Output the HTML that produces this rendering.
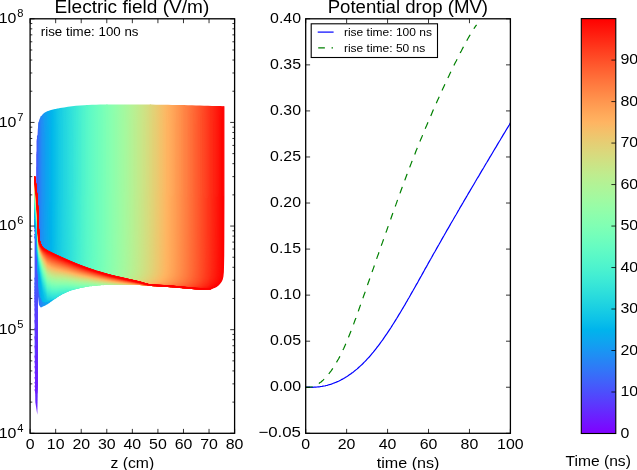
<!DOCTYPE html>
<html><head><meta charset="utf-8"><title>plot</title>
<style>html,body{margin:0;padding:0;background:#fff;}body{width:637px;height:470px;overflow:hidden;position:relative;font-family:"Liberation Sans",sans-serif;}</style>
</head><body>
<svg width="637" height="470" viewBox="0 0 637 470" style="position:absolute;left:0;top:0;will-change:transform;font-family:'Liberation Sans',sans-serif">
<rect x="0" y="0" width="637" height="470" fill="#fff"/>
<defs><linearGradient id="gm" gradientUnits="userSpaceOnUse" x1="37.3" y1="0" x2="223.8" y2="0">
<stop offset="0.0000" stop-color="#4c4ffc"/>
<stop offset="0.0080" stop-color="#3a69f9"/>
<stop offset="0.0161" stop-color="#2b7ff6"/>
<stop offset="0.0241" stop-color="#218cf4"/>
<stop offset="0.0322" stop-color="#1a95f3"/>
<stop offset="0.0402" stop-color="#149df1"/>
<stop offset="0.0483" stop-color="#0fa3f0"/>
<stop offset="0.0563" stop-color="#0ba8ef"/>
<stop offset="0.0643" stop-color="#07adee"/>
<stop offset="0.0724" stop-color="#03b1ec"/>
<stop offset="0.0804" stop-color="#02b6eb"/>
<stop offset="0.0885" stop-color="#06bbea"/>
<stop offset="0.0965" stop-color="#0bc0e8"/>
<stop offset="0.1046" stop-color="#0fc4e7"/>
<stop offset="0.1126" stop-color="#13c8e6"/>
<stop offset="0.1206" stop-color="#17cbe4"/>
<stop offset="0.1287" stop-color="#1acfe3"/>
<stop offset="0.1367" stop-color="#1ed2e2"/>
<stop offset="0.1448" stop-color="#21d5e0"/>
<stop offset="0.1528" stop-color="#24d8df"/>
<stop offset="0.1609" stop-color="#28dade"/>
<stop offset="0.1689" stop-color="#2bdddd"/>
<stop offset="0.1753" stop-color="#2ddfdc"/>
<stop offset="0.2021" stop-color="#39e7d7"/>
<stop offset="0.2290" stop-color="#46efd1"/>
<stop offset="0.2558" stop-color="#53f5cb"/>
<stop offset="0.2826" stop-color="#5efac6"/>
<stop offset="0.3094" stop-color="#68fcc1"/>
<stop offset="0.3362" stop-color="#72febc"/>
<stop offset="0.3630" stop-color="#7cffb6"/>
<stop offset="0.3898" stop-color="#86ffb1"/>
<stop offset="0.4166" stop-color="#90feab"/>
<stop offset="0.4434" stop-color="#9bfba5"/>
<stop offset="0.4702" stop-color="#a5f89e"/>
<stop offset="0.4971" stop-color="#b0f498"/>
<stop offset="0.5239" stop-color="#baef91"/>
<stop offset="0.5507" stop-color="#c5e88a"/>
<stop offset="0.5775" stop-color="#cfe183"/>
<stop offset="0.6043" stop-color="#dad87c"/>
<stop offset="0.6311" stop-color="#e5cf74"/>
<stop offset="0.6579" stop-color="#f0c46c"/>
<stop offset="0.6847" stop-color="#fbb965"/>
<stop offset="0.7115" stop-color="#ffad5d"/>
<stop offset="0.7383" stop-color="#ffa055"/>
<stop offset="0.7651" stop-color="#ff924c"/>
<stop offset="0.7920" stop-color="#ff8344"/>
<stop offset="0.8188" stop-color="#ff743c"/>
<stop offset="0.8456" stop-color="#ff6433"/>
<stop offset="0.8724" stop-color="#ff542a"/>
<stop offset="0.8992" stop-color="#ff4322"/>
<stop offset="0.9260" stop-color="#ff3119"/>
<stop offset="0.9528" stop-color="#ff2010"/>
<stop offset="0.9796" stop-color="#ff0e07"/>
<stop offset="1.0000" stop-color="#ff0000"/>
</linearGradient>
<linearGradient id="gw" gradientUnits="userSpaceOnUse" x1="0" y1="240" x2="0" y2="415">
<stop offset="0.000" stop-color="#425efa"/>
<stop offset="0.514" stop-color="#4c4ffc"/>
<stop offset="0.686" stop-color="#573ffd"/>
<stop offset="0.857" stop-color="#632cfe"/>
<stop offset="1.000" stop-color="#6e1cff"/>
</linearGradient>
<linearGradient id="gc" gradientUnits="userSpaceOnUse" x1="0" y1="433.5" x2="0" y2="18.6">
<stop offset="0.000" stop-color="#8000ff"/>
<stop offset="0.025" stop-color="#7314ff"/>
<stop offset="0.050" stop-color="#6628fe"/>
<stop offset="0.075" stop-color="#593cfd"/>
<stop offset="0.100" stop-color="#4c4ffc"/>
<stop offset="0.125" stop-color="#4062fa"/>
<stop offset="0.150" stop-color="#3374f8"/>
<stop offset="0.175" stop-color="#2685f5"/>
<stop offset="0.200" stop-color="#1996f3"/>
<stop offset="0.225" stop-color="#0da6ef"/>
<stop offset="0.250" stop-color="#00b4ec"/>
<stop offset="0.275" stop-color="#0dc2e8"/>
<stop offset="0.300" stop-color="#19cee3"/>
<stop offset="0.325" stop-color="#26d9de"/>
<stop offset="0.350" stop-color="#33e3d9"/>
<stop offset="0.375" stop-color="#40ecd4"/>
<stop offset="0.400" stop-color="#4df3ce"/>
<stop offset="0.425" stop-color="#59f8c8"/>
<stop offset="0.450" stop-color="#66fcc2"/>
<stop offset="0.475" stop-color="#73febb"/>
<stop offset="0.500" stop-color="#80ffb4"/>
<stop offset="0.525" stop-color="#8cfead"/>
<stop offset="0.550" stop-color="#99fca6"/>
<stop offset="0.575" stop-color="#a6f89e"/>
<stop offset="0.600" stop-color="#b2f396"/>
<stop offset="0.625" stop-color="#bfec8e"/>
<stop offset="0.650" stop-color="#cce385"/>
<stop offset="0.675" stop-color="#d9d97d"/>
<stop offset="0.700" stop-color="#e5ce74"/>
<stop offset="0.725" stop-color="#f2c26b"/>
<stop offset="0.750" stop-color="#ffb462"/>
<stop offset="0.775" stop-color="#ffa658"/>
<stop offset="0.800" stop-color="#ff964f"/>
<stop offset="0.825" stop-color="#ff8545"/>
<stop offset="0.850" stop-color="#ff743c"/>
<stop offset="0.875" stop-color="#ff6232"/>
<stop offset="0.900" stop-color="#ff4f28"/>
<stop offset="0.925" stop-color="#ff3c1e"/>
<stop offset="0.950" stop-color="#ff2814"/>
<stop offset="0.975" stop-color="#ff140a"/>
<stop offset="1.000" stop-color="#ff0000"/>
</linearGradient>
<clipPath id="cl"><rect x="30.1" y="18.8" width="204.5" height="414.5"/></clipPath>
<clipPath id="cm"><rect x="305.7" y="18.8" width="204.7" height="414.5"/></clipPath>
</defs>
<g clip-path="url(#cl)">
<polygon fill="url(#gw)" points="34.6,236 37.7,236 37.7,395 37.3,414.7 35.3,402 35.0,380 34.6,340"/>
<g fill="none" stroke-width="1.3" stroke-linejoin="round">
<polyline stroke="#6e1cff" points="35.0,389.3 35.8,392.0 36.4,393.4 36.8,392.9 37.0,390.4 37.1,385.5 37.2,375.1 37.3,352.8 37.4,291.0"/>
<polyline stroke="#6d1dff" points="35.0,385.5 35.8,388.4 36.4,389.9 36.8,389.4 37.0,387.0 37.1,382.2 37.2,372.0 37.3,349.9 37.4,288.5"/>
<polyline stroke="#6d1eff" points="35.0,381.9 35.8,384.9 36.4,386.5 36.8,386.1 37.0,383.8 37.1,379.1 37.2,369.0 37.3,347.1 37.4,286.1"/>
<polyline stroke="#6c1fff" points="35.0,377.2 35.8,380.3 36.4,382.1 36.8,381.8 37.0,379.6 37.1,375.0 37.2,365.1 37.3,343.5 37.4,282.8"/>
<polyline stroke="#6a21fe" points="35.0,371.6 35.8,374.9 36.4,376.8 36.8,376.7 37.0,374.6 37.1,370.2 37.2,360.5 37.3,339.1 37.4,278.7"/>
<polyline stroke="#6923fe" points="35.0,366.1 35.8,369.6 36.4,371.7 36.8,371.7 37.0,369.8 37.1,365.5 37.2,356.0 37.3,334.8 37.4,274.6"/>
<polyline stroke="#6825fe" points="35.0,360.8 35.8,364.5 36.4,366.8 36.8,367.0 37.0,365.2 37.1,361.1 37.2,351.7 37.3,330.7 37.4,270.5"/>
<polyline stroke="#6726fe" points="35.0,355.6 35.8,359.5 36.4,362.0 36.8,362.3 37.0,360.7 37.1,356.7 37.2,347.5 37.3,326.7 37.4,266.4"/>
<polyline stroke="#652afe" points="35.0,345.7 35.8,350.0 36.4,352.9 36.8,353.5 37.0,352.2 37.1,348.4 37.2,339.5 37.3,318.9 37.4,258.2"/>
<polyline stroke="#622dfe" points="35.0,336.4 35.8,341.1 36.4,344.3 36.8,345.2 37.0,344.2 37.1,340.6 37.2,332.0 37.3,311.5 37.4,250.1"/>
<polyline stroke="#6031fe" points="35.0,327.9 35.8,332.9 36.4,336.4 36.8,337.6 37.0,336.7 37.1,333.4 37.2,324.9 37.3,304.4 37.4,242.0"/>
<polyline stroke="#5e34fe" points="35.0,320.2 35.8,325.5 36.4,329.3 36.8,330.6 37.0,329.9 37.1,326.8 37.2,318.4 37.3,297.8 37.4,233.9"/>
<polyline stroke="#5c38fd" points="35.0,313.7 35.8,319.2 36.4,323.1 36.8,324.6 37.0,324.0 37.1,320.8 37.2,312.4 37.3,291.5 37.4,225.9"/>
<polyline stroke="#593cfd" points="35.0,308.4 35.8,313.9 36.4,317.9 36.8,319.5 37.0,318.9 37.1,315.8 37.2,307.2 37.3,285.7 37.4,218.0"/>
<polyline stroke="#573ffd" points="35.0,304.2 35.8,309.8 36.4,313.8 36.8,315.3 37.0,314.7 37.1,311.4 37.2,302.3 37.3,279.2"/>
<polyline stroke="#5543fd" points="34.9,300.6 35.7,306.2 36.3,310.2 36.7,311.7 37.0,311.0 37.1,307.7 37.2,299.1 37.3,278.6 37.3,219.1"/>
<polyline stroke="#5246fd" points="34.9,297.6 35.7,303.1 36.3,307.1 36.7,308.5 37.0,307.6 37.1,304.0 37.2,294.2 37.3,269.5"/>
<polyline stroke="#5049fc" points="34.9,294.8 35.7,300.3 36.3,304.2 36.7,305.5 37.0,304.6 37.1,300.8 37.2,291.0 37.3,267.2 37.3,196.2"/>
<polyline stroke="#4e4dfc" points="34.9,292.2 35.7,297.5 36.3,301.5 36.7,302.7 37.0,301.5 37.1,297.7 37.2,287.8 37.3,255.7"/>
<polyline stroke="#4b50fc" points="34.9,289.3 35.7,294.8 36.3,298.6 36.7,299.7 37.0,298.4 37.1,294.0 37.2,282.6 37.3,253.4"/>
<polyline stroke="#4954fb" points="34.9,286.1 35.7,291.6 36.3,295.4 36.7,296.6 37.0,295.2 37.1,290.8 37.2,279.4 37.3,251.5 37.3,166.7"/>
<polyline stroke="#4757fb" points="34.9,282.5 35.7,288.0 36.3,291.8 36.7,293.0 37.0,291.5 37.1,286.7 37.2,274.1 37.3,240.7"/>
<polyline stroke="#455bfb" points="34.9,277.7 35.7,283.4 36.3,287.4 36.7,288.6 37.0,287.3 37.1,282.8 37.2,271.1 37.3,242.1 37.3,153.9"/>
</g>
<polygon fill="url(#gm)" points="37.3,140.0 37.8,129.7 38.3,124.3 38.8,121.5 39.3,119.8 39.8,118.5 40.3,117.5 40.8,116.7 41.3,116.0 41.8,115.4 42.3,114.8 42.8,114.3 43.3,113.8 43.8,113.3 44.3,112.9 44.8,112.5 45.3,112.2 45.8,111.9 46.3,111.7 46.8,111.4 47.3,111.2 47.8,111.0 48.3,110.9 48.8,110.7 49.3,110.5 49.8,110.4 50.3,110.2 50.8,110.1 51.3,110.0 51.8,109.8 52.3,109.7 52.8,109.6 53.3,109.5 53.8,109.3 54.3,109.2 54.8,109.1 55.3,109.0 55.8,108.9 56.3,108.8 56.8,108.7 57.3,108.6 57.8,108.5 58.3,108.4 58.8,108.3 59.3,108.2 59.8,108.1 60.0,108.1 64.0,107.4 68.0,106.8 72.0,106.2 76.0,105.8 80.0,105.5 84.0,105.2 88.0,105.0 92.0,104.8 96.0,104.7 100.0,104.6 104.0,104.6 108.0,104.5 112.0,104.4 116.0,104.4 120.0,104.4 124.0,104.4 128.0,104.4 132.0,104.4 136.0,104.5 140.0,104.5 144.0,104.5 148.0,104.6 152.0,104.6 156.0,104.7 160.0,104.7 164.0,104.8 168.0,104.8 172.0,104.9 176.0,105.0 180.0,105.1 184.0,105.1 188.0,105.2 192.0,105.3 196.0,105.4 200.0,105.5 204.0,105.7 208.0,105.8 212.0,105.9 216.0,106.0 220.0,106.1 223.8,106.3 223.8,106.3 223.8,199.7 223.7,236.3 223.6,255.0 223.4,265.2 223.2,272.0 222.8,276.4 222.2,279.0 221.4,280.9 220.3,282.6 218.8,284.4 216.8,286.1 214.3,287.4 211.3,288.3 208.0,288.7 204.0,288.8 200.0,288.8 196.0,288.5 192.0,288.0 188.0,287.5 184.0,287.0 180.0,286.5 176.0,286.0 172.0,285.6 168.0,285.3 164.0,285.0 160.0,284.7 156.0,284.5 152.0,284.3 148.0,284.1 144.0,284.0 140.0,283.8 136.0,283.7 132.0,283.6 128.0,283.6 124.0,283.6 120.0,283.7 116.0,283.8 112.0,283.9 108.0,284.0 104.0,284.1 100.0,284.4 96.0,284.8 92.0,285.2 88.0,285.7 84.0,286.7 80.0,287.9 76.0,289.1 72.0,290.2 68.0,291.5 64.0,293.3 60.0,295.4 59.5,295.7 59.0,296.1 58.5,296.4 58.0,296.8 57.5,297.1 57.0,297.5 56.5,297.9 56.0,298.2 55.5,298.6 55.0,298.9 54.5,299.3 54.0,299.6 53.5,300.0 53.0,300.3 52.5,300.7 52.0,301.0 51.5,301.4 51.0,301.8 50.5,302.1 50.0,302.5 49.5,302.9 49.0,303.2 48.5,303.6 48.0,303.9 47.5,304.2 47.0,304.5 46.5,304.8 46.0,305.1 45.5,305.4 45.0,305.6 44.5,305.9 44.0,306.1 43.5,306.3 43.0,306.6 42.5,306.8 42.0,307.0 41.5,307.3 41.0,307.4 40.5,307.2 40.0,306.6 39.5,305.8 39.0,304.7 38.4,300.0 37.3,290.0"/>
<g fill="none" stroke-width="1.3" stroke-linejoin="round">
<polyline stroke="#4c4ffc" points="34.6,236.5 34.9,237.3 35.7,239.5 36.3,240.8 36.7,240.2 37.0,237.7 37.1,232.7 37.2,222.2 37.3,200.0 37.3,139.2"/>
<polyline stroke="#4a52fc" points="34.6,233.8 34.9,234.7 35.7,237.5 36.3,239.2 36.7,238.9 37.0,236.7 37.1,232.1 37.2,222.6 37.3,202.7 37.3,151.8"/>
<polyline stroke="#4855fb" points="34.6,229.9 35.0,231.2 35.8,234.6 36.4,236.7 36.8,236.8 37.0,234.9 37.2,230.4 37.3,220.2 37.3,197.1"/>
<polyline stroke="#4658fb" points="34.6,226.7 35.0,228.5 35.8,232.4 36.4,234.9 36.8,235.4 37.1,233.7 37.2,229.4 37.3,219.4 37.4,196.0"/>
<polyline stroke="#445bfb" points="34.6,223.7 35.0,225.6 35.1,226.2 35.9,230.6 36.5,233.4 36.9,234.2 37.2,233.0 37.3,229.1 37.4,219.9 37.5,199.0 37.5,140.7"/>
<polyline stroke="#425efa" points="34.6,222.0 35.0,224.0 35.2,225.4 36.0,230.1 36.6,233.1 37.0,234.2 37.3,233.2 37.4,229.5 37.5,220.1 37.6,198.1 37.6,135.5"/>
<polyline stroke="#4061fa" points="34.6,221.6 35.0,223.6 35.4,225.8 36.2,230.8 36.8,233.9 37.2,235.4 37.4,234.7 37.6,231.1 37.7,221.5 37.7,199.2 37.8,138.0"/>
<polyline stroke="#3e64fa" points="34.6,221.1 35.0,223.3 35.4,225.7 35.5,226.6 36.4,231.7 37.0,235.1 37.4,237.0 37.6,236.7 37.8,232.7 37.9,221.3 37.9,193.3"/>
<polyline stroke="#3c67fa" points="34.6,220.9 35.7,227.6 36.5,232.8 37.1,236.7 37.5,239.5 37.8,239.5 37.9,235.2 38.0,223.4 38.1,195.4"/>
<polyline stroke="#3a6af9" points="34.6,220.5 34.8,221.7 35.9,228.9 36.7,234.3 37.3,239.0 37.7,242.8 38.0,242.6 38.1,237.8 38.2,225.2 38.3,196.0"/>
<polyline stroke="#386df9" points="34.6,220.2 35.0,222.8 36.1,230.4 36.9,236.1 37.5,242.3 37.9,246.6 38.2,246.0 38.3,241.0 38.4,228.8 38.5,202.7 38.5,135.1"/>
<polyline stroke="#366ff9" points="34.6,220.1 35.0,222.4 35.3,224.2 36.4,232.2 37.2,238.6 37.8,246.6 38.2,250.6 38.4,249.4 38.6,243.6 38.7,229.1 38.7,195.9"/>
<polyline stroke="#3472f8" points="34.6,219.9 35.0,222.3 35.4,225.0 35.5,225.9 36.6,234.1 37.4,241.9 38.0,251.3 38.4,254.8 38.7,253.4 38.8,246.9 38.9,232.4 39.0,202.1 39.0,122.3"/>
<polyline stroke="#3275f8" points="34.6,219.8 35.0,222.3 35.4,225.0 35.8,227.9 36.9,236.5 37.7,246.8 38.3,256.0 38.7,259.3 38.9,256.4 39.1,248.9 39.2,233.4 39.2,200.5"/>
<polyline stroke="#3078f7" points="34.6,219.8 35.0,222.2 35.4,225.1 35.8,228.1 36.0,230.1 37.1,239.5 38.0,252.5 38.5,261.3 39.0,262.7 39.2,258.7 39.4,250.5 39.5,234.1 39.5,199.3"/>
<polyline stroke="#2e7bf7" points="34.6,219.7 34.8,221.1 36.3,232.5 37.4,243.5 38.2,257.9 38.8,265.9 39.2,265.3 39.5,260.8 39.6,252.8 39.7,237.5 39.8,207.5 39.8,133.8"/>
<polyline stroke="#2c7ef7" points="34.6,219.7 35.0,222.3 35.1,223.1 36.6,235.1 37.7,249.5 38.5,264.0 39.1,269.0 39.5,267.4 39.8,262.4 39.9,253.9 40.0,237.4 40.1,203.7"/>
<polyline stroke="#2a80f6" points="34.6,219.7 35.0,222.3 35.4,225.3 36.9,238.0 38.0,256.0 38.8,269.4 39.4,271.4 39.8,269.3 40.0,264.1 40.2,255.5 40.3,239.0 40.4,206.1 40.4,121.9"/>
<polyline stroke="#2883f6" points="34.6,219.8 35.0,222.4 35.4,225.4 35.7,227.9 37.2,241.7 38.3,262.4 39.1,272.8 39.7,273.6 40.1,271.0 40.4,265.5 40.5,256.4 40.6,239.0 40.7,203.1"/>
<polyline stroke="#2686f5" points="34.6,219.8 35.0,222.5 35.4,225.5 35.8,228.9 36.0,230.6 37.5,247.0 38.6,269.3 39.4,275.5 40.0,275.5 40.4,272.7 40.6,266.9 40.8,257.6 40.9,239.9 41.0,203.7"/>
<polyline stroke="#2489f5" points="34.6,219.8 35.0,222.5 35.4,225.6 35.8,229.0 36.2,232.6 36.3,233.5 37.8,253.9 38.9,274.4 39.7,277.7 40.3,277.3 40.7,274.2 41.0,268.3 41.1,258.9 41.2,241.4 41.3,206.4 41.3,115.9"/>
<polyline stroke="#228bf4" points="34.6,220.0 36.6,236.6 38.1,261.9 39.2,277.9 40.0,279.9 40.6,279.0 41.0,275.6 41.3,269.5 41.4,260.0 41.5,242.5 41.6,208.1 41.6,120.9"/>
<polyline stroke="#208ef4" points="34.6,219.8 35.0,222.8 37.0,240.9 38.5,271.2 39.6,280.9 40.4,281.9 41.0,280.5 41.4,276.8 41.7,270.3 41.8,260.5 41.9,241.8 42.0,203.3"/>
<polyline stroke="#1e91f3" points="34.6,219.8 35.0,222.6 35.5,226.3 37.5,247.8 39.0,278.9 40.0,283.6 40.9,283.8 41.5,281.9 41.9,278.0 42.1,271.6 42.2,261.9 42.4,244.2 42.4,209.7 42.5,123.8"/>
<polyline stroke="#1c93f3" points="34.6,219.7 35.0,222.6 35.4,225.9 35.8,229.5 35.9,230.7 37.9,259.6 39.4,283.3 40.5,285.9 41.3,285.3 41.9,283.1 42.3,279.1 42.6,272.6 42.7,262.9 42.8,245.1 42.9,211.1 42.9,127.6"/>
<polyline stroke="#1996f3" points="34.6,219.6 35.0,222.5 35.4,225.9 35.8,229.5 36.2,233.4 36.5,235.8 38.5,273.0 40.0,286.7 41.1,287.8 41.9,286.6 42.5,284.3 42.9,280.0 43.1,273.2 43.3,262.9 43.4,243.2 43.4,202.4"/>
<polyline stroke="#1798f2" points="34.6,219.5 35.0,222.5 35.4,225.8 35.8,229.5 36.2,233.4 36.6,237.3 37.0,241.8 39.0,283.5 40.5,289.5 41.6,289.4 42.4,287.9 43.0,285.5 43.4,281.2 43.7,274.5 43.8,264.6 43.9,246.8 44.0,213.2 44.0,132.8"/>
<polyline stroke="#159bf2" points="34.6,219.4 35.0,222.3 35.1,223.2 37.6,253.0 39.6,288.6 41.1,291.6 42.2,290.7 43.0,289.1 43.6,286.5 44.0,282.0 44.3,275.1 44.4,264.5 44.5,244.7 44.6,204.2"/>
<polyline stroke="#139ef1" points="34.6,219.2 35.0,222.2 35.4,225.7 35.7,228.8 38.2,269.7 40.2,292.2 41.7,293.3 42.8,292.0 43.6,290.2 44.2,287.5 44.6,283.0 44.9,275.9 45.0,265.3 45.1,245.3 45.2,204.6"/>
<polyline stroke="#11a0f0" points="34.6,219.1 35.0,222.1 35.4,225.6 35.8,229.4 36.2,233.4 36.4,235.2 38.9,285.7 40.9,295.0 42.4,294.7 43.5,293.2 44.3,291.3 44.9,288.5 45.3,283.9 45.5,276.9 45.7,266.4 45.8,247.2 45.8,209.7 45.9,114.4"/>
<polyline stroke="#0fa3f0" points="34.6,218.9 35.0,221.9 35.4,225.5 35.8,229.3 36.2,233.4 36.6,237.5 37.0,242.6 39.5,292.4 41.5,297.0 43.0,296.1 44.1,294.4 44.9,292.3 45.5,289.4 45.9,284.8 46.2,277.8 46.3,267.5 46.4,249.0 46.5,214.1 46.5,130.5"/>
<polyline stroke="#0da5ef" points="34.6,214.7 34.7,215.5 37.7,248.2 40.2,295.7 42.2,297.5 43.7,296.2 44.8,294.3 45.6,292.1 46.2,289.2 46.6,284.6 46.9,277.5 47.0,267.1 47.1,248.4 47.2,212.6 47.2,125.9"/>
<polyline stroke="#0ba7ef" points="34.6,213.7 35.0,216.5 35.4,219.7 38.4,261.8 40.9,297.7 42.9,297.9 44.4,296.3 45.5,294.2 46.3,291.9 46.9,289.0 47.3,284.3 47.5,277.2 47.7,266.8 47.8,248.0 47.9,212.2 47.9,125.2"/>
<polyline stroke="#09aaee" points="34.6,213.0 35.0,215.8 35.4,218.9 35.8,222.4 36.1,225.1 39.1,271.0 41.6,298.8 43.6,298.1 45.1,296.2 46.2,294.0 47.0,291.7 47.6,288.7 48.0,283.9 48.2,276.7 48.4,266.0 48.5,246.5 48.6,208.0"/>
<polyline stroke="#07acee" points="34.6,212.3 35.0,215.1 35.4,218.3 35.8,221.7 36.2,225.3 36.6,228.8 36.8,230.7 39.8,274.3 42.3,299.4 44.3,298.2 45.8,296.1 46.9,293.8 47.7,291.4 48.3,288.3 48.7,283.5 49.0,276.3 49.1,265.5 49.2,245.7 49.3,206.3"/>
<polyline stroke="#05afed" points="34.6,211.7 35.0,214.5 35.4,217.6 35.8,221.1 36.2,224.7 36.6,228.2 37.0,232.2 37.5,239.7 40.5,280.0 43.0,299.8 45.0,298.2 46.5,295.9 47.6,293.5 48.4,291.1 49.0,287.9 49.4,283.1 49.6,275.7 49.8,264.7 49.9,244.2 50.0,201.9"/>
<polyline stroke="#03b1ec" points="34.6,211.1 35.0,213.9 35.4,217.1 35.8,220.5 36.2,224.1 36.6,227.6 37.0,231.6 37.4,237.2 37.8,245.6 38.2,253.9 41.2,286.4 43.7,300.1 45.7,298.1 47.2,295.6 48.3,293.2 49.1,290.7 49.7,287.5 50.1,282.7 50.3,275.3 50.5,264.4 50.6,244.0 50.6,202.1"/>
<polyline stroke="#01b3ec" points="34.6,210.6 35.0,213.4 35.4,216.5 35.8,220.0 36.2,223.5 36.6,227.1 37.0,231.1 37.4,236.6 37.8,245.0 38.2,253.5 38.6,261.9 38.9,265.8 41.9,292.1 44.4,300.2 46.4,297.9 47.9,295.4 49.0,292.8 49.8,290.3 50.4,287.1 50.8,282.2 51.0,274.9 51.2,263.9 51.3,243.5 51.3,201.5"/>
<polyline stroke="#01b5eb" points="34.6,210.1 35.0,212.9 35.4,216.0 35.8,219.5 36.2,223.0 36.6,226.6 37.0,230.6 37.4,236.1 37.8,244.5 38.2,253.0 38.6,261.4 39.0,266.4 39.4,269.2 39.5,270.0 42.5,301.0 45.0,300.2 47.0,297.7 48.5,295.1 49.6,292.5 50.4,289.9 51.0,286.8 51.4,282.0 51.7,274.9 51.8,264.5 51.9,246.0 52.0,211.2 52.0,127.8"/>
<polyline stroke="#03b8eb" points="34.6,209.6 35.0,212.4 35.4,215.5 35.8,219.0 36.2,222.5 36.6,226.1 37.0,230.1 37.4,235.6 37.8,244.0 38.2,252.5 38.6,260.9 39.0,265.9 39.4,268.7 39.8,270.9 40.2,273.7 43.2,301.4 45.7,300.1 47.7,297.5 49.2,294.7 50.3,292.0 51.1,289.5 51.7,286.3 52.1,281.5 52.4,274.4 52.5,263.9 52.6,244.9 52.7,208.3 52.7,117.4"/>
<polyline stroke="#05baea" points="34.6,209.1 35.0,211.9 35.4,215.1 35.8,218.5 36.2,222.1 36.6,225.6 37.0,229.6 37.4,235.1 37.8,243.5 38.2,252.0 38.6,260.4 39.0,265.4 39.4,268.2 39.8,270.4 40.2,273.1 40.6,276.3 40.9,278.7 43.9,301.6 46.4,299.9 48.4,297.1 49.9,294.3 51.0,291.6 51.8,289.1 52.4,285.9 52.8,281.1 53.0,274.0 53.2,263.5 53.3,244.6 53.4,208.3 53.4,118.6"/>
<polyline stroke="#07bce9" points="34.6,208.7 35.0,211.5 35.4,214.6 35.8,218.0 36.2,221.6 36.6,225.1 37.0,229.1 37.4,234.7 37.8,243.1 38.2,251.6 38.6,259.9 39.0,265.0 39.4,267.8 39.8,270.0 40.2,272.6 40.6,275.7 41.0,278.8 41.4,281.6 41.6,282.9 44.6,301.7 47.1,299.7 49.1,296.8 50.6,293.8 51.7,291.2 52.5,288.6 53.1,285.5 53.5,280.7 53.8,273.7 53.9,263.4 54.0,245.2 54.1,211.1 54.1,130.9"/>
<polyline stroke="#09bee9" points="34.6,208.2 35.0,211.0 35.4,214.2 35.8,217.6 36.2,221.2 36.6,224.7 37.0,228.7 37.4,234.2 37.8,242.6 38.2,251.2 38.6,259.5 39.0,264.5 39.4,267.3 39.8,269.5 40.2,272.1 40.6,275.1 41.0,278.1 41.4,280.8 41.8,283.4 42.2,285.8 42.3,286.6 45.3,301.7 47.8,299.4 49.8,296.4 51.3,293.4 52.4,290.7 53.2,288.2 53.8,285.0 54.2,280.2 54.5,273.0 54.6,262.5 54.7,243.4 54.8,206.1 54.8,112.1"/>
<polyline stroke="#0bc0e8" points="34.6,207.8 35.0,210.6 35.4,213.7 35.8,217.2 36.2,220.7 36.6,224.3 37.0,228.3 37.4,233.8 37.8,242.2 38.2,250.8 38.6,259.1 39.0,264.1 39.4,266.9 39.8,269.1 40.2,271.7 40.6,274.6 41.0,277.5 41.4,280.1 41.8,282.6 42.2,285.0 42.6,287.4 43.0,290.0 46.0,301.6 48.5,299.1 50.5,295.9 52.0,292.9 53.1,290.3 54.0,287.7 54.5,284.5 55.0,279.7 55.2,272.5 55.4,261.9 55.5,242.4 55.5,203.8"/>
<polyline stroke="#0dc2e7" points="34.6,207.4 35.0,210.2 35.4,213.3 35.8,216.7 36.2,220.3 36.6,223.9 37.0,227.9 37.4,233.4 37.8,241.8 38.2,250.4 38.6,258.7 39.0,263.7 39.4,266.5 39.8,268.7 40.2,271.2 40.6,274.1 41.0,276.9 41.4,279.5 41.8,281.9 42.2,284.2 42.6,286.5 43.0,288.8 43.4,291.0 43.8,293.0 46.8,301.4 49.3,298.7 51.3,295.5 52.8,292.5 53.9,289.8 54.7,287.3 55.3,284.1 55.7,279.3 55.9,272.1 56.1,261.6 56.2,242.3 56.2,204.6"/>
<polyline stroke="#0fc4e7" points="34.6,207.0 35.0,209.7 35.4,212.9 35.8,216.3 36.2,219.9 36.6,223.5 37.0,227.5 37.4,233.0 37.8,241.4 38.2,250.0 38.6,258.3 39.0,263.3 39.4,266.1 39.8,268.3 40.2,270.8 40.6,273.6 41.0,276.4 41.4,278.9 41.8,281.2 42.2,283.5 42.6,285.7 43.0,288.0 43.4,290.1 43.8,292.1 44.5,295.3 47.5,301.2 50.0,298.3 52.0,295.0 53.5,292.0 54.6,289.4 55.4,286.8 56.0,283.6 56.4,278.9 56.7,271.8 56.8,261.5 56.9,243.1 57.0,208.2 57.0,124.0"/>
<polyline stroke="#11c7e6" points="34.6,206.5 35.0,209.3 35.4,212.5 35.8,215.9 36.2,219.5 36.6,223.1 37.0,227.1 37.4,232.6 37.8,241.0 38.2,249.6 38.6,258.0 39.0,263.0 39.4,265.7 39.8,267.9 40.2,270.4 40.6,273.2 41.0,275.8 41.4,278.3 41.8,280.6 42.2,282.8 42.6,285.0 43.0,287.2 43.4,289.3 43.8,291.2 44.0,292.2 45.3,297.0 48.3,300.8 50.8,297.8 52.8,294.5 54.3,291.5 55.4,288.9 56.2,286.3 56.8,283.1 57.2,278.3 57.5,271.2 57.6,260.6 57.7,241.4 57.8,203.6"/>
<polyline stroke="#13c9e5" points="34.6,206.2 35.0,208.9 35.4,212.1 35.8,215.5 36.2,219.1 36.6,222.7 37.0,226.7 37.4,232.2 37.8,240.7 38.2,249.2 38.6,257.6 39.0,262.6 39.4,265.4 39.8,267.5 40.2,270.0 40.6,272.7 41.0,275.3 41.4,277.8 41.8,280.1 42.2,282.2 42.6,284.4 43.0,286.5 43.4,288.6 43.8,290.5 44.0,291.4 46.1,298.3 49.1,300.4 51.6,297.3 53.6,294.0 55.1,291.0 56.2,288.4 57.0,285.8 57.6,282.6 58.0,277.8 58.2,270.6 58.4,260.0 58.5,240.5 58.5,201.8"/>
<polyline stroke="#15cae5" points="34.6,205.8 35.0,208.6 35.4,211.7 35.8,215.2 36.2,218.8 36.6,222.3 37.0,226.3 37.4,231.9 37.8,240.3 38.2,248.9 38.6,257.3 39.0,262.2 39.4,265.0 39.8,267.2 40.2,269.6 40.6,272.3 41.0,274.9 41.4,277.3 41.8,279.5 42.2,281.6 42.6,283.8 43.0,285.9 43.4,287.9 43.8,289.8 44.0,290.7 46.9,299.2 49.9,300.0 52.4,296.8 54.4,293.5 55.9,290.5 57.0,287.9 57.8,285.3 58.4,282.1 58.8,277.3 59.0,270.2 59.2,259.7 59.3,240.6 59.3,203.0"/>
<polyline stroke="#17cce4" points="34.6,205.4 35.0,208.2 35.4,211.4 35.8,214.8 36.2,218.4 36.6,221.9 37.0,226.0 37.4,231.5 37.8,239.9 38.2,248.5 38.6,256.9 39.0,261.9 39.4,264.7 39.8,266.8 40.2,269.2 40.6,271.9 41.0,274.4 41.4,276.8 41.8,279.0 42.2,281.1 42.6,283.2 43.0,285.3 43.4,287.3 43.8,289.1 44.0,290.0 47.7,299.7 50.7,299.5 53.2,296.3 55.2,293.0 56.7,290.0 57.8,287.3 58.6,284.8 59.2,281.6 59.6,276.9 59.8,269.9 60.0,259.7 60.1,241.4 60.1,206.9 60.2,123.9"/>
<polyline stroke="#1acee3" points="34.6,205.0 35.0,207.8 35.4,211.0 35.8,214.4 36.2,218.0 36.6,221.6 37.0,225.6 37.4,231.2 37.8,239.6 38.2,248.2 38.6,256.6 39.0,261.6 39.4,264.3 39.8,266.5 40.2,268.9 40.6,271.4 41.0,274.0 41.4,276.3 41.8,278.5 42.2,280.5 42.6,282.6 43.0,284.7 43.4,286.7 43.8,288.5 44.0,289.4 48.5,299.9 51.5,299.0 54.0,295.8 56.0,292.5 57.5,289.5 58.6,286.8 59.4,284.2 60.0,281.1 60.4,276.3 60.6,269.3 60.8,258.8 60.9,239.9 61.0,202.7 61.0,107.9"/>
<polyline stroke="#1cd0e2" points="34.6,204.6 35.0,207.4 35.4,210.6 35.8,214.1 36.2,217.7 36.6,221.2 37.0,225.2 37.4,230.8 37.8,239.3 38.2,247.9 38.6,256.3 39.0,261.2 39.4,264.0 39.8,266.2 40.2,268.5 40.6,271.1 41.0,273.5 41.4,275.8 41.8,278.0 42.2,280.0 42.6,282.1 43.0,284.1 43.4,286.1 43.8,287.9 44.0,288.8 48.0,299.0 49.3,299.7 52.3,298.5 54.8,295.3 56.8,292.0 58.3,288.9 59.4,286.2 60.2,283.7 60.8,280.6 61.2,275.9 61.5,268.9 61.6,258.7 61.7,240.1 61.8,204.5 61.8,116.4"/>
<polyline stroke="#1ed2e2" points="34.6,204.3 35.0,207.1 35.4,210.3 35.8,213.7 36.2,217.3 36.6,220.9 37.0,224.9 37.4,230.5 37.8,238.9 38.2,247.5 38.6,255.9 39.0,260.9 39.4,263.7 39.8,265.8 40.2,268.1 40.6,270.7 41.0,273.1 41.4,275.4 41.8,277.5 42.2,279.5 42.6,281.6 43.0,283.6 43.4,285.5 43.8,287.4 44.0,288.2 48.0,298.6 50.2,299.5 53.2,298.0 55.7,294.7 57.7,291.4 59.2,288.3 60.3,285.7 61.1,283.2 61.7,280.1 62.1,275.4 62.4,268.4 62.5,257.9 62.6,238.5 62.7,200.0"/>
<polyline stroke="#20d4e1" points="34.6,203.9 35.0,206.7 35.4,209.9 35.8,213.4 36.2,217.0 36.6,220.5 37.0,224.6 37.4,230.1 37.8,238.6 38.2,247.2 38.6,255.6 39.0,260.6 39.4,263.4 39.8,265.5 40.2,267.8 40.6,270.3 41.0,272.7 41.4,275.0 41.8,277.1 42.2,279.1 42.6,281.1 43.0,283.1 43.4,285.0 43.8,286.8 44.0,287.7 48.0,298.1 51.1,299.2 54.1,297.4 56.6,294.1 58.6,290.7 60.1,287.7 61.2,285.2 62.0,282.8 62.6,279.7 63.0,275.1 63.3,268.2 63.4,258.0 63.5,239.8 63.6,205.0 63.6,120.8"/>
<polyline stroke="#22d6e0" points="34.6,203.6 35.0,206.4 35.4,209.6 35.8,213.0 36.2,216.6 36.6,220.2 37.0,224.2 37.4,229.8 37.8,238.3 38.2,246.9 38.6,255.3 39.0,260.3 39.4,263.1 39.8,265.2 40.2,267.5 40.6,269.9 41.0,272.3 41.4,274.5 41.8,276.6 42.2,278.6 42.6,280.6 43.0,282.6 43.4,284.5 43.8,286.3 44.0,287.1 48.0,297.7 52.0,299.0 55.0,296.8 57.5,293.5 59.5,290.1 61.0,287.2 62.1,284.7 63.0,282.3 63.5,279.3 64.0,274.7 64.2,267.7 64.3,257.4 64.5,238.5 64.5,201.8 64.5,108.6"/>
<polyline stroke="#24d7df" points="34.6,203.2 35.0,206.1 35.4,209.2 35.8,212.7 36.2,216.3 36.6,219.9 37.0,223.9 37.4,229.5 37.8,238.0 38.2,246.6 38.6,255.0 39.0,260.0 39.4,262.8 39.8,264.9 40.2,267.2 40.6,269.6 41.0,271.9 41.4,274.1 41.8,276.2 42.2,278.1 42.6,280.1 43.0,282.1 43.4,284.0 43.8,285.8 44.0,286.6 48.0,297.3 53.0,298.7 56.0,296.2 58.5,292.9 60.5,289.5 62.0,286.7 63.1,284.3 63.9,281.9 64.5,278.9 64.9,274.4 65.1,267.5 65.3,257.4 65.4,239.4 65.5,205.7 65.5,125.1"/>
<polyline stroke="#26d9df" points="34.6,202.9 35.0,205.7 35.4,208.9 35.8,212.4 36.2,216.0 36.6,219.5 37.0,223.6 37.4,229.2 37.8,237.7 38.2,246.3 38.6,254.8 39.0,259.7 39.4,262.5 39.8,264.6 40.2,266.8 40.6,269.2 41.0,271.6 41.4,273.8 41.8,275.8 42.2,277.7 42.6,279.7 43.0,281.6 43.4,283.5 43.8,285.3 44.0,286.1 48.0,296.9 52.0,298.3 54.0,298.5 57.0,295.5 59.5,292.2 61.5,289.0 63.0,286.3 64.0,283.9 64.8,281.5 65.5,278.5 65.8,273.9 66.1,266.8 66.2,256.4 66.3,237.3 66.4,199.4"/>
<polyline stroke="#28dbde" points="34.6,202.6 35.0,205.4 35.4,208.6 35.8,212.1 36.2,215.7 36.6,219.2 37.0,223.3 37.4,228.9 37.8,237.4 38.2,246.0 38.6,254.5 39.0,259.4 39.4,262.2 39.8,264.3 40.2,266.5 40.6,268.9 41.0,271.2 41.4,273.4 41.8,275.4 42.2,277.3 42.6,279.2 43.0,281.2 43.4,283.0 43.8,284.8 44.0,285.6 48.0,296.4 52.0,297.9 54.9,298.1 57.9,294.9 60.4,291.6 62.4,288.5 63.9,285.8 65.0,283.4 65.8,281.1 66.4,278.1 66.8,273.5 67.1,266.4 67.2,256.0 67.3,236.7 67.4,198.0"/>
<polyline stroke="#2adcdd" points="34.6,202.3 35.0,205.1 35.4,208.3 35.8,211.7 36.2,215.4 36.6,218.9 37.0,223.0 37.4,228.6 37.8,237.1 38.2,245.8 38.6,254.2 39.0,259.2 39.4,261.9 39.8,264.0 40.2,266.2 40.6,268.6 41.0,270.9 41.4,273.0 41.8,275.0 42.2,276.9 42.6,278.8 43.0,280.7 43.4,282.6 43.8,284.3 44.0,285.2 48.0,296.0 52.0,297.6 55.9,297.5 58.9,294.2 61.4,291.1 63.4,288.1 64.9,285.4 66.0,283.0 66.8,280.7 67.4,277.7 67.8,273.1 68.0,266.0 68.2,255.4 68.3,235.6 68.3,195.1"/>
<polyline stroke="#2cdedc" points="34.6,201.9 35.0,204.8 35.4,208.0 35.8,211.4 36.2,215.1 36.6,218.6 37.0,222.7 37.4,228.3 37.8,236.8 38.2,245.5 38.6,253.9 39.0,258.9 39.4,261.6 39.8,263.7 40.2,265.9 40.6,268.2 41.0,270.5 41.4,272.6 41.8,274.6 42.2,276.5 42.6,278.4 43.0,280.3 43.4,282.1 43.8,283.9 44.0,284.7 48.0,295.6 52.0,297.3 56.8,296.9 59.8,293.6 62.3,290.6 64.3,287.7 65.8,285.0 66.9,282.6 67.7,280.3 68.3,277.3 68.7,272.7 69.0,265.7 69.1,255.2 69.2,235.5 69.3,195.6"/>
<polyline stroke="#2edfdb" points="34.6,201.6 35.0,204.5 35.4,207.7 35.8,211.1 36.2,214.7 36.6,218.3 37.0,222.4 37.4,228.0 37.8,236.5 38.2,245.2 38.6,253.7 39.0,258.6 39.4,261.3 39.8,263.4 40.2,265.6 40.6,267.9 41.0,270.2 41.4,272.3 41.8,274.2 42.2,276.1 42.6,278.0 43.0,279.8 43.4,281.7 43.8,283.4 44.0,284.3 48.0,295.2 52.0,296.9 56.0,296.9 57.8,296.2 60.8,293.0 63.2,290.2 65.2,287.3 66.8,284.7 67.8,282.3 68.7,280.0 69.2,277.1 69.7,272.5 69.9,265.7 70.0,255.7 70.2,237.7 70.2,203.7 70.2,121.7"/>
<polyline stroke="#30e1db" points="34.6,201.3 35.0,204.2 35.4,207.4 35.8,210.8 36.2,214.5 36.6,218.0 37.0,222.1 37.4,227.7 37.8,236.2 38.2,244.9 38.6,253.4 39.0,258.3 39.4,261.1 39.8,263.2 40.2,265.3 40.6,267.6 41.0,269.8 41.4,271.9 41.8,273.8 42.2,275.7 42.6,277.6 43.0,279.4 43.4,281.2 43.8,283.0 44.0,283.8 48.0,294.8 52.0,296.6 56.0,296.5 58.7,295.6 61.7,292.6 64.2,289.8 66.2,286.9 67.7,284.3 68.8,281.9 69.6,279.7 70.2,276.8 70.6,272.2 70.8,265.4 71.0,255.2 71.1,236.9 71.1,201.6 71.2,114.0"/>
<polyline stroke="#32e2da" points="34.6,201.0 35.0,203.9 35.4,207.1 35.8,210.5 36.2,214.2 36.6,217.7 37.0,221.8 37.4,227.4 37.8,236.0 38.2,244.7 38.6,253.1 39.0,258.1 39.4,260.8 39.8,262.9 40.2,265.0 40.6,267.3 41.0,269.5 41.4,271.6 41.8,273.5 42.2,275.3 42.6,277.2 43.0,279.0 43.4,280.8 43.8,282.5 44.0,283.4 48.0,294.4 52.0,296.2 56.0,296.2 59.6,295.0 62.6,292.1 65.1,289.4 67.1,286.5 68.6,283.9 69.7,281.6 70.5,279.4 71.1,276.5 71.5,272.1 71.7,265.3 71.9,255.4 72.0,237.7 72.0,204.6 72.1,126.3"/>
<polyline stroke="#34e4d9" points="34.6,200.7 35.0,203.6 35.4,206.8 35.8,210.2 36.2,213.9 36.6,217.4 37.0,221.5 37.4,227.1 37.8,235.7 38.2,244.4 38.6,252.9 39.0,257.8 39.4,260.5 39.8,262.6 40.2,264.8 40.6,267.0 41.0,269.2 41.4,271.2 41.8,273.1 42.2,274.9 42.6,276.8 43.0,278.6 43.4,280.4 43.8,282.1 44.0,282.9 48.0,294.0 52.0,295.8 56.0,295.9 60.4,294.5 63.4,291.7 65.9,289.0 67.9,286.2 69.4,283.6 70.5,281.4 71.3,279.1 71.9,276.3 72.3,271.7 72.6,264.8 72.7,254.5 72.8,235.4 72.9,197.4"/>
<polyline stroke="#36e5d8" points="34.6,200.4 35.0,203.3 35.4,206.5 35.8,210.0 36.2,213.6 36.6,217.2 37.0,221.2 37.4,226.9 37.8,235.4 38.2,244.1 38.6,252.6 39.0,257.6 39.4,260.3 39.8,262.4 40.2,264.5 40.6,266.7 41.0,268.9 41.4,270.9 41.8,272.8 42.2,274.6 42.6,276.4 43.0,278.2 43.4,280.0 43.8,281.7 44.0,282.5 48.0,293.6 52.0,295.5 56.0,295.5 60.0,294.9 61.3,294.0 64.3,291.3 66.8,288.6 68.8,285.8 70.3,283.4 71.4,281.1 72.2,278.9 72.8,276.1 73.2,271.5 73.4,264.6 73.6,254.3 73.7,235.4 73.7,197.9"/>
<polyline stroke="#38e7d7" points="34.6,200.2 35.0,203.0 35.4,206.2 35.8,209.7 36.2,213.3 36.6,216.9 37.0,221.0 37.4,226.6 37.8,235.2 38.2,243.9 38.6,252.4 39.0,257.3 39.4,260.0 39.8,262.1 40.2,264.2 40.6,266.4 41.0,268.6 41.4,270.6 41.8,272.4 42.2,274.2 42.6,276.0 43.0,277.8 43.4,279.6 43.8,281.3 44.0,282.1 48.0,293.2 52.0,295.1 56.0,295.2 60.0,294.4 62.1,293.6 65.1,291.0 67.6,288.3 69.6,285.6 71.1,283.1 72.2,280.9 73.0,278.7 73.6,275.9 74.0,271.4 74.2,264.5 74.4,254.3 74.5,235.8 74.5,199.6 74.6,108.1"/>
<polyline stroke="#3ae8d6" points="34.6,199.9 35.0,202.7 35.4,205.9 35.8,209.4 36.2,213.0 36.6,216.6 37.0,220.7 37.4,226.3 37.8,234.9 38.2,243.6 38.6,252.2 39.0,257.1 39.4,259.8 39.8,261.9 40.2,263.9 40.6,266.1 41.0,268.3 41.4,270.2 41.8,272.1 42.2,273.9 42.6,275.7 43.0,277.5 43.4,279.2 43.8,280.9 44.0,281.7 48.0,292.8 52.0,294.8 56.0,294.8 60.0,294.1 62.9,293.2 65.9,290.6 68.4,288.0 70.4,285.3 71.9,282.9 73.0,280.7 73.8,278.5 74.4,275.6 74.8,271.1 75.0,264.1 75.2,253.6 75.3,234.1 75.4,194.3"/>
<polyline stroke="#3ce9d6" points="34.6,199.6 35.0,202.4 35.4,205.6 35.8,209.1 36.2,212.8 36.6,216.4 37.0,220.4 37.4,226.1 37.8,234.6 38.2,243.4 38.6,251.9 39.0,256.9 39.4,259.5 39.8,261.6 40.2,263.7 40.6,265.9 41.0,268.0 41.4,269.9 41.8,271.8 42.2,273.5 42.6,275.3 43.0,277.1 43.4,278.8 43.8,280.5 44.0,281.3 48.0,292.4 52.0,294.4 56.0,294.5 60.0,293.8 63.7,292.8 66.7,290.3 69.2,287.7 71.2,285.1 72.7,282.7 73.8,280.5 74.6,278.3 75.2,275.4 75.6,270.9 75.8,264.0 76.0,253.7 76.1,234.7 76.2,197.0"/>
<polyline stroke="#3eebd5" points="34.6,199.3 35.0,202.2 35.4,205.4 35.8,208.9 36.2,212.5 36.6,216.1 37.0,220.2 37.4,225.8 37.8,234.4 38.2,243.2 38.6,251.7 39.0,256.6 39.4,259.3 39.8,261.4 40.2,263.4 40.6,265.6 41.0,267.7 41.4,269.6 41.8,271.4 42.2,273.2 42.6,275.0 43.0,276.7 43.4,278.5 43.8,280.1 44.0,280.9 48.0,292.0 52.0,294.1 56.0,294.2 60.0,293.5 64.5,292.5 67.5,290.0 70.0,287.4 72.0,284.9 73.5,282.5 74.6,280.3 75.4,278.1 76.0,275.2 76.4,270.7 76.6,263.9 76.8,253.7 76.9,235.2 76.9,199.2 77.0,108.3"/>
<polyline stroke="#40ecd4" points="34.6,199.1 35.0,201.9 35.4,205.1 35.8,208.6 36.2,212.3 36.6,215.8 37.0,219.9 37.4,225.6 37.8,234.2 38.2,242.9 38.6,251.5 39.0,256.4 39.4,259.1 39.8,261.1 40.2,263.2 40.6,265.3 41.0,267.4 41.4,269.3 41.8,271.1 42.2,272.9 42.6,274.6 43.0,276.4 43.4,278.1 43.8,279.8 44.0,280.5 48.0,291.6 52.0,293.7 56.0,293.9 60.0,293.1 64.0,292.6 65.2,292.1 68.2,289.7 70.8,287.2 72.8,284.7 74.2,282.3 75.3,280.1 76.2,277.9 76.8,275.0 77.2,270.4 77.4,263.4 77.5,252.9 77.7,233.3 77.7,192.8"/>
<polyline stroke="#42edd3" points="34.6,198.8 35.0,201.6 35.4,204.9 35.8,208.3 36.2,212.0 36.6,215.6 37.0,219.7 37.4,225.3 37.8,233.9 38.2,242.7 38.6,251.2 39.0,256.2 39.4,258.8 39.8,260.9 40.2,262.9 40.6,265.0 41.0,267.1 41.4,269.0 41.8,270.8 42.2,272.5 42.6,274.3 43.0,276.0 43.4,277.7 43.8,279.4 44.0,280.2 48.0,291.2 52.0,293.4 56.0,293.5 60.0,292.8 64.0,292.3 66.0,291.8 69.0,289.4 71.5,287.0 73.5,284.5 75.0,282.1 76.1,279.9 76.9,277.7 77.5,274.8 77.9,270.2 78.2,263.2 78.3,252.7 78.4,233.1 78.5,192.9"/>
<polyline stroke="#44eed2" points="34.6,198.5 35.0,201.4 35.4,204.6 35.8,208.1 36.2,211.8 36.6,215.3 37.0,219.4 37.4,225.1 37.8,233.7 38.2,242.5 38.6,251.0 39.0,255.9 39.4,258.6 39.8,260.7 40.2,262.7 40.6,264.8 41.0,266.8 41.4,268.7 41.8,270.5 42.2,272.2 42.6,273.9 43.0,275.7 43.4,277.4 43.8,279.0 44.0,279.8 48.0,290.9 52.0,293.0 56.0,293.2 60.0,292.5 64.0,292.0 66.8,291.5 69.8,289.1 72.3,286.8 74.3,284.3 75.8,281.9 76.9,279.7 77.7,277.5 78.3,274.6 78.7,270.1 78.9,263.4 79.1,253.5 79.2,235.7 79.2,202.3 79.3,122.2"/>
<polyline stroke="#46efd1" points="34.6,198.3 35.0,201.1 35.4,204.4 35.8,207.9 36.2,211.5 36.6,215.1 37.0,219.2 37.4,224.9 37.8,233.5 38.2,242.3 38.6,250.8 39.0,255.7 39.4,258.4 39.8,260.4 40.2,262.5 40.6,264.5 41.0,266.6 41.4,268.4 41.8,270.2 42.2,271.9 42.6,273.6 43.0,275.3 43.4,277.0 43.8,278.7 44.0,279.4 48.0,290.5 52.0,292.7 56.0,292.9 60.0,292.2 64.0,291.7 67.5,291.2 70.5,288.9 73.0,286.6 75.0,284.1 76.5,281.7 77.7,279.5 78.5,277.2 79.0,274.4 79.5,269.9 79.7,263.1 79.8,253.2 80.0,235.4 80.0,201.8 80.0,120.9"/>
<polyline stroke="#48f0d0" points="34.6,198.1 35.0,200.9 35.4,204.1 35.8,207.6 36.2,211.3 36.6,214.9 37.0,219.0 37.4,224.6 37.8,233.2 38.2,242.0 38.6,250.6 39.0,255.5 39.4,258.2 39.8,260.2 40.2,262.2 40.6,264.3 41.0,266.3 41.4,268.2 41.8,269.9 42.2,271.6 42.6,273.3 43.0,275.0 43.4,276.7 43.8,278.3 44.0,279.1 48.0,290.1 52.0,292.3 56.0,292.5 60.0,291.9 64.0,291.4 68.3,290.8 71.3,288.7 73.8,286.4 75.8,283.9 77.3,281.5 78.4,279.2 79.2,277.0 79.8,274.1 80.2,269.6 80.5,262.7 80.6,252.3 80.7,233.2 80.8,194.8"/>
<polyline stroke="#4af2cf" points="34.6,197.8 35.0,200.7 35.4,203.9 35.8,207.4 36.2,211.0 36.6,214.6 37.0,218.7 37.4,224.4 37.8,233.0 38.2,241.8 38.6,250.4 39.0,255.3 39.4,258.0 39.8,260.0 40.2,262.0 40.6,264.0 41.0,266.0 41.4,267.9 41.8,269.6 42.2,271.3 42.6,273.0 43.0,274.7 43.4,276.4 43.8,278.0 44.0,278.7 48.0,289.8 52.0,292.0 56.0,292.2 60.0,291.6 64.0,291.2 68.0,290.5 69.1,290.4 72.1,288.5 74.6,286.2 76.6,283.7 78.1,281.2 79.2,279.0 80.0,276.8 80.6,273.9 81.0,269.4 81.3,262.5 81.4,252.2 81.5,233.3 81.6,195.6"/>
<polyline stroke="#4df3ce" points="34.6,197.6 35.0,200.4 35.4,203.6 35.8,207.1 36.2,210.8 36.6,214.4 37.0,218.5 37.4,224.2 37.8,232.8 38.2,241.6 38.6,250.2 39.0,255.1 39.4,257.8 39.8,259.8 40.2,261.8 40.6,263.8 41.0,265.8 41.4,267.6 41.8,269.3 42.2,271.0 42.6,272.7 43.0,274.4 43.4,276.0 43.8,277.6 44.0,278.4 48.0,289.4 52.0,291.6 56.0,291.9 60.0,291.3 64.0,290.9 68.0,290.3 69.9,290.0 72.9,288.3 75.4,286.0 77.4,283.4 78.9,281.0 80.0,278.8 80.8,276.5 81.4,273.7 81.8,269.2 82.0,262.3 82.2,252.1 82.3,233.3 82.4,196.1"/>
<polyline stroke="#4ff3cd" points="34.6,197.3 35.0,200.2 35.4,203.4 35.8,206.9 36.2,210.6 36.6,214.2 37.0,218.3 37.4,224.0 37.8,232.6 38.2,241.4 38.6,250.0 39.0,254.9 39.4,257.5 39.8,259.6 40.2,261.5 40.6,263.6 41.0,265.5 41.4,267.4 41.8,269.1 42.2,270.7 42.6,272.4 43.0,274.1 43.4,275.7 43.8,277.3 44.0,278.1 48.0,289.0 52.0,291.3 56.0,291.6 60.0,291.0 64.0,290.6 68.0,290.1 70.7,289.7 73.7,288.1 76.2,285.8 78.2,283.2 79.7,280.8 80.8,278.5 81.6,276.3 82.2,273.5 82.6,269.0 82.8,262.2 83.0,252.2 83.1,234.2 83.2,199.6 83.2,114.2"/>
<polyline stroke="#51f4cc" points="34.6,197.1 35.0,200.0 35.4,203.2 35.8,206.7 36.2,210.4 36.6,214.0 37.0,218.1 37.4,223.7 37.8,232.4 38.2,241.2 38.6,249.8 39.0,254.7 39.4,257.3 39.8,259.4 40.2,261.3 40.6,263.3 41.0,265.3 41.4,267.1 41.8,268.8 42.2,270.4 42.6,272.1 43.0,273.8 43.4,275.4 43.8,277.0 44.0,277.7 48.0,288.7 52.0,291.0 56.0,291.3 60.0,290.7 64.0,290.4 68.0,289.8 71.5,289.4 74.5,287.9 77.0,285.5 79.0,282.9 80.5,280.5 81.6,278.3 82.4,276.1 83.0,273.2 83.4,268.8 83.7,262.0 83.8,251.9 83.9,233.7 84.0,198.3 84.0,109.4"/>
<polyline stroke="#53f5cb" points="34.6,196.9 35.0,199.7 35.4,203.0 35.8,206.5 36.2,210.1 36.6,213.7 37.0,217.8 37.4,223.5 37.8,232.2 38.2,241.0 38.6,249.6 39.0,254.5 39.4,257.1 39.8,259.2 40.2,261.1 40.6,263.1 41.0,265.0 41.4,266.8 41.8,268.5 42.2,270.1 42.6,271.8 43.0,273.4 43.4,275.1 43.8,276.6 44.0,277.4 48.0,288.3 52.0,290.6 56.0,291.0 60.0,290.4 64.0,290.1 68.0,289.6 72.4,289.2 75.4,287.6 77.9,285.3 79.9,282.7 81.4,280.3 82.5,278.0 83.3,275.8 83.9,273.0 84.3,268.5 84.5,261.6 84.7,251.4 84.8,232.7 84.8,195.2"/>
<polyline stroke="#55f6ca" points="34.6,196.7 35.0,199.5 35.4,202.7 35.8,206.2 36.2,209.9 36.6,213.5 37.0,217.6 37.4,223.3 37.8,232.0 38.2,240.8 38.6,249.4 39.0,254.3 39.4,256.9 39.8,259.0 40.2,260.9 40.6,262.9 41.0,264.8 41.4,266.6 41.8,268.3 42.2,269.9 42.6,271.5 43.0,273.1 43.4,274.8 43.8,276.3 44.0,277.1 48.0,288.0 52.0,290.3 56.0,290.6 60.0,290.1 64.0,289.8 68.0,289.4 72.0,289.0 73.2,289.0 76.2,287.4 78.7,285.0 80.7,282.4 82.2,280.0 83.3,277.8 84.1,275.6 84.7,272.7 85.1,268.3 85.4,261.4 85.5,251.1 85.6,232.1 85.7,193.6"/>
<polyline stroke="#57f7c9" points="34.6,196.4 35.0,199.3 35.4,202.5 35.8,206.0 36.2,209.7 36.6,213.3 37.0,217.4 37.4,223.1 37.8,231.8 38.2,240.6 38.6,249.2 39.0,254.1 39.4,256.8 39.8,258.8 40.2,260.7 40.6,262.6 41.0,264.5 41.4,266.3 41.8,268.0 42.2,269.6 42.6,271.2 43.0,272.9 43.4,274.5 43.8,276.0 44.0,276.8 48.0,287.6 52.0,290.0 56.0,290.3 60.0,289.9 64.0,289.6 68.0,289.2 72.0,288.9 74.1,288.8 77.1,287.1 79.6,284.7 81.6,282.2 83.1,279.8 84.2,277.6 85.0,275.4 85.6,272.6 86.0,268.1 86.2,261.3 86.4,251.3 86.5,232.9 86.6,196.9 86.6,105.0"/>
<polyline stroke="#59f8c9" points="34.6,196.2 35.0,199.1 35.4,202.3 35.8,205.8 36.2,209.5 36.6,213.1 37.0,217.2 37.4,222.9 37.8,231.6 38.2,240.4 38.6,249.0 39.0,253.9 39.4,256.6 39.8,258.6 40.2,260.5 40.6,262.4 41.0,264.3 41.4,266.1 41.8,267.7 42.2,269.3 42.6,270.9 43.0,272.6 43.4,274.2 43.8,275.7 44.0,276.4 48.0,287.3 52.0,289.7 56.0,290.0 60.0,289.6 64.0,289.3 68.0,289.0 72.0,288.7 75.0,288.6 78.0,286.8 80.5,284.5 82.5,281.9 84.0,279.5 85.1,277.3 85.9,275.2 86.5,272.3 86.9,267.9 87.2,261.1 87.3,250.9 87.4,232.3 87.5,195.2"/>
<polyline stroke="#5bf9c8" points="34.6,196.0 35.0,198.9 35.4,202.1 35.8,205.6 36.2,209.3 36.6,212.9 37.0,217.0 37.4,222.7 37.8,231.4 38.2,240.2 38.6,248.8 39.0,253.7 39.4,256.4 39.8,258.4 40.2,260.3 40.6,262.2 41.0,264.1 41.4,265.8 41.8,267.5 42.2,269.1 42.6,270.7 43.0,272.3 43.4,273.9 43.8,275.4 44.0,276.1 48.0,287.0 52.0,289.4 56.0,289.7 60.0,289.3 64.0,289.0 68.0,288.7 72.0,288.6 75.9,288.5 78.9,286.5 81.4,284.2 83.4,281.6 84.9,279.3 86.0,277.1 86.8,275.0 87.4,272.2 87.8,267.8 88.1,261.0 88.2,251.1 88.3,232.9 88.4,197.7 88.4,109.5"/>
<polyline stroke="#5df9c7" points="34.6,195.8 35.0,198.6 35.4,201.9 35.8,205.4 36.2,209.1 36.6,212.7 37.0,216.8 37.4,222.5 37.8,231.2 38.2,240.1 38.6,248.7 39.0,253.6 39.4,256.2 39.8,258.2 40.2,260.1 40.6,262.0 41.0,263.9 41.4,265.6 41.8,267.2 42.2,268.8 42.6,270.4 43.0,272.0 43.4,273.6 43.8,275.1 44.0,275.8 48.0,286.6 52.0,289.0 56.0,289.4 60.0,289.0 64.0,288.8 68.0,288.5 72.0,288.4 76.9,288.3 79.9,286.2 82.4,283.9 84.4,281.4 85.9,279.0 87.0,276.9 87.8,274.8 88.4,272.0 88.8,267.5 89.0,260.6 89.2,250.3 89.3,230.8 89.4,190.7"/>
<polyline stroke="#5ffac5" points="34.6,195.6 35.0,198.4 35.4,201.7 35.8,205.2 36.2,208.9 36.6,212.5 37.0,216.6 37.4,222.3 37.8,231.0 38.2,239.9 38.6,248.5 39.0,253.4 39.4,256.0 39.8,258.0 40.2,259.9 40.6,261.8 41.0,263.6 41.4,265.4 41.8,267.0 42.2,268.6 42.6,270.1 43.0,271.7 43.4,273.3 43.8,274.8 44.0,275.5 48.0,286.3 52.0,288.7 56.0,289.1 60.0,288.7 64.0,288.5 68.0,288.3 72.0,288.2 76.0,288.2 77.9,288.1 80.9,285.9 83.4,283.6 85.4,281.1 86.9,278.8 88.0,276.7 88.8,274.6 89.4,271.9 89.8,267.4 90.0,260.7 90.2,250.6 90.3,231.9 90.3,195.0"/>
<polyline stroke="#61fac4" points="34.6,195.4 35.0,198.2 35.4,201.5 35.8,205.0 36.2,208.7 36.6,212.3 37.0,216.4 37.4,222.1 37.8,230.8 38.2,239.7 38.6,248.3 39.0,253.2 39.4,255.8 39.8,257.8 40.2,259.7 40.6,261.6 41.0,263.4 41.4,265.1 41.8,266.8 42.2,268.3 42.6,269.9 43.0,271.4 43.4,273.0 43.8,274.5 44.0,275.2 48.0,286.0 52.0,288.4 56.0,288.8 60.0,288.4 64.0,288.2 68.0,288.0 72.0,288.0 76.0,288.0 78.9,287.8 81.9,285.6 84.4,283.3 86.4,280.9 87.9,278.6 89.0,276.6 89.8,274.5 90.4,271.7 90.8,267.4 91.0,260.6 91.2,250.6 91.3,232.2 91.3,196.1"/>
<polyline stroke="#63fbc3" points="34.6,195.2 35.0,198.0 35.4,201.3 35.8,204.8 36.2,208.5 36.6,212.1 37.0,216.2 37.4,221.9 37.8,230.6 38.2,239.5 38.6,248.1 39.0,253.0 39.4,255.6 39.8,257.6 40.2,259.5 40.6,261.4 41.0,263.2 41.4,264.9 41.8,266.5 42.2,268.0 42.6,269.6 43.0,271.2 43.4,272.7 43.8,274.2 44.0,274.9 48.0,285.6 52.0,288.1 56.0,288.5 60.0,288.2 64.0,288.0 68.0,287.8 72.0,287.8 76.0,287.9 79.9,287.5 82.9,285.3 85.4,283.1 87.4,280.7 88.9,278.4 90.0,276.4 90.8,274.4 91.4,271.6 91.8,267.2 92.0,260.4 92.2,250.1 92.3,231.0 92.3,192.0"/>
<polyline stroke="#65fcc2" points="34.6,195.0 35.0,197.8 35.4,201.1 35.8,204.6 36.2,208.3 36.6,211.9 37.0,216.0 37.4,221.7 37.8,230.4 38.2,239.3 38.6,248.0 39.0,252.9 39.4,255.5 39.8,257.4 40.2,259.3 40.6,261.2 41.0,263.0 41.4,264.7 41.8,266.3 42.2,267.8 42.6,269.3 43.0,270.9 43.4,272.4 43.8,273.9 44.0,274.6 48.0,285.3 52.0,287.8 56.0,288.2 60.0,287.9 64.0,287.7 68.0,287.6 72.0,287.6 76.0,287.7 80.9,287.2 83.9,285.1 86.4,282.8 88.4,280.5 89.9,278.3 91.0,276.3 91.8,274.2 92.4,271.5 92.8,267.1 93.0,260.3 93.2,250.0 93.3,230.8 93.3,191.7"/>
<polyline stroke="#67fcc1" points="34.6,194.8 35.0,197.6 35.4,200.9 35.8,204.4 36.2,208.1 36.6,211.7 37.0,215.8 37.4,221.5 37.8,230.2 38.2,239.2 38.6,247.8 39.0,252.7 39.4,255.3 39.8,257.3 40.2,259.1 40.6,261.0 41.0,262.8 41.4,264.5 41.8,266.0 42.2,267.6 42.6,269.1 43.0,270.6 43.4,272.2 43.8,273.6 44.0,274.4 48.0,285.0 52.0,287.5 56.0,287.9 60.0,287.6 64.0,287.5 68.0,287.3 72.0,287.4 76.0,287.6 80.0,287.4 81.9,286.8 84.9,284.8 87.4,282.6 89.4,280.3 90.9,278.2 92.0,276.2 92.8,274.1 93.4,271.4 93.8,267.0 94.1,260.2 94.2,250.0 94.3,231.1 94.4,192.8"/>
<polyline stroke="#69fdc0" points="34.6,194.6 35.0,197.4 35.4,200.7 35.8,204.2 36.2,207.9 36.6,211.5 37.0,215.6 37.4,221.3 37.8,230.1 38.2,239.0 38.6,247.6 39.0,252.5 39.4,255.1 39.8,257.1 40.2,258.9 40.6,260.8 41.0,262.6 41.4,264.2 41.8,265.8 42.2,267.3 42.6,268.8 43.0,270.4 43.4,271.9 43.8,273.4 44.0,274.1 48.0,284.7 52.0,287.2 56.0,287.6 60.0,287.3 64.0,287.2 68.0,287.1 72.0,287.2 76.0,287.4 80.0,287.3 83.0,286.5 86.0,284.5 88.5,282.4 90.5,280.2 92.0,278.1 93.1,276.1 93.9,274.0 94.5,271.3 94.9,266.9 95.1,260.1 95.3,249.9 95.4,231.0 95.4,192.8"/>
<polyline stroke="#6bfdbf" points="34.6,194.4 35.0,197.2 35.4,200.5 35.8,204.0 36.2,207.7 36.6,211.3 37.0,215.4 37.4,221.2 37.8,229.9 38.2,238.8 38.6,247.5 39.0,252.4 39.4,255.0 39.8,256.9 40.2,258.7 40.6,260.6 41.0,262.4 41.4,264.0 41.8,265.6 42.2,267.1 42.6,268.6 43.0,270.1 43.4,271.6 43.8,273.1 44.0,273.8 48.0,284.4 52.0,286.9 56.0,287.3 60.0,287.0 64.0,286.9 68.0,286.8 72.0,287.0 76.0,287.2 80.0,287.2 84.0,286.3 87.0,284.3 89.5,282.3 91.5,280.1 93.0,278.0 94.1,276.0 94.9,274.0 95.5,271.3 95.9,266.9 96.2,260.3 96.3,250.6 96.4,233.2 96.5,200.4 96.5,122.2"/>
<polyline stroke="#6dfdbe" points="34.6,194.2 35.0,197.0 35.4,200.3 35.8,203.8 36.2,207.5 36.6,211.1 37.0,215.3 37.4,221.0 37.8,229.7 38.2,238.6 38.6,247.3 39.0,252.2 39.4,254.8 39.8,256.7 40.2,258.6 40.6,260.4 41.0,262.2 41.4,263.8 41.8,265.4 42.2,266.8 42.6,268.3 43.0,269.9 43.4,271.4 43.8,272.8 44.0,273.5 48.0,284.0 52.0,286.5 56.0,287.1 60.0,286.8 64.0,286.7 68.0,286.6 72.0,286.7 76.0,287.0 80.0,287.0 84.0,286.6 85.1,286.0 88.1,284.1 90.6,282.2 92.6,280.0 94.1,277.9 95.2,275.9 96.0,273.8 96.6,271.1 97.0,266.7 97.2,259.9 97.4,249.7 97.5,230.5 97.5,191.6"/>
<polyline stroke="#6ffebd" points="34.6,194.0 35.0,196.8 35.4,200.1 35.8,203.6 36.2,207.3 36.6,210.9 37.0,215.1 37.4,220.8 37.8,229.5 38.2,238.5 38.6,247.1 39.0,252.0 39.4,254.6 39.8,256.6 40.2,258.4 40.6,260.2 41.0,262.0 41.4,263.6 41.8,265.1 42.2,266.6 42.6,268.1 43.0,269.6 43.4,271.1 43.8,272.5 44.0,273.2 48.0,283.7 52.0,286.2 56.0,286.8 60.0,286.5 64.0,286.4 68.0,286.4 72.0,286.5 76.0,286.8 80.0,286.9 84.0,286.8 86.1,285.7 89.1,283.9 91.6,282.0 93.6,279.9 95.1,277.8 96.2,275.8 97.0,273.8 97.6,271.1 98.0,266.7 98.3,260.0 98.4,250.1 98.5,232.1 98.6,197.0 98.6,109.2"/>
<polyline stroke="#71febc" points="34.6,193.8 35.0,196.7 35.4,199.9 35.8,203.4 36.2,207.1 36.6,210.8 37.0,214.9 37.4,220.6 37.8,229.4 38.2,238.3 38.6,247.0 39.0,251.9 39.4,254.5 39.8,256.4 40.2,258.2 40.6,260.0 41.0,261.8 41.4,263.4 41.8,264.9 42.2,266.4 42.6,267.9 43.0,269.4 43.4,270.8 43.8,272.3 44.0,273.0 48.0,283.4 52.0,285.9 56.0,286.5 60.0,286.2 64.0,286.2 68.0,286.1 72.0,286.3 76.0,286.6 80.0,286.7 84.0,286.6 87.2,285.5 90.2,283.8 92.7,281.9 94.7,279.8 96.2,277.7 97.3,275.7 98.1,273.7 98.7,271.0 99.1,266.6 99.3,259.8 99.5,249.6 99.6,230.5 99.6,192.0"/>
<polyline stroke="#73febb" points="34.6,193.6 35.0,196.5 35.4,199.7 35.8,203.2 36.2,206.9 36.6,210.6 37.0,214.7 37.4,220.4 37.8,229.2 38.2,238.1 38.6,246.8 39.0,251.7 39.4,254.3 39.8,256.2 40.2,258.0 40.6,259.8 41.0,261.6 41.4,263.2 41.8,264.7 42.2,266.2 42.6,267.6 43.0,269.1 43.4,270.6 43.8,272.0 44.0,272.7 48.0,283.1 52.0,285.6 56.0,286.2 60.0,286.0 64.0,285.9 68.0,285.9 72.0,286.1 76.0,286.4 80.0,286.5 84.0,286.4 88.2,285.3 91.2,283.7 93.7,281.8 95.7,279.7 97.2,277.6 98.3,275.6 99.1,273.6 99.7,270.9 100.1,266.6 100.4,259.9 100.5,249.9 100.6,231.8 100.7,196.7 100.7,108.1"/>
<polyline stroke="#75feba" points="34.6,193.4 35.0,196.3 35.4,199.5 35.8,203.1 36.2,206.8 36.6,210.4 37.0,214.5 37.4,220.3 37.8,229.0 38.2,238.0 38.6,246.7 39.0,251.5 39.4,254.1 39.8,256.1 40.2,257.9 40.6,259.6 41.0,261.4 41.4,263.0 41.8,264.5 42.2,265.9 42.6,267.4 43.0,268.9 43.4,270.3 43.8,271.7 44.0,272.4 48.0,282.8 52.0,285.3 56.0,285.9 60.0,285.7 64.0,285.7 68.0,285.6 72.0,285.9 76.0,286.2 80.0,286.3 84.0,286.3 88.0,285.7 89.3,285.1 92.3,283.6 94.8,281.7 96.8,279.6 98.3,277.5 99.4,275.5 100.2,273.5 100.8,270.8 101.2,266.5 101.4,259.8 101.6,250.0 101.7,232.0 101.7,197.4 101.8,111.3"/>
<polyline stroke="#77ffb9" points="34.6,193.2 35.0,196.1 35.4,199.4 35.8,202.9 36.2,206.6 36.6,210.2 37.0,214.4 37.4,220.1 37.8,228.9 38.2,237.8 38.6,246.5 39.0,251.4 39.4,254.0 39.8,255.9 40.2,257.7 40.6,259.5 41.0,261.2 41.4,262.8 41.8,264.3 42.2,265.7 42.6,267.2 43.0,268.6 43.4,270.1 43.8,271.5 44.0,272.2 48.0,282.5 52.0,285.0 56.0,285.6 60.0,285.4 64.0,285.4 68.0,285.4 72.0,285.6 76.0,286.0 80.0,286.1 84.0,286.1 88.0,286.0 90.3,285.0 93.3,283.4 95.8,281.6 97.8,279.5 99.3,277.4 100.4,275.5 101.2,273.4 101.8,270.7 102.2,266.4 102.5,259.6 102.6,249.4 102.7,230.4 102.8,191.9"/>
<polyline stroke="#79ffb8" points="34.6,193.0 35.0,195.9 35.4,199.2 35.8,202.7 36.2,206.4 36.6,210.0 37.0,214.2 37.4,219.9 37.8,228.7 38.2,237.7 38.6,246.4 39.0,251.2 39.4,253.8 39.8,255.7 40.2,257.5 40.6,259.3 41.0,261.0 41.4,262.6 41.8,264.1 42.2,265.5 42.6,266.9 43.0,268.4 43.4,269.8 43.8,271.2 44.0,271.9 48.0,282.2 52.0,284.7 56.0,285.3 60.0,285.1 64.0,285.2 68.0,285.2 72.0,285.4 76.0,285.8 80.0,286.0 84.0,286.0 88.0,286.0 91.3,284.9 94.3,283.3 96.8,281.5 98.8,279.4 100.3,277.3 101.5,275.4 102.2,273.4 102.8,270.7 103.2,266.4 103.5,259.8 103.7,250.1 103.8,232.7 103.8,200.1 103.8,122.2"/>
<polyline stroke="#7bffb7" points="34.6,192.9 35.0,195.7 35.4,199.0 35.8,202.5 36.2,206.2 36.6,209.9 37.0,214.0 37.4,219.8 37.8,228.5 38.2,237.5 38.6,246.2 39.0,251.1 39.4,253.7 39.8,255.6 40.2,257.4 40.6,259.1 41.0,260.8 41.4,262.4 41.8,263.9 42.2,265.3 42.6,266.7 43.0,268.1 43.4,269.6 43.8,271.0 44.0,271.6 48.0,281.9 52.0,284.5 56.0,285.0 60.0,284.9 64.0,284.9 68.0,284.9 72.0,285.2 76.0,285.6 80.0,285.8 84.0,285.8 88.0,285.8 92.4,284.8 95.4,283.2 97.9,281.4 99.9,279.3 101.4,277.3 102.5,275.3 103.3,273.3 103.9,270.6 104.3,266.3 104.5,259.7 104.7,249.8 104.8,232.0 104.8,197.8 104.9,113.4"/>
<polyline stroke="#7dffb5" points="34.6,192.7 35.0,195.6 35.4,198.8 35.8,202.4 36.2,206.1 36.6,209.7 37.0,213.8 37.4,219.6 37.8,228.4 38.2,237.4 38.6,246.1 39.0,250.9 39.4,253.5 39.8,255.4 40.2,257.2 40.6,258.9 41.0,260.6 41.4,262.2 41.8,263.6 42.2,265.1 42.6,266.5 43.0,267.9 43.4,269.3 43.8,270.7 44.0,271.4 48.0,281.6 52.0,284.2 56.0,284.8 60.0,284.6 64.0,284.7 68.0,284.7 72.0,285.0 76.0,285.4 80.0,285.6 84.0,285.6 88.0,285.6 92.0,285.2 93.4,284.7 96.4,283.2 98.9,281.4 100.9,279.2 102.4,277.2 103.5,275.3 104.3,273.3 104.9,270.6 105.3,266.2 105.5,259.5 105.7,249.4 105.8,230.7 105.9,193.4"/>
<polyline stroke="#80ffb4" points="34.6,192.5 35.0,195.4 35.4,198.6 35.8,202.2 36.2,205.9 36.6,209.5 37.0,213.7 37.4,219.4 37.8,228.2 38.2,237.2 38.6,245.9 39.0,250.8 39.4,253.4 39.8,255.3 40.2,257.0 40.6,258.8 41.0,260.4 41.4,262.0 41.8,263.4 42.2,264.8 42.6,266.3 43.0,267.7 43.4,269.1 43.8,270.5 44.0,271.1 48.0,281.3 52.0,283.9 56.0,284.5 60.0,284.3 64.0,284.4 68.0,284.5 72.0,284.7 76.0,285.2 80.0,285.4 84.0,285.5 88.0,285.5 92.0,285.5 94.4,284.6 97.4,283.1 99.9,281.3 101.9,279.2 103.4,277.1 104.5,275.2 105.3,273.2 105.9,270.5 106.3,266.2 106.5,259.5 106.7,249.6 106.8,231.3 106.9,195.6 106.9,104.5"/>
<polyline stroke="#82ffb3" points="34.6,192.3 35.0,195.2 35.4,198.5 35.8,202.0 36.2,205.7 36.6,209.4 37.0,213.5 37.4,219.3 37.8,228.1 38.2,237.1 38.6,245.8 39.0,250.6 39.4,253.2 39.8,255.1 40.2,256.9 40.6,258.6 41.0,260.2 41.4,261.8 41.8,263.2 42.2,264.6 42.6,266.0 43.0,267.5 43.4,268.8 43.8,270.2 44.0,270.9 48.0,281.0 52.0,283.6 56.0,284.2 60.0,284.1 64.0,284.2 68.0,284.2 72.0,284.5 76.0,284.9 80.0,285.2 84.0,285.3 88.0,285.3 92.0,285.5 95.4,284.5 98.4,283.0 100.9,281.2 102.9,279.1 104.4,277.1 105.5,275.2 106.3,273.2 106.9,270.5 107.3,266.2 107.5,259.6 107.7,249.9 107.8,232.5 107.8,199.5 107.9,120.5"/>
<polyline stroke="#84ffb2" points="34.6,192.2 35.0,195.0 35.4,198.3 35.8,201.8 36.2,205.6 36.6,209.2 37.0,213.3 37.4,219.1 37.8,227.9 38.2,236.9 38.6,245.6 39.0,250.5 39.4,253.1 39.8,255.0 40.2,256.7 40.6,258.4 41.0,260.1 41.4,261.6 41.8,263.0 42.2,264.4 42.6,265.8 43.0,267.2 43.4,268.6 43.8,270.0 44.0,270.6 48.0,280.7 52.0,283.3 56.0,283.9 60.0,283.8 64.0,283.9 68.0,284.0 72.0,284.3 76.0,284.7 80.0,285.0 84.0,285.1 88.0,285.2 92.0,285.3 96.4,284.4 99.4,282.9 101.9,281.1 103.9,279.1 105.4,277.0 106.5,275.1 107.3,273.1 107.9,270.4 108.3,266.1 108.5,259.3 108.7,249.1 108.8,230.1 108.8,191.4"/>
<polyline stroke="#86ffb1" points="34.6,192.0 35.0,194.9 35.4,198.1 35.8,201.7 36.2,205.4 36.6,209.0 37.0,213.2 37.4,219.0 37.8,227.7 38.2,236.8 38.6,245.5 39.0,250.3 39.4,252.9 39.8,254.8 40.2,256.5 40.6,258.2 41.0,259.9 41.4,261.4 41.8,262.8 42.2,264.2 42.6,265.6 43.0,267.0 43.4,268.4 43.8,269.7 44.0,270.4 48.0,280.4 52.0,283.0 56.0,283.6 60.0,283.6 64.0,283.7 68.0,283.8 72.0,284.1 76.0,284.5 80.0,284.8 84.0,284.9 88.0,285.0 92.0,285.2 96.0,284.8 97.4,284.3 100.4,282.8 102.9,281.1 104.9,279.0 106.4,277.0 107.5,275.1 108.3,273.1 108.9,270.4 109.3,266.1 109.5,259.3 109.7,249.2 109.8,230.5 109.8,193.1"/>
<polyline stroke="#88ffb0" points="34.6,191.8 35.0,194.7 35.4,198.0 35.8,201.5 36.2,205.2 36.6,208.9 37.0,213.0 37.4,218.8 37.8,227.6 38.2,236.6 38.6,245.3 39.0,250.2 39.4,252.8 39.8,254.7 40.2,256.4 40.6,258.1 41.0,259.7 41.4,261.2 41.8,262.6 42.2,264.0 42.6,265.4 43.0,266.8 43.4,268.1 43.8,269.5 44.0,270.1 48.0,280.1 52.0,282.7 56.0,283.4 60.0,283.3 64.0,283.4 68.0,283.5 72.0,283.9 76.0,284.3 80.0,284.6 84.0,284.7 88.0,284.8 92.0,285.1 96.0,285.1 98.4,284.2 101.4,282.8 103.9,281.0 105.9,279.0 107.4,277.0 108.5,275.0 109.3,273.1 109.9,270.4 110.3,266.0 110.5,259.3 110.7,249.2 110.8,230.6 110.8,193.4"/>
<polyline stroke="#8afeaf" points="34.6,191.7 35.0,194.5 35.4,197.8 35.8,201.4 36.2,205.1 36.6,208.7 37.0,212.9 37.4,218.6 37.8,227.4 38.2,236.5 38.6,245.2 39.0,250.1 39.4,252.6 39.8,254.5 40.2,256.2 40.6,257.9 41.0,259.5 41.4,261.0 41.8,262.5 42.2,263.8 42.6,265.2 43.0,266.6 43.4,267.9 43.8,269.2 44.0,269.9 48.0,279.8 52.0,282.4 56.0,283.1 60.0,283.0 64.0,283.2 68.0,283.3 72.0,283.6 76.0,284.1 80.0,284.4 84.0,284.6 88.0,284.7 92.0,284.9 96.0,285.1 99.4,284.1 102.4,282.7 104.9,281.0 106.9,278.9 108.4,276.9 109.5,275.0 110.3,273.0 110.9,270.4 111.3,266.0 111.5,259.3 111.7,249.1 111.8,230.3 111.8,192.4"/>
<polyline stroke="#8cfead" points="34.6,191.5 35.0,194.4 35.4,197.6 35.8,201.2 36.2,204.9 36.6,208.6 37.0,212.7 37.4,218.5 37.8,227.3 38.2,236.3 38.6,245.1 39.0,249.9 39.4,252.5 39.8,254.4 40.2,256.1 40.6,257.7 41.0,259.3 41.4,260.9 41.8,262.3 42.2,263.6 42.6,265.0 43.0,266.3 43.4,267.7 43.8,269.0 44.0,269.6 48.0,279.5 52.0,282.1 56.0,282.8 60.0,282.8 64.0,282.9 68.0,283.1 72.0,283.4 76.0,283.9 80.0,284.2 84.0,284.4 88.0,284.5 92.0,284.8 96.0,284.9 100.3,284.0 103.3,282.6 105.8,280.9 107.8,278.9 109.3,276.9 110.5,275.0 111.2,273.0 111.8,270.3 112.2,266.0 112.5,259.1 112.7,248.9 112.8,229.6 112.8,189.9"/>
<polyline stroke="#8efeac" points="34.6,191.3 35.0,194.2 35.4,197.5 35.8,201.0 36.2,204.7 36.6,208.4 37.0,212.6 37.4,218.3 37.8,227.1 38.2,236.2 38.6,244.9 39.0,249.8 39.4,252.3 39.8,254.2 40.2,255.9 40.6,257.6 41.0,259.2 41.4,260.7 41.8,262.1 42.2,263.4 42.6,264.8 43.0,266.1 43.4,267.5 43.8,268.8 44.0,269.4 48.0,279.2 52.0,281.8 56.0,282.6 60.0,282.5 64.0,282.7 68.0,282.9 72.0,283.2 76.0,283.7 80.0,284.0 84.0,284.2 88.0,284.4 92.0,284.6 96.0,284.8 100.0,284.5 101.3,284.0 104.3,282.6 106.8,280.9 108.8,278.9 110.3,276.9 111.4,275.0 112.2,273.0 112.8,270.4 113.2,266.0 113.5,259.4 113.6,249.6 113.7,231.8 113.8,197.6 113.8,113.4"/>
<polyline stroke="#90feab" points="34.6,191.2 35.0,194.0 35.4,197.3 35.8,200.9 36.2,204.6 36.6,208.2 37.0,212.4 37.4,218.2 37.8,227.0 38.2,236.0 38.6,244.8 39.0,249.6 39.4,252.2 39.8,254.1 40.2,255.8 40.6,257.4 41.0,259.0 41.4,260.5 41.8,261.9 42.2,263.2 42.6,264.6 43.0,265.9 43.4,267.2 43.8,268.5 44.0,269.2 48.0,278.9 52.0,281.6 56.0,282.3 60.0,282.3 64.0,282.5 68.0,282.6 72.0,283.0 76.0,283.5 80.0,283.8 84.0,284.0 88.0,284.2 92.0,284.5 96.0,284.7 100.0,284.7 102.3,283.9 105.3,282.5 107.8,280.8 109.8,278.8 111.3,276.8 112.4,274.9 113.2,273.0 113.8,270.3 114.2,266.0 114.5,259.2 114.6,249.1 114.7,230.4 114.8,192.9"/>
<polyline stroke="#92fdaa" points="34.6,191.0 35.0,193.9 35.4,197.2 35.8,200.7 36.2,204.4 36.6,208.1 37.0,212.2 37.4,218.0 37.8,226.8 38.2,235.9 38.6,244.6 39.0,249.5 39.4,252.0 39.8,253.9 40.2,255.6 40.6,257.3 41.0,258.8 41.4,260.3 41.8,261.7 42.2,263.0 42.6,264.3 43.0,265.7 43.4,267.0 43.8,268.3 44.0,268.9 48.0,278.7 52.0,281.3 56.0,282.0 60.0,282.0 64.0,282.2 68.0,282.4 72.0,282.8 76.0,283.3 80.0,283.6 84.0,283.8 88.0,284.0 92.0,284.4 96.0,284.6 100.0,284.7 103.3,283.9 106.3,282.5 108.8,280.8 110.8,278.8 112.3,276.8 113.4,274.9 114.2,273.0 114.8,270.3 115.2,266.0 115.5,259.4 115.6,249.6 115.7,231.8 115.8,197.8 115.8,114.0"/>
<polyline stroke="#94fda9" points="34.6,190.8 35.0,193.7 35.4,197.0 35.8,200.6 36.2,204.3 36.6,207.9 37.0,212.1 37.4,217.9 37.8,226.7 38.2,235.8 38.6,244.5 39.0,249.4 39.4,251.9 39.8,253.8 40.2,255.5 40.6,257.1 41.0,258.7 41.4,260.1 41.8,261.5 42.2,262.8 42.6,264.1 43.0,265.5 43.4,266.8 43.8,268.1 44.0,268.7 48.0,278.4 52.0,281.0 56.0,281.7 60.0,281.8 64.0,282.0 68.0,282.2 72.0,282.6 76.0,283.1 80.0,283.4 84.0,283.7 88.0,283.9 92.0,284.2 96.0,284.5 100.0,284.6 104.3,283.8 107.3,282.4 109.8,280.8 111.8,278.8 113.3,276.8 114.4,274.9 115.2,272.9 115.8,270.2 116.2,265.9 116.4,259.1 116.6,248.8 116.7,229.6 116.8,190.3"/>
<polyline stroke="#96fda7" points="34.6,190.7 35.0,193.6 35.4,196.8 35.8,200.4 36.2,204.1 36.6,207.8 37.0,211.9 37.4,217.7 37.8,226.6 38.2,235.6 38.6,244.4 39.0,249.2 39.4,251.8 39.8,253.6 40.2,255.3 40.6,257.0 41.0,258.5 41.4,260.0 41.8,261.3 42.2,262.6 42.6,263.9 43.0,265.3 43.4,266.6 43.8,267.8 44.0,268.5 48.0,278.1 52.0,280.7 56.0,281.5 60.0,281.5 64.0,281.7 68.0,282.0 72.0,282.4 76.0,282.9 80.0,283.3 84.0,283.5 88.0,283.7 92.0,284.1 96.0,284.3 100.0,284.5 104.0,284.2 105.3,283.7 108.3,282.4 110.8,280.8 112.8,278.8 114.3,276.8 115.4,274.9 116.2,272.9 116.8,270.2 117.2,265.9 117.4,259.2 117.6,249.1 117.7,230.4 117.7,192.9"/>
<polyline stroke="#98fca6" points="34.6,190.5 35.0,193.4 35.4,196.7 35.8,200.2 36.2,204.0 36.6,207.6 37.0,211.8 37.4,217.6 37.8,226.4 38.2,235.5 38.6,244.2 39.0,249.1 39.4,251.6 39.8,253.5 40.2,255.2 40.6,256.8 41.0,258.3 41.4,259.8 41.8,261.1 42.2,262.4 42.6,263.7 43.0,265.1 43.4,266.4 43.8,267.6 44.0,268.2 48.0,277.8 52.0,280.4 56.0,281.2 60.0,281.3 64.0,281.5 68.0,281.7 72.0,282.2 76.0,282.7 80.0,283.1 84.0,283.3 88.0,283.6 92.0,283.9 96.0,284.2 100.0,284.4 104.0,284.5 106.2,283.7 109.2,282.4 111.8,280.7 113.8,278.7 115.2,276.8 116.3,274.9 117.2,272.9 117.8,270.2 118.2,265.9 118.4,259.2 118.5,249.2 118.7,230.7 118.7,194.1"/>
<polyline stroke="#9afca5" points="34.6,190.4 35.0,193.3 35.4,196.5 35.8,200.1 36.2,203.8 36.6,207.5 37.0,211.6 37.4,217.4 37.8,226.3 38.2,235.3 38.6,244.1 39.0,249.0 39.4,251.5 39.8,253.4 40.2,255.0 40.6,256.6 41.0,258.2 41.4,259.6 41.8,261.0 42.2,262.3 42.6,263.5 43.0,264.8 43.4,266.1 43.8,267.4 44.0,268.0 48.0,277.5 52.0,280.2 56.0,280.9 60.0,281.0 64.0,281.3 68.0,281.5 72.0,281.9 76.0,282.5 80.0,282.9 84.0,283.1 88.0,283.4 92.0,283.8 96.0,284.1 100.0,284.3 104.0,284.4 107.2,283.7 110.2,282.4 112.7,280.7 114.7,278.7 116.2,276.7 117.3,274.9 118.1,272.9 118.7,270.2 119.1,265.9 119.4,259.2 119.5,249.2 119.6,230.7 119.7,194.0"/>
<polyline stroke="#9cfba4" points="34.6,190.2 35.0,193.1 35.4,196.4 35.8,199.9 36.2,203.7 36.6,207.3 37.0,211.5 37.4,217.3 37.8,226.1 38.2,235.2 38.6,244.0 39.0,248.8 39.4,251.4 39.8,253.2 40.2,254.9 40.6,256.5 41.0,258.0 41.4,259.5 41.8,260.8 42.2,262.1 42.6,263.4 43.0,264.6 43.4,265.9 43.8,267.2 44.0,267.8 48.0,277.2 52.0,279.9 56.0,280.7 60.0,280.8 64.0,281.0 68.0,281.3 72.0,281.7 76.0,282.3 80.0,282.7 84.0,283.0 88.0,283.2 92.0,283.6 96.0,284.0 100.0,284.2 104.0,284.3 108.2,283.6 111.2,282.3 113.7,280.7 115.7,278.7 117.2,276.7 118.3,274.8 119.1,272.9 119.7,270.2 120.1,265.9 120.4,259.1 120.5,249.0 120.6,230.3 120.7,192.6"/>
<polyline stroke="#9efaa3" points="34.6,190.1 35.0,193.0 35.4,196.2 35.8,199.8 36.2,203.5 36.6,207.2 37.0,211.3 37.4,217.1 37.8,226.0 38.2,235.1 38.6,243.9 39.0,248.7 39.4,251.2 39.8,253.1 40.2,254.8 40.6,256.3 41.0,257.9 41.4,259.3 41.8,260.6 42.2,261.9 42.6,263.2 43.0,264.4 43.4,265.7 43.8,266.9 44.0,267.5 48.0,277.0 52.0,279.6 56.0,280.4 60.0,280.5 64.0,280.8 68.0,281.1 72.0,281.5 76.0,282.1 80.0,282.5 84.0,282.8 88.0,283.1 92.0,283.5 96.0,283.8 100.0,284.1 104.0,284.2 108.0,284.0 109.2,283.6 112.2,282.3 114.7,280.7 116.7,278.7 118.2,276.7 119.3,274.8 120.1,272.8 120.7,270.2 121.1,265.8 121.3,259.0 121.5,248.7 121.6,229.5 121.7,189.8"/>
<polyline stroke="#a0faa1" points="34.6,189.9 35.0,192.8 35.4,196.1 35.8,199.6 36.2,203.4 36.6,207.0 37.0,211.2 37.4,217.0 37.8,225.9 38.2,234.9 38.6,243.7 39.0,248.6 39.4,251.1 39.8,253.0 40.2,254.6 40.6,256.2 41.0,257.7 41.4,259.1 41.8,260.4 42.2,261.7 42.6,263.0 43.0,264.2 43.4,265.5 43.8,266.7 44.0,267.3 48.0,276.7 52.0,279.3 56.0,280.1 60.0,280.3 64.0,280.6 68.0,280.9 72.0,281.3 76.0,281.9 80.0,282.3 84.0,282.6 88.0,282.9 92.0,283.3 96.0,283.7 100.0,284.0 104.0,284.2 108.0,284.3 110.2,283.6 113.2,282.3 115.7,280.7 117.7,278.7 119.2,276.7 120.3,274.8 121.1,272.9 121.7,270.2 122.1,265.9 122.3,259.3 122.5,249.4 122.6,231.6 122.6,197.2 122.7,112.0"/>
<polyline stroke="#a2f9a0" points="34.6,189.8 35.0,192.6 35.4,195.9 35.8,199.5 36.2,203.2 36.6,206.9 37.0,211.1 37.4,216.9 37.8,225.7 38.2,234.8 38.6,243.6 39.0,248.5 39.4,251.0 39.8,252.8 40.2,254.5 40.6,256.0 41.0,257.5 41.4,258.9 41.8,260.3 42.2,261.5 42.6,262.8 43.0,264.0 43.4,265.3 43.8,266.5 44.0,267.1 48.0,276.4 52.0,279.1 56.0,279.9 60.0,280.0 64.0,280.3 68.0,280.6 72.0,281.1 76.0,281.7 80.0,282.1 84.0,282.4 88.0,282.7 92.0,283.2 96.0,283.6 100.0,283.9 104.0,284.1 108.0,284.2 111.1,283.5 114.1,282.3 116.6,280.6 118.6,278.6 120.1,276.7 121.2,274.8 122.0,272.8 122.6,270.2 123.0,265.8 123.3,259.1 123.4,248.9 123.5,230.1 123.6,192.1"/>
<polyline stroke="#a4f99f" points="34.6,189.6 35.0,192.5 35.4,195.8 35.8,199.3 36.2,203.1 36.6,206.7 37.0,210.9 37.4,216.7 37.8,225.6 38.2,234.7 38.6,243.5 39.0,248.3 39.4,250.9 39.8,252.7 40.2,254.3 40.6,255.9 41.0,257.4 41.4,258.8 41.8,260.1 42.2,261.3 42.6,262.6 43.0,263.8 43.4,265.1 43.8,266.3 44.0,266.9 48.0,276.1 52.0,278.8 56.0,279.6 60.0,279.8 64.0,280.1 68.0,280.4 72.0,280.9 76.0,281.5 80.0,281.9 84.0,282.3 88.0,282.6 92.0,283.0 96.0,283.4 100.0,283.8 104.0,284.0 108.0,284.2 112.1,283.5 115.1,282.3 117.6,280.6 119.6,278.6 121.1,276.7 122.2,274.8 123.0,272.8 123.6,270.2 124.0,265.9 124.3,259.2 124.4,249.4 124.5,231.5 124.6,196.8 124.6,110.5"/>
<polyline stroke="#a6f89e" points="34.6,189.5 35.0,192.4 35.4,195.6 35.8,199.2 36.2,202.9 36.6,206.6 37.0,210.8 37.4,216.6 37.8,225.5 38.2,234.6 38.6,243.4 39.0,248.2 39.4,250.7 39.8,252.6 40.2,254.2 40.6,255.8 41.0,257.2 41.4,258.6 41.8,259.9 42.2,261.2 42.6,262.4 43.0,263.6 43.4,264.9 43.8,266.1 44.0,266.7 48.0,275.9 52.0,278.5 56.0,279.4 60.0,279.5 64.0,279.9 68.0,280.2 72.0,280.7 76.0,281.3 80.0,281.8 84.0,282.1 88.0,282.4 92.0,282.9 96.0,283.3 100.0,283.6 104.0,283.9 108.0,284.1 112.0,283.9 113.1,283.5 116.1,282.2 118.6,280.6 120.6,278.6 122.1,276.7 123.2,274.8 124.0,272.8 124.6,270.2 125.0,265.9 125.2,259.4 125.4,249.7 125.5,232.4 125.5,200.0 125.6,123.1"/>
<polyline stroke="#a8f79c" points="34.6,189.3 35.0,192.2 35.4,195.5 35.8,199.1 36.2,202.8 36.6,206.5 37.0,210.6 37.4,216.4 37.8,225.3 38.2,234.4 38.6,243.2 39.0,248.1 39.4,250.6 39.8,252.4 40.2,254.1 40.6,255.6 41.0,257.1 41.4,258.5 41.8,259.8 42.2,261.0 42.6,262.2 43.0,263.4 43.4,264.7 43.8,265.9 44.0,266.4 48.0,275.6 52.0,278.2 56.0,279.1 60.0,279.3 64.0,279.6 68.0,280.0 72.0,280.5 76.0,281.1 80.0,281.6 84.0,281.9 88.0,282.3 92.0,282.7 96.0,283.2 100.0,283.5 104.0,283.8 108.0,284.0 112.0,284.1 114.1,283.5 117.1,282.2 119.6,280.6 121.6,278.6 123.1,276.6 124.2,274.8 125.0,272.8 125.6,270.1 126.0,265.8 126.2,259.0 126.4,248.9 126.5,229.9 126.5,191.4"/>
<polyline stroke="#aaf69b" points="34.6,189.2 35.0,192.1 35.4,195.3 35.8,198.9 36.2,202.6 36.6,206.3 37.0,210.5 37.4,216.3 37.8,225.2 38.2,234.3 38.6,243.1 39.0,248.0 39.4,250.5 39.8,252.3 40.2,253.9 40.6,255.5 41.0,256.9 41.4,258.3 41.8,259.6 42.2,260.8 42.6,262.0 43.0,263.3 43.4,264.5 43.8,265.6 44.0,266.2 48.0,275.3 52.0,278.0 56.0,278.8 60.0,279.1 64.0,279.4 68.0,279.8 72.0,280.3 76.0,280.9 80.0,281.4 84.0,281.8 88.0,282.1 92.0,282.6 96.0,283.0 100.0,283.4 104.0,283.7 108.0,284.0 112.0,284.1 115.0,283.5 118.0,282.2 120.5,280.6 122.5,278.6 124.0,276.6 125.1,274.7 125.9,272.8 126.5,270.1 126.9,265.8 127.2,259.0 127.3,248.9 127.4,230.2 127.5,192.5"/>
<polyline stroke="#acf59a" points="34.6,189.0 35.0,191.9 35.4,195.2 35.8,198.8 36.2,202.5 36.6,206.2 37.0,210.4 37.4,216.2 37.8,225.1 38.2,234.2 38.6,243.0 39.0,247.8 39.4,250.3 39.8,252.2 40.2,253.8 40.6,255.3 41.0,256.8 41.4,258.1 41.8,259.4 42.2,260.6 42.6,261.8 43.0,263.1 43.4,264.3 43.8,265.4 44.0,266.0 48.0,275.0 52.0,277.7 56.0,278.6 60.0,278.8 64.0,279.2 68.0,279.6 72.0,280.1 76.0,280.7 80.0,281.2 84.0,281.6 88.0,281.9 92.0,282.4 96.0,282.9 100.0,283.3 104.0,283.6 108.0,283.9 112.0,284.1 116.0,283.4 119.0,282.2 121.5,280.6 123.5,278.6 125.0,276.6 126.1,274.7 126.9,272.8 127.5,270.1 127.9,265.8 128.2,259.0 128.3,248.9 128.4,230.1 128.5,192.2"/>
<polyline stroke="#aef498" points="34.6,188.9 35.0,191.8 35.4,195.1 35.8,198.6 36.2,202.4 36.6,206.0 37.0,210.2 37.4,216.0 37.8,224.9 38.2,234.1 38.6,242.9 39.0,247.7 39.4,250.2 39.8,252.1 40.2,253.7 40.6,255.2 41.0,256.6 41.4,258.0 41.8,259.2 42.2,260.5 42.6,261.7 43.0,262.9 43.4,264.1 43.8,265.2 44.0,265.8 48.0,274.8 52.0,277.4 56.0,278.3 60.0,278.6 64.0,279.0 68.0,279.4 72.0,279.9 76.0,280.5 80.0,281.0 84.0,281.4 88.0,281.8 92.0,282.3 96.0,282.7 100.0,283.2 104.0,283.5 108.0,283.8 112.0,284.0 117.0,283.4 120.0,282.2 122.5,280.6 124.5,278.6 126.0,276.6 127.1,274.7 127.9,272.8 128.5,270.1 128.9,265.8 129.1,259.0 129.3,248.8 129.4,229.7 129.4,190.6"/>
<polyline stroke="#b0f397" points="34.6,188.7 35.0,191.6 35.4,194.9 35.8,198.5 36.2,202.2 36.6,205.9 37.0,210.1 37.4,215.9 37.8,224.8 38.2,233.9 38.6,242.8 39.0,247.6 39.4,250.1 39.8,251.9 40.2,253.5 40.6,255.0 41.0,256.5 41.4,257.8 41.8,259.1 42.2,260.3 42.6,261.5 43.0,262.7 43.4,263.9 43.8,265.0 44.0,265.6 48.0,274.5 52.0,277.2 56.0,278.1 60.0,278.3 64.0,278.7 68.0,279.1 72.0,279.7 76.0,280.4 80.0,280.9 84.0,281.3 88.0,281.6 92.0,282.1 96.0,282.6 100.0,283.0 104.0,283.4 108.0,283.8 112.0,284.0 116.0,284.0 117.9,283.4 120.9,282.2 123.4,280.5 125.4,278.6 126.9,276.6 128.0,274.7 128.8,272.8 129.4,270.2 129.8,265.9 130.1,259.3 130.2,249.6 130.3,232.1 130.4,198.9 130.4,119.0"/>
<polyline stroke="#b3f396" points="34.6,188.6 35.0,191.5 35.4,194.8 35.8,198.3 36.2,202.1 36.6,205.8 37.0,209.9 37.4,215.8 37.8,224.7 38.2,233.8 38.6,242.6 39.0,247.5 39.4,250.0 39.8,251.8 40.2,253.4 40.6,254.9 41.0,256.3 41.4,257.7 41.8,258.9 42.2,260.1 42.6,261.3 43.0,262.5 43.4,263.7 43.8,264.8 44.0,265.4 48.0,274.2 52.0,276.9 56.0,277.8 60.0,278.1 64.0,278.5 68.0,278.9 72.0,279.5 76.0,280.2 80.0,280.7 84.0,281.1 88.0,281.5 92.0,282.0 96.0,282.5 100.0,282.9 104.0,283.3 108.0,283.7 112.0,283.9 116.0,284.0 118.9,283.4 121.9,282.1 124.4,280.5 126.4,278.6 127.9,276.6 129.0,274.7 129.8,272.8 130.4,270.1 130.8,265.8 131.1,259.2 131.2,249.2 131.3,231.0 131.4,195.2"/>
<polyline stroke="#b5f295" points="34.6,188.4 35.0,191.3 35.4,194.6 35.8,198.2 36.2,201.9 36.6,205.6 37.0,209.8 37.4,215.6 37.8,224.5 38.2,233.7 38.6,242.5 39.0,247.4 39.4,249.9 39.8,251.7 40.2,253.3 40.6,254.8 41.0,256.2 41.4,257.5 41.8,258.8 42.2,259.9 42.6,261.1 43.0,262.3 43.4,263.5 43.8,264.6 44.0,265.2 48.0,274.0 52.0,276.6 56.0,277.6 60.0,277.9 64.0,278.3 68.0,278.7 72.0,279.3 76.0,280.0 80.0,280.5 84.0,280.9 88.0,281.3 92.0,281.8 96.0,282.3 100.0,282.8 104.0,283.2 108.0,283.6 112.0,283.9 116.0,284.0 119.9,283.4 122.9,282.1 125.4,280.5 127.4,278.5 128.9,276.6 130.0,274.7 130.8,272.8 131.4,270.1 131.8,265.8 132.0,259.0 132.2,248.7 132.3,229.5 132.3,189.8"/>
<polyline stroke="#b7f093" points="34.6,188.3 35.0,191.2 35.4,194.5 35.8,198.1 36.2,201.8 36.6,205.5 37.0,209.7 37.4,215.5 37.8,224.4 38.2,233.6 38.6,242.4 39.0,247.2 39.4,249.7 39.8,251.6 40.2,253.1 40.6,254.6 41.0,256.0 41.4,257.4 41.8,258.6 42.2,259.8 42.6,260.9 43.0,262.1 43.4,263.3 43.8,264.4 44.0,265.0 48.0,273.7 52.0,276.4 56.0,277.3 60.0,277.6 64.0,278.1 68.0,278.5 72.0,279.1 76.0,279.8 80.0,280.3 84.0,280.8 88.0,281.2 92.0,281.7 96.0,282.2 100.0,282.7 104.0,283.1 108.0,283.5 112.0,283.8 116.0,284.0 120.8,283.4 123.8,282.1 126.3,280.5 128.3,278.6 129.8,276.6 130.9,274.7 131.7,272.8 132.3,270.1 132.7,265.8 133.0,259.2 133.1,249.2 133.2,230.9 133.3,194.8"/>
<polyline stroke="#b9ef92" points="34.6,188.2 35.0,191.1 35.4,194.4 35.8,197.9 36.2,201.7 36.6,205.4 37.0,209.5 37.4,215.4 37.8,224.3 38.2,233.4 38.6,242.3 39.0,247.1 39.4,249.6 39.8,251.4 40.2,253.0 40.6,254.5 41.0,255.9 41.4,257.2 41.8,258.4 42.2,259.6 42.6,260.8 43.0,261.9 43.4,263.1 43.8,264.2 44.0,264.7 48.0,273.4 52.0,276.1 56.0,277.1 60.0,277.4 64.0,277.8 68.0,278.3 72.0,278.9 76.0,279.6 80.0,280.2 84.0,280.6 88.0,281.0 92.0,281.6 96.0,282.1 100.0,282.5 104.0,283.0 108.0,283.4 112.0,283.8 116.0,284.0 120.0,283.9 121.8,283.4 124.8,282.1 127.3,280.5 129.3,278.6 130.8,276.6 131.9,274.8 132.7,272.8 133.3,270.2 133.7,265.9 133.9,259.3 134.1,249.5 134.2,231.9 134.2,198.1 134.3,115.7"/>
<polyline stroke="#bbee91" points="34.6,188.0 35.0,190.9 35.4,194.2 35.8,197.8 36.2,201.5 36.6,205.2 37.0,209.4 37.4,215.2 37.8,224.2 38.2,233.3 38.6,242.2 39.0,247.0 39.4,249.5 39.8,251.3 40.2,252.9 40.6,254.4 41.0,255.8 41.4,257.1 41.8,258.3 42.2,259.4 42.6,260.6 43.0,261.7 43.4,262.9 43.8,264.0 44.0,264.5 48.0,273.2 52.0,275.8 56.0,276.8 60.0,277.1 64.0,277.6 68.0,278.1 72.0,278.7 76.0,279.4 80.0,280.0 84.0,280.4 88.0,280.9 92.0,281.4 96.0,281.9 100.0,282.4 104.0,282.9 108.0,283.3 112.0,283.7 116.0,283.9 120.0,283.9 122.8,283.3 125.8,282.1 128.2,280.5 130.2,278.6 131.8,276.6 132.8,274.8 133.7,272.8 134.2,270.2 134.7,266.0 134.9,259.4 135.1,249.7 135.2,232.5 135.2,200.2 135.2,123.6"/>
<polyline stroke="#bded8f" points="34.6,187.9 35.0,190.8 35.4,194.1 35.8,197.7 36.2,201.4 36.6,205.1 37.0,209.3 37.4,215.1 37.8,224.0 38.2,233.2 38.6,242.1 39.0,246.9 39.4,249.4 39.8,251.2 40.2,252.8 40.6,254.2 41.0,255.6 41.4,256.9 41.8,258.1 42.2,259.3 42.6,260.4 43.0,261.6 43.4,262.7 43.8,263.8 44.0,264.3 48.0,272.9 52.0,275.6 56.0,276.5 60.0,276.9 64.0,277.4 68.0,277.9 72.0,278.5 76.0,279.2 80.0,279.8 84.0,280.3 88.0,280.7 92.0,281.3 96.0,281.8 100.0,282.3 104.0,282.8 108.0,283.2 112.0,283.6 116.0,283.9 120.0,284.0 123.7,283.3 126.7,282.1 129.2,280.5 131.2,278.5 132.7,276.6 133.8,274.8 134.6,272.8 135.2,270.2 135.6,265.8 135.9,259.0 136.0,248.8 136.1,229.6 136.2,190.3"/>
<polyline stroke="#bfec8e" points="34.6,187.7 35.0,190.6 35.4,193.9 35.8,197.5 36.2,201.3 36.6,204.9 37.0,209.1 37.4,215.0 37.8,223.9 38.2,233.1 38.6,241.9 39.0,246.8 39.4,249.3 39.8,251.1 40.2,252.6 40.6,254.1 41.0,255.5 41.4,256.8 41.8,258.0 42.2,259.1 42.6,260.2 43.0,261.4 43.4,262.5 43.8,263.6 44.0,264.1 48.0,272.7 52.0,275.3 56.0,276.3 60.0,276.7 64.0,277.2 68.0,277.7 72.0,278.3 76.0,279.0 80.0,279.6 84.0,280.1 88.0,280.6 92.0,281.1 96.0,281.7 100.0,282.2 104.0,282.7 108.0,283.1 112.0,283.5 116.0,283.8 120.0,284.0 124.7,283.3 127.7,282.1 130.2,280.5 132.2,278.6 133.7,276.6 134.8,274.8 135.6,272.8 136.2,270.2 136.6,265.8 136.8,259.1 137.0,248.8 137.1,229.6 137.1,190.1"/>
<polyline stroke="#c1eb8d" points="34.6,187.6 35.0,190.5 35.4,193.8 35.8,197.4 36.2,201.1 36.6,204.8 37.0,209.0 37.4,214.8 37.8,223.8 38.2,233.0 38.6,241.8 39.0,246.7 39.4,249.2 39.8,251.0 40.2,252.5 40.6,254.0 41.0,255.3 41.4,256.6 41.8,257.8 42.2,258.9 42.6,260.1 43.0,261.2 43.4,262.3 43.8,263.4 44.0,263.9 48.0,272.4 52.0,275.0 56.0,276.0 60.0,276.4 64.0,277.0 68.0,277.5 72.0,278.1 76.0,278.9 80.0,279.5 84.0,279.9 88.0,280.4 92.0,281.0 96.0,281.5 100.0,282.1 104.0,282.5 108.0,283.0 112.0,283.5 116.0,283.8 120.0,283.9 124.0,283.8 125.6,283.3 128.6,282.1 131.1,280.5 133.1,278.6 134.6,276.7 135.7,274.8 136.5,272.9 137.1,270.3 137.5,266.0 137.8,259.4 137.9,249.8 138.0,232.4 138.1,199.8 138.1,121.9"/>
<polyline stroke="#c3e98b" points="34.6,187.4 35.0,190.4 35.4,193.7 35.8,197.2 36.2,201.0 36.6,204.7 37.0,208.9 37.4,214.7 37.8,223.7 38.2,232.8 38.6,241.7 39.0,246.6 39.4,249.0 39.8,250.8 40.2,252.4 40.6,253.8 41.0,255.2 41.4,256.5 41.8,257.7 42.2,258.8 42.6,259.9 43.0,261.0 43.4,262.1 43.8,263.2 44.0,263.7 48.0,272.1 52.0,274.8 56.0,275.8 60.0,276.2 64.0,276.7 68.0,277.3 72.0,277.9 76.0,278.7 80.0,279.3 84.0,279.8 88.0,280.3 92.0,280.8 96.0,281.4 100.0,281.9 104.0,282.4 108.0,282.9 112.0,283.4 116.0,283.7 120.0,283.9 124.0,283.9 126.6,283.3 129.6,282.1 132.1,280.5 134.1,278.6 135.6,276.7 136.7,274.8 137.5,272.9 138.1,270.3 138.5,266.0 138.7,259.4 138.9,249.6 139.0,231.7 139.1,197.4 139.1,112.6"/>
<polyline stroke="#c5e88a" points="34.6,187.3 35.0,190.2 35.4,193.5 35.8,197.1 36.2,200.9 36.6,204.5 37.0,208.7 37.4,214.6 37.8,223.5 38.2,232.7 38.6,241.6 39.0,246.4 39.4,248.9 39.8,250.7 40.2,252.3 40.6,253.7 41.0,255.1 41.4,256.3 41.8,257.5 42.2,258.6 42.6,259.7 43.0,260.8 43.4,261.9 43.8,263.0 44.0,263.5 48.0,271.9 52.0,274.5 56.0,275.5 60.0,276.0 64.0,276.5 68.0,277.1 72.0,277.7 76.0,278.5 80.0,279.1 84.0,279.6 88.0,280.1 92.0,280.7 96.0,281.3 100.0,281.8 104.0,282.3 108.0,282.8 112.0,283.3 116.0,283.6 120.0,283.9 124.0,283.9 127.5,283.3 130.6,282.1 133.1,280.5 135.1,278.6 136.6,276.7 137.7,274.9 138.4,272.9 139.1,270.3 139.4,266.0 139.7,259.3 139.8,249.2 139.9,230.7 140.0,193.8"/>
<polyline stroke="#c7e789" points="34.6,187.2 35.0,190.1 35.4,193.4 35.8,197.0 36.2,200.7 36.6,204.4 37.0,208.6 37.4,214.5 37.8,223.4 38.2,232.6 38.6,241.5 39.0,246.3 39.4,248.8 39.8,250.6 40.2,252.1 40.6,253.6 41.0,254.9 41.4,256.2 41.8,257.4 42.2,258.5 42.6,259.6 43.0,260.7 43.4,261.8 43.8,262.8 44.0,263.3 48.0,271.6 52.0,274.3 56.0,275.3 60.0,275.7 64.0,276.3 68.0,276.9 72.0,277.6 76.0,278.3 80.0,278.9 84.0,279.5 88.0,280.0 92.0,280.6 96.0,281.2 100.0,281.7 104.0,282.2 108.0,282.7 112.0,283.2 116.0,283.6 120.0,283.8 124.0,283.9 128.5,283.3 131.5,282.1 134.0,280.5 136.0,278.6 137.5,276.7 138.6,274.9 139.4,273.0 140.0,270.4 140.4,266.1 140.7,259.5 140.8,249.8 140.9,232.4 141.0,199.6 141.0,121.1"/>
<polyline stroke="#c9e587" points="34.6,187.0 35.0,189.9 35.4,193.3 35.8,196.8 36.2,200.6 36.6,204.3 37.0,208.5 37.4,214.3 37.8,223.3 38.2,232.5 38.6,241.4 39.0,246.2 39.4,248.7 39.8,250.5 40.2,252.0 40.6,253.4 41.0,254.8 41.4,256.0 41.8,257.2 42.2,258.3 42.6,259.4 43.0,260.5 43.4,261.6 43.8,262.6 44.0,263.1 48.0,271.4 52.0,274.0 56.0,275.1 60.0,275.5 64.0,276.1 68.0,276.7 72.0,277.4 76.0,278.1 80.0,278.8 84.0,279.3 88.0,279.8 92.0,280.4 96.0,281.0 100.0,281.6 104.0,282.1 108.0,282.6 112.0,283.1 116.0,283.5 120.0,283.8 124.0,283.9 128.0,283.7 129.5,283.3 132.5,282.1 135.0,280.6 137.0,278.6 138.5,276.7 139.6,274.9 140.4,273.0 141.0,270.3 141.4,266.0 141.6,259.3 141.8,249.3 141.9,230.7 141.9,193.7"/>
<polyline stroke="#cbe486" points="34.6,186.9 35.0,189.8 35.4,193.1 35.8,196.7 36.2,200.5 36.6,204.2 37.0,208.4 37.4,214.2 37.8,223.2 38.2,232.4 38.6,241.3 39.0,246.1 39.4,248.6 39.8,250.4 40.2,251.9 40.6,253.3 41.0,254.6 41.4,255.9 41.8,257.0 42.2,258.1 42.6,259.2 43.0,260.3 43.4,261.4 43.8,262.4 44.0,262.9 48.0,271.1 52.0,273.7 56.0,274.8 60.0,275.3 64.0,275.9 68.0,276.5 72.0,277.2 76.0,278.0 80.0,278.6 84.0,279.1 88.0,279.7 92.0,280.3 96.0,280.9 100.0,281.5 104.0,282.0 108.0,282.5 112.0,283.0 116.0,283.4 120.0,283.8 124.0,283.9 128.0,283.9 130.4,283.3 133.4,282.1 135.9,280.6 137.9,278.7 139.4,276.8 140.5,274.9 141.3,273.0 141.9,270.4 142.3,266.1 142.6,259.5 142.7,249.7 142.8,231.8 142.9,197.4 142.9,112.1"/>
<polyline stroke="#cde285" points="34.6,186.8 35.0,189.7 35.4,193.0 35.8,196.6 36.2,200.3 36.6,204.0 37.0,208.2 37.4,214.1 37.8,223.0 38.2,232.3 38.6,241.2 39.0,246.0 39.4,248.5 39.8,250.3 40.2,251.8 40.6,253.2 41.0,254.5 41.4,255.7 41.8,256.9 42.2,258.0 42.6,259.1 43.0,260.2 43.4,261.2 43.8,262.3 44.0,262.8 48.0,270.9 52.0,273.5 56.0,274.6 60.0,275.1 64.0,275.7 68.0,276.3 72.0,277.0 76.0,277.8 80.0,278.4 84.0,279.0 88.0,279.5 92.0,280.2 96.0,280.8 100.0,281.3 104.0,281.9 108.0,282.4 112.0,282.9 116.0,283.4 120.0,283.7 124.0,283.9 128.0,283.9 131.4,283.3 134.4,282.1 136.9,280.6 138.9,278.7 140.4,276.8 141.5,275.0 142.3,273.1 142.9,270.5 143.3,266.2 143.5,259.6 143.7,249.9 143.8,232.5 143.8,199.7 143.9,121.2"/>
<polyline stroke="#cfe183" points="34.6,186.6 35.0,189.5 35.4,192.8 35.8,196.4 36.2,200.2 36.6,203.9 37.0,208.1 37.4,214.0 37.8,222.9 38.2,232.1 38.6,241.0 39.0,245.9 39.4,248.4 39.8,250.1 40.2,251.7 40.6,253.1 41.0,254.4 41.4,255.6 41.8,256.8 42.2,257.8 42.6,258.9 43.0,260.0 43.4,261.0 43.8,262.1 44.0,262.6 48.0,270.6 52.0,273.2 56.0,274.3 60.0,274.8 64.0,275.5 68.0,276.1 72.0,276.8 76.0,277.6 80.0,278.3 84.0,278.8 88.0,279.4 92.0,280.0 96.0,280.6 100.0,281.2 104.0,281.8 108.0,282.3 112.0,282.8 116.0,283.3 120.0,283.6 124.0,283.9 128.0,283.9 132.3,283.3 135.3,282.1 137.8,280.6 139.8,278.7 141.3,276.8 142.4,275.0 143.2,273.1 143.8,270.4 144.2,266.1 144.5,259.3 144.6,249.0 144.7,229.7 144.8,190.0"/>
<polyline stroke="#d1df82" points="34.6,186.5 35.0,189.4 35.4,192.7 35.8,196.3 36.2,200.1 36.6,203.8 37.0,208.0 37.4,213.8 37.8,222.8 38.2,232.0 38.6,240.9 39.0,245.8 39.4,248.3 39.8,250.0 40.2,251.5 40.6,252.9 41.0,254.2 41.4,255.5 41.8,256.6 42.2,257.7 42.6,258.7 43.0,259.8 43.4,260.9 43.8,261.9 44.0,262.4 48.0,270.4 52.0,273.0 56.0,274.1 60.0,274.6 64.0,275.2 68.0,275.9 72.0,276.6 76.0,277.4 80.0,278.1 84.0,278.7 88.0,279.2 92.0,279.9 96.0,280.5 100.0,281.1 104.0,281.7 108.0,282.2 112.0,282.7 116.0,283.2 120.0,283.6 124.0,283.9 128.0,284.0 132.0,283.7 133.3,283.3 136.3,282.2 138.8,280.7 140.8,278.8 142.3,276.9 143.4,275.0 144.2,273.1 144.8,270.5 145.2,266.1 145.4,259.3 145.6,249.1 145.7,229.8 145.7,190.2"/>
<polyline stroke="#d3de80" points="34.6,186.3 35.0,189.3 35.4,192.6 35.8,196.2 36.2,199.9 36.6,203.6 37.0,207.8 37.4,213.7 37.8,222.7 38.2,231.9 38.6,240.8 39.0,245.7 39.4,248.1 39.8,249.9 40.2,251.4 40.6,252.8 41.0,254.1 41.4,255.3 41.8,256.5 42.2,257.5 42.6,258.6 43.0,259.6 43.4,260.7 43.8,261.7 44.0,262.2 48.0,270.1 52.0,272.7 56.0,273.8 60.0,274.4 64.0,275.0 68.0,275.7 72.0,276.4 76.0,277.2 80.0,277.9 84.0,278.5 88.0,279.1 92.0,279.7 96.0,280.4 100.0,281.0 104.0,281.5 108.0,282.1 112.0,282.6 116.0,283.1 120.0,283.5 124.0,283.8 128.0,284.0 132.0,283.9 134.2,283.3 137.2,282.2 139.7,280.7 141.7,278.8 143.2,276.9 144.3,275.1 145.1,273.2 145.7,270.6 146.1,266.3 146.4,259.7 146.5,250.1 146.6,232.7 146.7,200.2 146.7,122.8"/>
<polyline stroke="#d5dc7f" points="34.6,186.2 35.0,189.1 35.4,192.4 35.8,196.0 36.2,199.8 36.6,203.5 37.0,207.7 37.4,213.6 37.8,222.6 38.2,231.8 38.6,240.7 39.0,245.6 39.4,248.0 39.8,249.8 40.2,251.3 40.6,252.7 41.0,254.0 41.4,255.2 41.8,256.3 42.2,257.4 42.6,258.4 43.0,259.5 43.4,260.5 43.8,261.5 44.0,262.0 48.0,269.9 52.0,272.5 56.0,273.6 60.0,274.1 64.0,274.8 68.0,275.5 72.0,276.2 76.0,277.1 80.0,277.8 84.0,278.4 88.0,278.9 92.0,279.6 96.0,280.3 100.0,280.9 104.0,281.4 108.0,282.0 112.0,282.5 116.0,283.0 120.0,283.4 124.0,283.8 128.0,284.0 132.0,283.9 135.2,283.4 138.2,282.2 140.7,280.7 142.7,278.8 144.2,277.0 145.3,275.1 146.1,273.2 146.7,270.6 147.1,266.3 147.3,259.7 147.5,249.9 147.6,232.2 147.6,198.2 147.7,114.9"/>
<polyline stroke="#d7db7e" points="34.6,186.1 35.0,189.0 35.4,192.3 35.8,195.9 36.2,199.7 36.6,203.4 37.0,207.6 37.4,213.5 37.8,222.4 38.2,231.7 38.6,240.6 39.0,245.5 39.4,247.9 39.8,249.7 40.2,251.2 40.6,252.6 41.0,253.9 41.4,255.1 41.8,256.2 42.2,257.2 42.6,258.3 43.0,259.3 43.4,260.3 43.8,261.3 44.0,261.8 48.0,269.6 52.0,272.2 56.0,273.3 60.0,273.9 64.0,274.6 68.0,275.3 72.0,276.0 76.0,276.9 80.0,277.6 84.0,278.2 88.0,278.8 92.0,279.5 96.0,280.1 100.0,280.7 104.0,281.3 108.0,281.9 112.0,282.5 116.0,282.9 120.0,283.4 124.0,283.7 128.0,283.9 132.0,284.0 136.1,283.4 139.1,282.3 141.6,280.8 143.6,278.9 145.1,277.0 146.2,275.2 147.0,273.2 147.6,270.6 148.0,266.3 148.3,259.6 148.4,249.6 148.5,231.2 148.6,194.9"/>
<polyline stroke="#d9d97c" points="34.6,185.9 35.0,188.9 35.4,192.2 35.8,195.8 36.2,199.5 36.6,203.2 37.0,207.5 37.4,213.3 37.8,222.3 38.2,231.6 38.6,240.5 39.0,245.4 39.4,247.8 39.8,249.6 40.2,251.1 40.6,252.4 41.0,253.7 41.4,254.9 41.8,256.0 42.2,257.1 42.6,258.1 43.0,259.1 43.4,260.1 43.8,261.1 44.0,261.6 48.0,269.4 52.0,272.0 56.0,273.1 60.0,273.7 64.0,274.4 68.0,275.1 72.0,275.9 76.0,276.7 80.0,277.4 84.0,278.1 88.0,278.7 92.0,279.3 96.0,280.0 100.0,280.6 104.0,281.2 108.0,281.8 112.0,282.4 116.0,282.9 120.0,283.3 124.0,283.7 128.0,283.9 132.0,284.0 136.0,283.7 137.1,283.4 140.1,282.3 142.6,280.8 144.6,278.9 146.1,277.0 147.2,275.2 148.0,273.3 148.6,270.6 149.0,266.3 149.2,259.5 149.4,249.2 149.5,229.9 149.5,190.1"/>
<polyline stroke="#dbd77b" points="34.6,185.8 35.0,188.7 35.4,192.0 35.8,195.6 36.2,199.4 36.6,203.1 37.0,207.3 37.4,213.2 37.8,222.2 38.2,231.5 38.6,240.4 39.0,245.3 39.4,247.7 39.8,249.5 40.2,251.0 40.6,252.3 41.0,253.6 41.4,254.8 41.8,255.9 42.2,256.9 42.6,257.9 43.0,259.0 43.4,260.0 43.8,260.9 44.0,261.4 48.0,269.1 52.0,271.7 56.0,272.9 60.0,273.5 64.0,274.2 68.0,274.9 72.0,275.7 76.0,276.5 80.0,277.3 84.0,277.9 88.0,278.5 92.0,279.2 96.0,279.9 100.0,280.5 104.0,281.1 108.0,281.7 112.0,282.3 116.0,282.8 120.0,283.2 124.0,283.6 128.0,283.9 132.0,284.0 136.0,283.9 138.0,283.4 141.0,282.3 143.5,280.8 145.5,279.0 147.0,277.1 148.1,275.2 148.9,273.3 149.5,270.7 149.9,266.4 150.2,259.7 150.3,249.7 150.4,231.5 150.5,195.8 150.5,104.6"/>
<polyline stroke="#ddd679" points="34.6,185.7 35.0,188.6 35.4,191.9 35.8,195.5 36.2,199.3 36.6,203.0 37.0,207.2 37.4,213.1 37.8,222.1 38.2,231.3 38.6,240.3 39.0,245.1 39.4,247.6 39.8,249.4 40.2,250.8 40.6,252.2 41.0,253.5 41.4,254.6 41.8,255.7 42.2,256.8 42.6,257.8 43.0,258.8 43.4,259.8 43.8,260.8 44.0,261.2 48.0,268.9 52.0,271.5 56.0,272.6 60.0,273.2 64.0,274.0 68.0,274.7 72.0,275.5 76.0,276.4 80.0,277.1 84.0,277.8 88.0,278.4 92.0,279.1 96.0,279.8 100.0,280.4 104.0,281.0 108.0,281.6 112.0,282.2 116.0,282.7 120.0,283.2 124.0,283.6 128.0,283.9 132.0,284.0 136.0,284.0 138.9,283.5 141.9,282.4 144.4,280.9 146.4,279.0 147.9,277.1 149.0,275.3 149.8,273.4 150.4,270.7 150.8,266.5 151.1,259.9 151.2,250.2 151.3,232.8 151.4,200.0 151.4,121.5"/>
<polyline stroke="#dfd478" points="34.6,185.5 35.0,188.5 35.4,191.8 35.8,195.4 36.2,199.1 36.6,202.8 37.0,207.1 37.4,213.0 37.8,222.0 38.2,231.2 38.6,240.2 39.0,245.0 39.4,247.5 39.8,249.3 40.2,250.7 40.6,252.1 41.0,253.3 41.4,254.5 41.8,255.6 42.2,256.6 42.6,257.6 43.0,258.6 43.4,259.6 43.8,260.6 44.0,261.0 48.0,268.6 52.0,271.2 56.0,272.4 60.0,273.0 64.0,273.8 68.0,274.5 72.0,275.3 76.0,276.2 80.0,276.9 84.0,277.6 88.0,278.2 92.0,278.9 96.0,279.6 100.0,280.3 104.0,280.9 108.0,281.5 112.0,282.1 116.0,282.6 120.0,283.1 124.0,283.5 128.0,283.8 132.0,284.0 136.0,284.1 139.9,283.5 142.9,282.4 145.4,280.9 147.4,279.0 148.9,277.1 150.0,275.3 150.8,273.4 151.4,270.7 151.8,266.4 152.0,259.7 152.2,249.5 152.3,230.7 152.3,192.9"/>
<polyline stroke="#e1d277" points="34.6,185.4 35.0,188.3 35.4,191.6 35.8,195.2 36.2,199.0 36.6,202.7 37.0,206.9 37.4,212.8 37.8,221.8 38.2,231.1 38.6,240.1 39.0,244.9 39.4,247.4 39.8,249.2 40.2,250.6 40.6,252.0 41.0,253.2 41.4,254.4 41.8,255.5 42.2,256.5 42.6,257.5 43.0,258.5 43.4,259.5 43.8,260.4 44.0,260.9 48.0,268.4 52.0,271.0 56.0,272.1 60.0,272.8 64.0,273.5 68.0,274.3 72.0,275.1 76.0,276.0 80.0,276.8 84.0,277.4 88.0,278.1 92.0,278.8 96.0,279.5 100.0,280.2 104.0,280.8 108.0,281.4 112.0,282.0 116.0,282.5 120.0,283.0 124.0,283.4 128.0,283.8 132.0,284.0 136.0,284.1 140.8,283.5 143.8,282.4 146.3,280.9 148.3,279.1 149.8,277.2 150.9,275.4 151.7,273.4 152.3,270.8 152.7,266.5 153.0,259.8 153.1,249.9 153.2,231.7 153.3,196.2 153.3,106.2"/>
<polyline stroke="#e3d075" points="34.6,185.3 35.0,188.2 35.4,191.5 35.8,195.1 36.2,198.9 36.6,202.6 37.0,206.8 37.4,212.7 37.8,221.7 38.2,231.0 38.6,240.0 39.0,244.8 39.4,247.3 39.8,249.0 40.2,250.5 40.6,251.8 41.0,253.1 41.4,254.2 41.8,255.3 42.2,256.3 42.6,257.3 43.0,258.3 43.4,259.3 43.8,260.2 44.0,260.7 48.0,268.1 52.0,270.7 56.0,271.9 60.0,272.6 64.0,273.3 68.0,274.1 72.0,274.9 76.0,275.8 80.0,276.6 84.0,277.3 88.0,277.9 92.0,278.7 96.0,279.4 100.0,280.0 104.0,280.7 108.0,281.3 112.0,281.9 116.0,282.4 120.0,282.9 124.0,283.4 128.0,283.7 132.0,284.0 136.0,284.2 140.0,284.0 141.8,283.6 144.8,282.5 147.3,281.0 149.3,279.1 150.8,277.2 151.9,275.4 152.7,273.5 153.3,270.9 153.7,266.6 153.9,260.0 154.1,250.2 154.2,232.5 154.2,198.7 154.3,116.1"/>
<polyline stroke="#e6ce74" points="34.6,185.1 35.0,188.0 35.4,191.4 35.8,195.0 36.2,198.7 36.6,202.5 37.0,206.7 37.4,212.6 37.8,221.6 38.2,230.9 38.6,239.9 39.0,244.7 39.4,247.2 39.8,248.9 40.2,250.4 40.6,251.7 41.0,253.0 41.4,254.1 41.8,255.2 42.2,256.2 42.6,257.2 43.0,258.1 43.4,259.1 43.8,260.0 44.0,260.5 48.0,267.9 52.0,270.5 56.0,271.7 60.0,272.3 64.0,273.1 68.0,273.9 72.0,274.7 76.0,275.7 80.0,276.5 84.0,277.1 88.0,277.8 92.0,278.5 96.0,279.3 100.0,279.9 104.0,280.6 108.0,281.2 112.0,281.8 116.0,282.4 120.0,282.8 124.0,283.3 128.0,283.7 132.0,284.0 136.0,284.2 140.0,284.1 142.7,283.6 145.7,282.5 148.2,281.0 150.2,279.1 151.7,277.3 152.8,275.4 153.6,273.5 154.2,270.9 154.6,266.7 154.9,260.1 155.0,250.4 155.1,233.0 155.2,200.4 155.2,122.9"/>
<polyline stroke="#e8cc72" points="34.6,185.0 35.0,187.9 35.4,191.2 35.8,194.8 36.2,198.6 36.6,202.3 37.0,206.6 37.4,212.5 37.8,221.5 38.2,230.8 38.6,239.8 39.0,244.6 39.4,247.1 39.8,248.8 40.2,250.3 40.6,251.6 41.0,252.8 41.4,254.0 41.8,255.0 42.2,256.0 42.6,257.0 43.0,258.0 43.4,258.9 43.8,259.9 44.0,260.3 48.0,267.6 52.0,270.2 56.0,271.4 60.0,272.1 64.0,272.9 68.0,273.7 72.0,274.6 76.0,275.5 80.0,276.3 84.0,277.0 88.0,277.7 92.0,278.4 96.0,279.1 100.0,279.8 104.0,280.5 108.0,281.1 112.0,281.7 116.0,282.3 120.0,282.8 124.0,283.2 128.0,283.6 132.0,284.0 136.0,284.2 140.0,284.2 143.7,283.6 146.7,282.5 149.2,281.1 151.2,279.2 152.7,277.3 153.8,275.5 154.6,273.5 155.2,270.9 155.6,266.5 155.8,259.7 156.0,249.5 156.1,230.2 156.1,190.7"/>
<polyline stroke="#eaca71" points="34.6,184.8 35.0,187.8 35.4,191.1 35.8,194.7 36.2,198.5 36.6,202.2 37.0,206.4 37.4,212.3 37.8,221.4 38.2,230.7 38.6,239.7 39.0,244.5 39.4,247.0 39.8,248.7 40.2,250.2 40.6,251.5 41.0,252.7 41.4,253.8 41.8,254.9 42.2,255.9 42.6,256.9 43.0,257.8 43.4,258.8 43.8,259.7 44.0,260.1 48.0,267.4 52.0,270.0 56.0,271.2 60.0,271.9 64.0,272.7 68.0,273.5 72.0,274.4 76.0,275.3 80.0,276.1 84.0,276.8 88.0,277.5 92.0,278.3 96.0,279.0 100.0,279.7 104.0,280.4 108.0,281.0 112.0,281.6 116.0,282.2 120.0,282.7 124.0,283.2 128.0,283.6 132.0,283.9 136.0,284.2 140.0,284.3 144.6,283.7 147.6,282.6 150.1,281.1 152.1,279.2 153.6,277.3 154.7,275.5 155.5,273.6 156.1,270.9 156.5,266.6 156.8,259.8 156.9,249.6 157.0,230.5 157.1,191.4"/>
<polyline stroke="#ecc96f" points="34.6,184.7 35.0,187.6 35.4,191.0 35.8,194.6 36.2,198.3 36.6,202.1 37.0,206.3 37.4,212.2 37.8,221.3 38.2,230.6 38.6,239.6 39.0,244.4 39.4,246.9 39.8,248.6 40.2,250.1 40.6,251.4 41.0,252.6 41.4,253.7 41.8,254.8 42.2,255.7 42.6,256.7 43.0,257.7 43.4,258.6 43.8,259.5 44.0,260.0 48.0,267.1 52.0,269.7 56.0,270.9 60.0,271.7 64.0,272.5 68.0,273.3 72.0,274.2 76.0,275.1 80.0,276.0 84.0,276.7 88.0,277.4 92.0,278.2 96.0,278.9 100.0,279.6 104.0,280.3 108.0,280.9 112.0,281.5 116.0,282.1 120.0,282.6 124.0,283.1 128.0,283.5 132.0,283.9 136.0,284.2 140.0,284.3 144.0,284.1 145.5,283.7 148.5,282.6 151.0,281.1 153.0,279.3 154.5,277.4 155.6,275.6 156.4,273.6 157.0,271.0 157.4,266.6 157.7,259.9 157.8,249.6 157.9,230.5 158.0,191.4"/>
<polyline stroke="#eec76e" points="34.6,184.6 35.0,187.5 35.4,190.8 35.8,194.4 36.2,198.2 36.6,201.9 37.0,206.2 37.4,212.1 37.8,221.1 38.2,230.5 38.6,239.5 39.0,244.3 39.4,246.8 39.8,248.5 40.2,250.0 40.6,251.3 41.0,252.5 41.4,253.6 41.8,254.6 42.2,255.6 42.6,256.6 43.0,257.5 43.4,258.4 43.8,259.3 44.0,259.8 48.0,266.9 52.0,269.5 56.0,270.7 60.0,271.5 64.0,272.3 68.0,273.1 72.0,274.0 76.0,275.0 80.0,275.8 84.0,276.5 88.0,277.3 92.0,278.0 96.0,278.8 100.0,279.5 104.0,280.1 108.0,280.8 112.0,281.4 116.0,282.0 120.0,282.5 124.0,283.0 128.0,283.5 132.0,283.9 136.0,284.2 140.0,284.4 144.0,284.3 146.5,283.7 149.5,282.7 152.0,281.2 154.0,279.3 155.5,277.4 156.6,275.6 157.4,273.7 158.0,271.0 158.4,266.7 158.6,259.9 158.8,249.6 158.9,230.3 158.9,190.6"/>
<polyline stroke="#f0c46d" points="34.6,184.4 35.0,187.4 35.4,190.7 35.8,194.3 36.2,198.1 36.6,201.8 37.0,206.0 37.4,212.0 37.8,221.0 38.2,230.3 38.6,239.4 39.0,244.2 39.4,246.7 39.8,248.4 40.2,249.8 40.6,251.1 41.0,252.3 41.4,253.5 41.8,254.5 42.2,255.5 42.6,256.4 43.0,257.4 43.4,258.3 43.8,259.2 44.0,259.6 48.0,266.7 52.0,269.2 56.0,270.5 60.0,271.2 64.0,272.1 68.0,272.9 72.0,273.8 76.0,274.8 80.0,275.6 84.0,276.4 88.0,277.1 92.0,277.9 96.0,278.6 100.0,279.4 104.0,280.0 108.0,280.7 112.0,281.4 116.0,281.9 120.0,282.5 124.0,283.0 128.0,283.4 132.0,283.8 136.0,284.2 140.0,284.4 144.0,284.4 147.4,283.8 150.4,282.7 152.9,281.2 154.9,279.4 156.4,277.5 157.5,275.7 158.3,273.8 158.9,271.2 159.3,266.9 159.6,260.3 159.7,250.6 159.8,233.1 159.9,200.3 159.9,121.9"/>
<polyline stroke="#f2c26b" points="34.6,184.3 35.0,187.2 35.4,190.6 35.8,194.2 36.2,198.0 36.6,201.7 37.0,205.9 37.4,211.8 37.8,220.9 38.2,230.2 38.6,239.3 39.0,244.1 39.4,246.6 39.8,248.3 40.2,249.7 40.6,251.0 41.0,252.2 41.4,253.3 41.8,254.4 42.2,255.3 42.6,256.3 43.0,257.2 43.4,258.1 43.8,259.0 44.0,259.4 48.0,266.4 52.0,269.0 56.0,270.2 60.0,271.0 64.0,271.9 68.0,272.7 72.0,273.7 76.0,274.6 80.0,275.5 84.0,276.3 88.0,277.0 92.0,277.8 96.0,278.5 100.0,279.2 104.0,279.9 108.0,280.6 112.0,281.3 116.0,281.8 120.0,282.4 124.0,282.9 128.0,283.4 132.0,283.8 136.0,284.1 140.0,284.4 144.0,284.5 148.3,283.8 151.3,282.7 153.8,281.3 155.8,279.4 157.3,277.5 158.4,275.7 159.2,273.8 159.8,271.2 160.2,266.9 160.5,260.3 160.7,250.4 160.8,232.6 160.8,198.4 160.8,114.4"/>
<polyline stroke="#f4c06a" points="34.6,184.2 35.0,187.1 35.4,190.4 35.8,194.0 36.2,197.8 36.6,201.6 37.0,205.8 37.4,211.7 37.8,220.8 38.2,230.1 38.6,239.2 39.0,244.0 39.4,246.5 39.8,248.2 40.2,249.6 40.6,250.9 41.0,252.1 41.4,253.2 41.8,254.2 42.2,255.2 42.6,256.1 43.0,257.0 43.4,257.9 43.8,258.8 44.0,259.2 48.0,266.2 52.0,268.7 56.0,270.0 60.0,270.8 64.0,271.7 68.0,272.5 72.0,273.5 76.0,274.5 80.0,275.3 84.0,276.1 88.0,276.8 92.0,277.6 96.0,278.4 100.0,279.1 104.0,279.8 108.0,280.5 112.0,281.2 116.0,281.8 120.0,282.3 124.0,282.8 128.0,283.3 132.0,283.7 136.0,284.1 140.0,284.4 144.0,284.5 148.0,284.2 149.3,283.9 152.3,282.8 154.8,281.3 156.8,279.5 158.3,277.6 159.4,275.8 160.2,273.9 160.8,271.2 161.2,266.9 161.4,260.2 161.6,250.2 161.7,231.9 161.8,195.8"/>
<polyline stroke="#f6be68" points="34.6,184.0 35.0,187.0 35.4,190.3 35.8,193.9 36.2,197.7 36.6,201.4 37.0,205.7 37.4,211.6 37.8,220.7 38.2,230.0 38.6,239.0 39.0,243.9 39.4,246.4 39.8,248.1 40.2,249.5 40.6,250.8 41.0,252.0 41.4,253.1 41.8,254.1 42.2,255.0 42.6,256.0 43.0,256.9 43.4,257.8 43.8,258.6 44.0,259.1 48.0,265.9 52.0,268.5 56.0,269.8 60.0,270.6 64.0,271.5 68.0,272.4 72.0,273.3 76.0,274.3 80.0,275.2 84.0,276.0 88.0,276.7 92.0,277.5 96.0,278.3 100.0,279.0 104.0,279.7 108.0,280.4 112.0,281.1 116.0,281.7 120.0,282.2 124.0,282.8 128.0,283.2 132.0,283.7 136.0,284.1 140.0,284.4 144.0,284.6 148.0,284.4 150.2,283.9 153.2,282.8 155.7,281.4 157.7,279.5 159.2,277.6 160.3,275.8 161.1,273.9 161.7,271.3 162.1,266.9 162.4,260.1 162.5,249.9 162.6,230.9 162.7,192.2"/>
<polyline stroke="#f8bc67" points="34.6,183.9 35.0,186.8 35.4,190.2 35.8,193.8 36.2,197.6 36.6,201.3 37.0,205.5 37.4,211.5 37.8,220.6 38.2,229.9 38.6,238.9 39.0,243.8 39.4,246.3 39.8,248.0 40.2,249.4 40.6,250.7 41.0,251.9 41.4,253.0 41.8,254.0 42.2,254.9 42.6,255.8 43.0,256.7 43.4,257.6 43.8,258.5 44.0,258.9 48.0,265.7 52.0,268.2 56.0,269.5 60.0,270.4 64.0,271.3 68.0,272.2 72.0,273.1 76.0,274.1 80.0,275.0 84.0,275.8 88.0,276.6 92.0,277.4 96.0,278.2 100.0,278.9 104.0,279.6 108.0,280.3 112.0,281.0 116.0,281.6 120.0,282.2 124.0,282.7 128.0,283.2 132.0,283.6 136.0,284.1 140.0,284.4 144.0,284.7 148.0,284.6 151.2,283.9 154.2,282.9 156.7,281.4 158.7,279.6 160.2,277.7 161.3,275.9 162.1,274.0 162.7,271.4 163.1,267.1 163.3,260.5 163.5,250.7 163.6,233.0 163.6,199.2 163.7,117.1"/>
<polyline stroke="#faba65" points="34.6,183.8 35.0,186.7 35.4,190.0 35.8,193.7 36.2,197.4 36.6,201.2 37.0,205.4 37.4,211.3 37.8,220.4 38.2,229.8 38.6,238.8 39.0,243.7 39.4,246.2 39.8,247.9 40.2,249.3 40.6,250.6 41.0,251.7 41.4,252.8 41.8,253.8 42.2,254.8 42.6,255.7 43.0,256.6 43.4,257.5 43.8,258.3 44.0,258.7 48.0,265.5 52.0,268.0 56.0,269.3 60.0,270.1 64.0,271.1 68.0,272.0 72.0,272.9 76.0,274.0 80.0,274.9 84.0,275.7 88.0,276.4 92.0,277.3 96.0,278.1 100.0,278.8 104.0,279.5 108.0,280.2 112.0,280.9 116.0,281.5 120.0,282.1 124.0,282.6 128.0,283.1 132.0,283.6 136.0,284.0 140.0,284.4 144.0,284.7 148.0,284.7 152.1,284.0 155.1,282.9 157.6,281.5 159.6,279.6 161.1,277.7 162.2,275.9 163.0,274.0 163.6,271.4 164.0,267.1 164.2,260.3 164.4,250.2 164.5,231.6 164.6,194.5"/>
<polyline stroke="#fcb864" points="34.6,183.6 35.0,186.6 35.4,189.9 35.8,193.5 36.2,197.3 36.6,201.0 37.0,205.3 37.4,211.2 37.8,220.3 38.2,229.7 38.6,238.7 39.0,243.6 39.4,246.1 39.8,247.8 40.2,249.2 40.6,250.5 41.0,251.6 41.4,252.7 41.8,253.7 42.2,254.6 42.6,255.5 43.0,256.4 43.4,257.3 43.8,258.1 44.0,258.5 48.0,265.2 52.0,267.7 56.0,269.1 60.0,269.9 64.0,270.9 68.0,271.8 72.0,272.8 76.0,273.8 80.0,274.7 84.0,275.5 88.0,276.3 92.0,277.1 96.0,277.9 100.0,278.7 104.0,279.4 108.0,280.1 112.0,280.8 116.0,281.4 120.0,282.0 124.0,282.6 128.0,283.1 132.0,283.5 136.0,284.0 140.0,284.4 144.0,284.7 148.0,284.8 152.0,284.3 153.0,284.0 156.0,283.0 158.5,281.5 160.5,279.7 162.0,277.8 163.1,276.0 163.9,274.1 164.5,271.5 164.9,267.2 165.2,260.6 165.3,250.8 165.4,233.2 165.5,199.9 165.5,119.5"/>
<polyline stroke="#feb562" points="34.6,183.5 35.0,186.4 35.4,189.8 35.8,193.4 36.2,197.2 36.6,200.9 37.0,205.2 37.4,211.1 37.8,220.2 38.2,229.6 38.6,238.7 39.0,243.5 39.4,246.0 39.8,247.7 40.2,249.1 40.6,250.3 41.0,251.5 41.4,252.6 41.8,253.6 42.2,254.5 42.6,255.4 43.0,256.3 43.4,257.1 43.8,258.0 44.0,258.4 48.0,265.0 52.0,267.5 56.0,268.8 60.0,269.7 64.0,270.7 68.0,271.6 72.0,272.6 76.0,273.6 80.0,274.5 84.0,275.4 88.0,276.2 92.0,277.0 96.0,277.8 100.0,278.6 104.0,279.3 108.0,280.0 112.0,280.7 116.0,281.3 120.0,281.9 124.0,282.5 128.0,283.0 132.0,283.5 136.0,283.9 140.0,284.4 144.0,284.7 148.0,284.9 152.0,284.5 154.0,284.1 157.0,283.0 159.5,281.6 161.5,279.7 163.0,277.9 164.1,276.1 164.9,274.1 165.5,271.5 165.9,267.2 166.1,260.4 166.3,250.3 166.4,231.5 166.4,193.8"/>
<polyline stroke="#ffb361" points="34.6,183.4 35.0,186.3 35.4,189.6 35.8,193.3 36.2,197.1 36.6,200.8 37.0,205.1 37.4,211.0 37.8,220.1 38.2,229.5 38.6,238.6 39.0,243.4 39.4,245.9 39.8,247.6 40.2,249.0 40.6,250.2 41.0,251.4 41.4,252.5 41.8,253.4 42.2,254.3 42.6,255.2 43.0,256.1 43.4,257.0 43.8,257.8 44.0,258.2 48.0,264.7 52.0,267.3 56.0,268.6 60.0,269.5 64.0,270.5 68.0,271.4 72.0,272.4 76.0,273.5 80.0,274.4 84.0,275.2 88.0,276.0 92.0,276.9 96.0,277.7 100.0,278.5 104.0,279.2 108.0,279.9 112.0,280.6 116.0,281.3 120.0,281.9 124.0,282.4 128.0,282.9 132.0,283.4 136.0,283.9 140.0,284.4 144.0,284.7 148.0,284.9 152.0,284.7 154.9,284.1 157.9,283.1 160.4,281.6 162.4,279.8 163.9,277.9 165.0,276.1 165.8,274.2 166.4,271.6 166.8,267.3 167.1,260.6 167.2,250.7 167.3,232.7 167.4,197.9 167.4,111.3"/>
<polyline stroke="#ffb15f" points="34.6,183.2 35.0,186.2 35.4,189.5 35.8,193.1 36.2,196.9 36.6,200.7 37.0,204.9 37.4,210.9 37.8,220.0 38.2,229.4 38.6,238.5 39.0,243.3 39.4,245.8 39.8,247.5 40.2,248.9 40.6,250.1 41.0,251.3 41.4,252.3 41.8,253.3 42.2,254.2 42.6,255.1 43.0,256.0 43.4,256.8 43.8,257.6 44.0,258.0 48.0,264.5 52.0,267.0 56.0,268.4 60.0,269.3 64.0,270.3 68.0,271.2 72.0,272.2 76.0,273.3 80.0,274.2 84.0,275.1 88.0,275.9 92.0,276.8 96.0,277.6 100.0,278.4 104.0,279.1 108.0,279.8 112.0,280.6 116.0,281.2 120.0,281.8 124.0,282.3 128.0,282.9 132.0,283.4 136.0,283.9 140.0,284.3 144.0,284.8 148.0,285.0 152.0,284.8 155.8,284.2 158.8,283.1 161.3,281.7 163.3,279.8 164.8,278.0 165.9,276.2 166.7,274.3 167.3,271.7 167.7,267.4 168.0,260.8 168.1,251.1 168.2,233.7 168.3,201.1 168.3,123.6"/>
<polyline stroke="#ffaf5e" points="34.6,183.1 35.0,186.0 35.4,189.4 35.8,193.0 36.2,196.8 36.6,200.6 37.0,204.8 37.4,210.8 37.8,219.9 38.2,229.3 38.6,238.4 39.0,243.2 39.4,245.7 39.8,247.4 40.2,248.8 40.6,250.0 41.0,251.2 41.4,252.2 41.8,253.2 42.2,254.1 42.6,255.0 43.0,255.8 43.4,256.7 43.8,257.5 44.0,257.9 48.0,264.3 52.0,266.8 56.0,268.1 60.0,269.1 64.0,270.1 68.0,271.0 72.0,272.1 76.0,273.1 80.0,274.1 84.0,274.9 88.0,275.8 92.0,276.6 96.0,277.5 100.0,278.3 104.0,279.0 108.0,279.8 112.0,280.5 116.0,281.1 120.0,281.7 124.0,282.3 128.0,282.8 132.0,283.3 136.0,283.8 140.0,284.3 144.0,284.8 148.0,285.0 152.0,284.9 156.8,284.2 159.8,283.2 162.3,281.7 164.3,279.9 165.8,278.1 166.9,276.2 167.7,274.3 168.3,271.7 168.7,267.4 168.9,260.6 169.1,250.4 169.2,231.3 169.2,192.8"/>
<polyline stroke="#ffac5c" points="34.6,183.0 35.0,185.9 35.4,189.3 35.8,192.9 36.2,196.7 36.6,200.4 37.0,204.7 37.4,210.6 37.8,219.8 38.2,229.2 38.6,238.3 39.0,243.1 39.4,245.6 39.8,247.3 40.2,248.7 40.6,249.9 41.0,251.0 41.4,252.1 41.8,253.0 42.2,253.9 42.6,254.8 43.0,255.7 43.4,256.5 43.8,257.3 44.0,257.7 48.0,264.0 52.0,266.5 56.0,267.9 60.0,268.8 64.0,269.9 68.0,270.8 72.0,271.9 76.0,273.0 80.0,273.9 84.0,274.8 88.0,275.6 92.0,276.5 96.0,277.3 100.0,278.1 104.0,278.9 108.0,279.7 112.0,280.4 116.0,281.0 120.0,281.6 124.0,282.2 128.0,282.8 132.0,283.3 136.0,283.8 140.0,284.3 144.0,284.8 148.0,285.1 152.0,285.0 156.0,284.7 157.7,284.3 160.7,283.2 163.2,281.8 165.2,280.0 166.7,278.1 167.8,276.3 168.6,274.4 169.2,271.8 169.6,267.4 169.8,260.7 170.0,250.6 170.1,232.0 170.2,194.9"/>
<polyline stroke="#ffaa5b" points="34.6,182.8 35.0,185.8 35.4,189.1 35.8,192.8 36.2,196.6 36.6,200.3 37.0,204.6 37.4,210.5 37.8,219.6 38.2,229.1 38.6,238.2 39.0,243.0 39.4,245.5 39.8,247.2 40.2,248.6 40.6,249.8 41.0,250.9 41.4,252.0 41.8,252.9 42.2,253.8 42.6,254.7 43.0,255.5 43.4,256.3 43.8,257.1 44.0,257.5 48.0,263.8 52.0,266.3 56.0,267.7 60.0,268.6 64.0,269.7 68.0,270.7 72.0,271.7 76.0,272.8 80.0,273.8 84.0,274.7 88.0,275.5 92.0,276.4 96.0,277.2 100.0,278.0 104.0,278.8 108.0,279.6 112.0,280.3 116.0,280.9 120.0,281.6 124.0,282.1 128.0,282.7 132.0,283.2 136.0,283.7 140.0,284.2 144.0,284.7 148.0,285.1 152.0,285.1 156.0,284.9 158.6,284.3 161.6,283.3 164.1,281.9 166.1,280.0 167.6,278.2 168.7,276.4 169.5,274.5 170.1,271.9 170.5,267.5 170.8,260.8 170.9,250.8 171.0,232.4 171.1,196.1"/>
<polyline stroke="#ffa759" points="34.6,182.7 35.0,185.7 35.4,189.0 35.8,192.6 36.2,196.4 36.6,200.2 37.0,204.4 37.4,210.4 37.8,219.5 38.2,229.0 38.6,238.1 39.0,242.9 39.4,245.4 39.8,247.1 40.2,248.5 40.6,249.7 41.0,250.8 41.4,251.8 41.8,252.8 42.2,253.7 42.6,254.5 43.0,255.4 43.4,256.2 43.8,257.0 44.0,257.4 48.0,263.6 52.0,266.1 56.0,267.4 60.0,268.4 64.0,269.5 68.0,270.5 72.0,271.5 76.0,272.6 80.0,273.6 84.0,274.5 88.0,275.4 92.0,276.3 96.0,277.1 100.0,277.9 104.0,278.7 108.0,279.5 112.0,280.2 116.0,280.9 120.0,281.5 124.0,282.1 128.0,282.6 132.0,283.2 136.0,283.7 140.0,284.2 144.0,284.7 148.0,285.1 152.0,285.2 156.0,285.0 159.6,284.4 162.6,283.3 165.1,281.9 167.1,280.1 168.6,278.3 169.7,276.5 170.5,274.6 171.1,271.9 171.5,267.6 171.7,260.9 171.9,250.9 172.0,232.5 172.0,196.5"/>
<polyline stroke="#ffa558" points="34.6,182.6 35.0,185.5 35.4,188.9 35.8,192.5 36.2,196.3 36.6,200.1 37.0,204.3 37.4,210.3 37.8,219.4 38.2,228.9 38.6,238.0 39.0,242.9 39.4,245.3 39.8,247.0 40.2,248.4 40.6,249.6 41.0,250.7 41.4,251.7 41.8,252.7 42.2,253.5 42.6,254.4 43.0,255.2 43.4,256.0 43.8,256.8 44.0,257.2 48.0,263.3 52.0,265.8 56.0,267.2 60.0,268.2 64.0,269.3 68.0,270.3 72.0,271.4 76.0,272.5 80.0,273.5 84.0,274.4 88.0,275.2 92.0,276.1 96.0,277.0 100.0,277.8 104.0,278.6 108.0,279.4 112.0,280.1 116.0,280.8 120.0,281.4 124.0,282.0 128.0,282.6 132.0,283.1 136.0,283.7 140.0,284.2 144.0,284.7 148.0,285.1 152.0,285.2 156.0,285.1 160.5,284.4 163.5,283.4 166.0,282.0 168.0,280.2 169.5,278.3 170.6,276.5 171.4,274.6 172.0,272.0 172.4,267.7 172.6,261.0 172.8,250.9 172.9,232.5 172.9,196.2"/>
<polyline stroke="#ffa356" points="34.6,182.5 35.0,185.4 35.4,188.8 35.8,192.4 36.2,196.2 36.6,199.9 37.0,204.2 37.4,210.2 37.8,219.3 38.2,228.8 38.6,237.9 39.0,242.8 39.4,245.2 39.8,246.9 40.2,248.3 40.6,249.5 41.0,250.6 41.4,251.6 41.8,252.5 42.2,253.4 42.6,254.3 43.0,255.1 43.4,255.9 43.8,256.7 44.0,257.0 48.0,263.1 52.0,265.6 56.0,267.0 60.0,268.0 64.0,269.1 68.0,270.1 72.0,271.2 76.0,272.3 80.0,273.3 84.0,274.2 88.0,275.1 92.0,276.0 96.0,276.9 100.0,277.7 104.0,278.5 108.0,279.3 112.0,280.0 116.0,280.7 120.0,281.3 124.0,281.9 128.0,282.5 132.0,283.1 136.0,283.6 140.0,284.2 144.0,284.7 148.0,285.1 152.0,285.3 156.0,285.2 160.0,284.8 161.4,284.5 164.4,283.5 166.9,282.1 168.9,280.2 170.4,278.4 171.5,276.6 172.3,274.7 172.9,272.1 173.3,267.7 173.6,261.0 173.7,250.9 173.8,232.2 173.9,195.1"/>
<polyline stroke="#ffa055" points="34.6,182.3 35.0,185.3 35.4,188.6 35.8,192.3 36.2,196.1 36.6,199.8 37.0,204.1 37.4,210.1 37.8,219.2 38.2,228.7 38.6,237.8 39.0,242.7 39.4,245.1 39.8,246.8 40.2,248.2 40.6,249.4 41.0,250.5 41.4,251.5 41.8,252.4 42.2,253.3 42.6,254.1 43.0,254.9 43.4,255.7 43.8,256.5 44.0,256.9 48.0,262.9 52.0,265.3 56.0,266.8 60.0,267.8 64.0,268.9 68.0,269.9 72.0,271.0 76.0,272.1 80.0,273.2 84.0,274.1 88.0,275.0 92.0,275.9 96.0,276.8 100.0,277.6 104.0,278.4 108.0,279.2 112.0,279.9 116.0,280.6 120.0,281.3 124.0,281.9 128.0,282.4 132.0,283.0 136.0,283.6 140.0,284.1 144.0,284.7 148.0,285.1 152.0,285.3 156.0,285.3 160.0,285.0 162.3,284.6 165.3,283.5 167.8,282.1 169.8,280.3 171.3,278.5 172.4,276.7 173.2,274.8 173.8,272.1 174.2,267.8 174.5,261.0 174.7,250.8 174.8,231.7 174.8,193.2"/>
<polyline stroke="#ff9e53" points="34.6,182.2 35.0,185.2 35.4,188.5 35.8,192.1 36.2,195.9 36.6,199.7 37.0,204.0 37.4,209.9 37.8,219.1 38.2,228.6 38.6,237.7 39.0,242.6 39.4,245.0 39.8,246.7 40.2,248.1 40.6,249.3 41.0,250.4 41.4,251.4 41.8,252.3 42.2,253.2 42.6,254.0 43.0,254.8 43.4,255.6 43.8,256.3 44.0,256.7 48.0,262.6 52.0,265.1 56.0,266.5 60.0,267.6 64.0,268.7 68.0,269.7 72.0,270.8 76.0,272.0 80.0,273.0 84.0,273.9 88.0,274.8 92.0,275.8 96.0,276.7 100.0,277.5 104.0,278.3 108.0,279.1 112.0,279.9 116.0,280.5 120.0,281.2 124.0,281.8 128.0,282.4 132.0,283.0 136.0,283.5 140.0,284.1 144.0,284.7 148.0,285.1 152.0,285.3 156.0,285.4 160.0,285.2 163.3,284.6 166.3,283.6 168.8,282.2 170.8,280.4 172.3,278.5 173.4,276.8 174.2,274.9 174.8,272.3 175.2,268.0 175.4,261.4 175.6,251.7 175.7,234.2 175.7,201.5 175.8,123.8"/>
<polyline stroke="#ff9b52" points="34.6,182.1 35.0,185.0 35.4,188.4 35.8,192.0 36.2,195.8 36.6,199.6 37.0,203.9 37.4,209.8 37.8,219.0 38.2,228.4 38.6,237.6 39.0,242.5 39.4,244.9 39.8,246.6 40.2,248.0 40.6,249.2 41.0,250.3 41.4,251.3 41.8,252.2 42.2,253.0 42.6,253.8 43.0,254.6 43.4,255.4 43.8,256.2 44.0,256.5 48.0,262.4 52.0,264.9 56.0,266.3 60.0,267.4 64.0,268.5 68.0,269.6 72.0,270.7 76.0,271.8 80.0,272.8 84.0,273.8 88.0,274.7 92.0,275.6 96.0,276.5 100.0,277.4 104.0,278.2 108.0,279.0 112.0,279.8 116.0,280.5 120.0,281.1 124.0,281.7 128.0,282.3 132.0,282.9 136.0,283.5 140.0,284.1 144.0,284.7 148.0,285.2 152.0,285.4 156.0,285.4 160.0,285.3 164.2,284.7 167.2,283.7 169.7,282.3 171.7,280.4 173.2,278.6 174.3,276.8 175.1,275.0 175.7,272.3 176.1,268.1 176.3,261.4 176.5,251.4 176.6,233.3 176.7,198.4 176.7,111.2"/>
<polyline stroke="#ff9850" points="34.6,181.9 35.0,184.9 35.4,188.3 35.8,191.9 36.2,195.7 36.6,199.5 37.0,203.7 37.4,209.7 37.8,218.9 38.2,228.3 38.6,237.5 39.0,242.4 39.4,244.8 39.8,246.5 40.2,247.9 40.6,249.1 41.0,250.1 41.4,251.1 41.8,252.1 42.2,252.9 42.6,253.7 43.0,254.5 43.4,255.3 43.8,256.0 44.0,256.4 48.0,262.2 52.0,264.6 56.0,266.1 60.0,267.1 64.0,268.3 68.0,269.4 72.0,270.5 76.0,271.6 80.0,272.7 84.0,273.7 88.0,274.6 92.0,275.5 96.0,276.4 100.0,277.3 104.0,278.1 108.0,278.9 112.0,279.7 116.0,280.4 120.0,281.0 124.0,281.7 128.0,282.3 132.0,282.8 136.0,283.4 140.0,284.0 144.0,284.6 148.0,285.1 152.0,285.4 156.0,285.5 160.0,285.4 164.0,285.0 165.1,284.7 168.1,283.7 170.6,282.3 172.6,280.5 174.1,278.7 175.2,276.9 176.0,275.0 176.6,272.4 177.0,268.1 177.3,261.3 177.4,251.1 177.5,232.2 177.6,194.2"/>
<polyline stroke="#ff964f" points="34.6,181.8 35.0,184.8 35.4,188.1 35.8,191.8 36.2,195.6 36.6,199.3 37.0,203.6 37.4,209.6 37.8,218.8 38.2,228.2 38.6,237.4 39.0,242.3 39.4,244.7 39.8,246.4 40.2,247.8 40.6,249.0 41.0,250.0 41.4,251.0 41.8,251.9 42.2,252.8 42.6,253.6 43.0,254.4 43.4,255.1 43.8,255.8 44.0,256.2 48.0,262.0 52.0,264.4 56.0,265.8 60.0,266.9 64.0,268.1 68.0,269.2 72.0,270.3 76.0,271.5 80.0,272.5 84.0,273.5 88.0,274.5 92.0,275.4 96.0,276.3 100.0,277.2 104.0,278.0 108.0,278.8 112.0,279.6 116.0,280.3 120.0,281.0 124.0,281.6 128.0,282.2 132.0,282.8 136.0,283.4 140.0,284.0 144.0,284.6 148.0,285.1 152.0,285.4 156.0,285.5 160.0,285.5 164.0,285.2 166.1,284.8 169.1,283.8 171.6,282.4 173.6,280.6 175.1,278.8 176.2,277.0 176.9,275.2 177.6,272.6 177.9,268.3 178.2,261.6 178.3,251.8 178.4,234.0 178.5,200.2 178.6,118.2"/>
<polyline stroke="#ff934d" points="34.6,181.7 35.0,184.6 35.4,188.0 35.8,191.6 36.2,195.5 36.6,199.2 37.0,203.5 37.4,209.5 37.8,218.7 38.2,228.1 38.6,237.3 39.0,242.2 39.4,244.6 39.8,246.3 40.2,247.7 40.6,248.9 41.0,249.9 41.4,250.9 41.8,251.8 42.2,252.6 42.6,253.4 43.0,254.2 43.4,255.0 43.8,255.7 44.0,256.0 48.0,261.7 52.0,264.2 56.0,265.6 60.0,266.7 64.0,267.9 68.0,269.0 72.0,270.1 76.0,271.3 80.0,272.4 84.0,273.4 88.0,274.3 92.0,275.3 96.0,276.2 100.0,277.1 104.0,277.9 108.0,278.7 112.0,279.5 116.0,280.2 120.0,280.9 124.0,281.5 128.0,282.1 132.0,282.7 136.0,283.3 140.0,283.9 144.0,284.6 148.0,285.1 152.0,285.4 156.0,285.6 160.0,285.6 164.0,285.4 167.0,284.9 170.0,283.9 172.5,282.5 174.5,280.7 176.0,278.9 177.1,277.1 177.9,275.2 178.5,272.6 178.9,268.3 179.1,261.5 179.3,251.3 179.4,232.4 179.4,194.6"/>
<polyline stroke="#ff914c" points="34.6,181.6 35.0,184.5 35.4,187.9 35.8,191.5 36.2,195.3 36.6,199.1 37.0,203.4 37.4,209.4 37.8,218.6 38.2,228.0 38.6,237.2 39.0,242.1 39.4,244.5 39.8,246.2 40.2,247.6 40.6,248.8 41.0,249.8 41.4,250.8 41.8,251.7 42.2,252.5 42.6,253.3 43.0,254.1 43.4,254.8 43.8,255.5 44.0,255.9 48.0,261.5 52.0,263.9 56.0,265.4 60.0,266.5 64.0,267.7 68.0,268.8 72.0,270.0 76.0,271.2 80.0,272.2 84.0,273.2 88.0,274.2 92.0,275.2 96.0,276.1 100.0,277.0 104.0,277.8 108.0,278.6 112.0,279.4 116.0,280.1 120.0,280.8 124.0,281.5 128.0,282.1 132.0,282.7 136.0,283.3 140.0,283.9 144.0,284.6 148.0,285.1 152.0,285.4 156.0,285.6 160.0,285.6 164.0,285.5 167.9,284.9 170.9,284.0 173.4,282.6 175.4,280.8 176.9,279.0 178.0,277.2 178.8,275.4 179.4,272.8 179.8,268.5 180.1,261.8 180.2,251.9 180.3,233.8 180.4,199.1 180.4,113.2"/>
<polyline stroke="#ff8e4a" points="34.6,181.4 35.0,184.4 35.4,187.8 35.8,191.4 36.2,195.2 36.6,199.0 37.0,203.3 37.4,209.3 37.8,218.4 38.2,227.9 38.6,237.1 39.0,242.0 39.4,244.5 39.8,246.2 40.2,247.5 40.6,248.6 41.0,249.7 41.4,250.7 41.8,251.6 42.2,252.4 42.6,253.2 43.0,253.9 43.4,254.7 43.8,255.4 44.0,255.7 48.0,261.3 52.0,263.7 56.0,265.2 60.0,266.3 64.0,267.5 68.0,268.6 72.0,269.8 76.0,271.0 80.0,272.1 84.0,273.1 88.0,274.1 92.0,275.0 96.0,276.0 100.0,276.9 104.0,277.7 108.0,278.6 112.0,279.3 116.0,280.1 120.0,280.7 124.0,281.4 128.0,282.0 132.0,282.6 136.0,283.3 140.0,283.9 144.0,284.5 148.0,285.1 152.0,285.4 156.0,285.6 160.0,285.7 164.0,285.6 168.8,285.0 171.8,284.0 174.3,282.7 176.3,280.9 177.8,279.1 178.9,277.3 179.7,275.5 180.3,272.8 180.7,268.5 181.0,261.6 181.1,251.2 181.2,231.7 181.3,191.4"/>
<polyline stroke="#ff8b49" points="34.6,181.3 35.0,184.3 35.4,187.6 35.8,191.3 36.2,195.1 36.6,198.9 37.0,203.2 37.4,209.1 37.8,218.3 38.2,227.8 38.6,237.0 39.0,241.9 39.4,244.4 39.8,246.1 40.2,247.4 40.6,248.5 41.0,249.6 41.4,250.6 41.8,251.4 42.2,252.3 42.6,253.0 43.0,253.8 43.4,254.5 43.8,255.2 44.0,255.6 48.0,261.0 52.0,263.4 56.0,264.9 60.0,266.1 64.0,267.3 68.0,268.5 72.0,269.6 76.0,270.8 80.0,271.9 84.0,273.0 88.0,273.9 92.0,274.9 96.0,275.9 100.0,276.8 104.0,277.6 108.0,278.5 112.0,279.3 116.0,280.0 120.0,280.7 124.0,281.3 128.0,282.0 132.0,282.6 136.0,283.2 140.0,283.8 144.0,284.5 148.0,285.1 152.0,285.4 156.0,285.6 160.0,285.7 164.0,285.7 168.0,285.4 169.8,285.1 172.8,284.1 175.2,282.8 177.2,281.0 178.8,279.2 179.8,277.4 180.7,275.6 181.2,273.0 181.7,268.6 181.9,261.8 182.1,251.6 182.2,232.7 182.2,194.6"/>
<polyline stroke="#ff8947" points="34.6,181.2 35.0,184.2 35.4,187.5 35.8,191.2 36.2,195.0 36.6,198.7 37.0,203.0 37.4,209.0 37.8,218.2 38.2,227.7 38.6,236.9 39.0,241.8 39.4,244.3 39.8,246.0 40.2,247.3 40.6,248.4 41.0,249.5 41.4,250.5 41.8,251.3 42.2,252.1 42.6,252.9 43.0,253.7 43.4,254.4 43.8,255.1 44.0,255.4 48.0,260.8 52.0,263.2 56.0,264.7 60.0,265.9 64.0,267.1 68.0,268.3 72.0,269.5 76.0,270.7 80.0,271.8 84.0,272.8 88.0,273.8 92.0,274.8 96.0,275.8 100.0,276.7 104.0,277.5 108.0,278.4 112.0,279.2 116.0,279.9 120.0,280.6 124.0,281.3 128.0,281.9 132.0,282.5 136.0,283.2 140.0,283.8 144.0,284.5 148.0,285.1 152.0,285.4 156.0,285.6 160.0,285.8 164.0,285.8 168.0,285.6 170.7,285.2 173.7,284.2 176.2,282.9 178.2,281.1 179.7,279.3 180.8,277.6 181.6,275.7 182.2,273.1 182.6,268.8 182.8,262.0 183.0,251.9 183.1,233.4 183.1,196.8"/>
<polyline stroke="#ff8646" points="34.6,181.1 35.0,184.0 35.4,187.4 35.8,191.0 36.2,194.9 36.6,198.6 37.0,202.9 37.4,208.9 37.8,218.1 38.2,227.7 38.6,236.8 39.0,241.8 39.4,244.2 39.8,245.9 40.2,247.2 40.6,248.3 41.0,249.4 41.4,250.3 41.8,251.2 42.2,252.0 42.6,252.8 43.0,253.5 43.4,254.2 43.8,254.9 44.0,255.2 48.0,260.6 52.0,263.0 56.0,264.5 60.0,265.7 64.0,266.9 68.0,268.1 72.0,269.3 76.0,270.5 80.0,271.6 84.0,272.7 88.0,273.7 92.0,274.7 96.0,275.6 100.0,276.6 104.0,277.4 108.0,278.3 112.0,279.1 116.0,279.8 120.0,280.5 124.0,281.2 128.0,281.8 132.0,282.5 136.0,283.1 140.0,283.8 144.0,284.5 148.0,285.1 152.0,285.4 156.0,285.6 160.0,285.8 164.0,285.8 168.0,285.8 171.6,285.2 174.6,284.3 177.1,283.0 179.1,281.2 180.6,279.4 181.7,277.7 182.5,275.8 183.1,273.2 183.5,268.9 183.7,262.2 183.9,252.1 184.0,233.8 184.1,198.1 184.1,107.8"/>
<polyline stroke="#ff8344" points="34.6,180.9 35.0,183.9 35.4,187.3 35.8,190.9 36.2,194.7 36.6,198.5 37.0,202.8 37.4,208.8 37.8,218.0 38.2,227.6 38.6,236.8 39.0,241.7 39.4,244.1 39.8,245.8 40.2,247.1 40.6,248.2 41.0,249.3 41.4,250.2 41.8,251.1 42.2,251.9 42.6,252.6 43.0,253.4 43.4,254.1 43.8,254.8 44.0,255.1 48.0,260.4 52.0,262.7 56.0,264.3 60.0,265.5 64.0,266.7 68.0,267.9 72.0,269.1 76.0,270.4 80.0,271.5 84.0,272.6 88.0,273.6 92.0,274.6 96.0,275.5 100.0,276.5 104.0,277.3 108.0,278.2 112.0,279.0 116.0,279.7 120.0,280.4 124.0,281.1 128.0,281.8 132.0,282.4 136.0,283.1 140.0,283.7 144.0,284.4 148.0,285.1 152.0,285.4 156.0,285.6 160.0,285.8 164.0,285.9 168.0,285.9 172.5,285.3 175.5,284.4 178.0,283.1 180.0,281.3 181.5,279.6 182.6,277.8 183.4,275.9 184.0,273.3 184.4,269.0 184.7,262.3 184.8,252.3 184.9,234.0 185.0,198.5 185.0,109.4"/>
<polyline stroke="#ff8043" points="34.6,180.8 35.0,183.8 35.4,187.2 35.8,190.8 36.2,194.6 36.6,198.4 37.0,202.7 37.4,208.7 37.8,217.9 38.2,227.5 38.6,236.7 39.0,241.6 39.4,244.0 39.8,245.7 40.2,247.0 40.6,248.1 41.0,249.2 41.4,250.1 41.8,251.0 42.2,251.8 42.6,252.5 43.0,253.2 43.4,253.9 43.8,254.6 44.0,254.9 48.0,260.1 52.0,262.5 56.0,264.0 60.0,265.3 64.0,266.5 68.0,267.7 72.0,269.0 76.0,270.2 80.0,271.3 84.0,272.4 88.0,273.4 92.0,274.4 96.0,275.4 100.0,276.4 104.0,277.2 108.0,278.1 112.0,278.9 116.0,279.7 120.0,280.4 124.0,281.1 128.0,281.7 132.0,282.4 136.0,283.0 140.0,283.7 144.0,284.4 148.0,285.1 152.0,285.4 156.0,285.7 160.0,285.8 164.0,285.9 168.0,286.0 172.0,285.7 173.4,285.4 176.4,284.5 178.9,283.2 180.9,281.4 182.4,279.7 183.5,277.9 184.3,276.0 184.9,273.4 185.3,269.1 185.6,262.4 185.7,252.3 185.8,234.0 185.9,198.1 185.9,107.4"/>
<polyline stroke="#ff7e41" points="34.6,180.7 35.0,183.7 35.4,187.0 35.8,190.7 36.2,194.5 36.6,198.3 37.0,202.6 37.4,208.6 37.8,217.8 38.2,227.4 38.6,236.6 39.0,241.5 39.4,243.9 39.8,245.6 40.2,246.9 40.6,248.0 41.0,249.1 41.4,250.0 41.8,250.9 42.2,251.6 42.6,252.4 43.0,253.1 43.4,253.8 43.8,254.4 44.0,254.8 48.0,259.9 52.0,262.3 56.0,263.8 60.0,265.1 64.0,266.3 68.0,267.6 72.0,268.8 76.0,270.0 80.0,271.2 84.0,272.3 88.0,273.3 92.0,274.3 96.0,275.3 100.0,276.3 104.0,277.2 108.0,278.0 112.0,278.8 116.0,279.6 120.0,280.3 124.0,281.0 128.0,281.7 132.0,282.3 136.0,283.0 140.0,283.6 144.0,284.4 148.0,285.1 152.0,285.4 156.0,285.7 160.0,285.8 164.0,286.0 168.0,286.0 172.0,285.9 174.3,285.5 177.3,284.6 179.8,283.3 181.8,281.6 183.3,279.8 184.4,278.0 185.2,276.2 185.8,273.5 186.2,269.2 186.5,262.4 186.7,252.3 186.8,233.7 186.8,196.9"/>
<polyline stroke="#ff7b3f" points="34.6,180.6 35.0,183.5 35.4,186.9 35.8,190.6 36.2,194.4 36.6,198.2 37.0,202.5 37.4,208.5 37.8,217.7 38.2,227.3 38.6,236.5 39.0,241.4 39.4,243.8 39.8,245.5 40.2,246.8 40.6,247.9 41.0,249.0 41.4,249.9 41.8,250.7 42.2,251.5 42.6,252.3 43.0,253.0 43.4,253.6 43.8,254.3 44.0,254.6 48.0,259.7 52.0,262.0 56.0,263.6 60.0,264.9 64.0,266.1 68.0,267.4 72.0,268.6 76.0,269.9 80.0,271.1 84.0,272.1 88.0,273.2 92.0,274.2 96.0,275.2 100.0,276.2 104.0,277.1 108.0,277.9 112.0,278.8 116.0,279.5 120.0,280.2 124.0,280.9 128.0,281.6 132.0,282.3 136.0,282.9 140.0,283.6 144.0,284.4 148.0,285.0 152.0,285.4 156.0,285.7 160.0,285.9 164.0,286.0 168.0,286.1 172.0,286.0 175.3,285.6 178.3,284.7 180.8,283.4 182.8,281.7 184.3,279.9 185.4,278.1 186.2,276.3 186.8,273.6 187.2,269.3 187.4,262.4 187.6,252.2 187.7,233.1 187.7,194.7"/>
<polyline stroke="#ff783e" points="34.6,180.5 35.0,183.4 35.4,186.8 35.8,190.5 36.2,194.3 36.6,198.1 37.0,202.4 37.4,208.4 37.8,217.6 38.2,227.2 38.6,236.4 39.0,241.3 39.4,243.7 39.8,245.4 40.2,246.7 40.6,247.9 41.0,248.9 41.4,249.8 41.8,250.6 42.2,251.4 42.6,252.1 43.0,252.8 43.4,253.5 43.8,254.1 44.0,254.5 48.0,259.5 52.0,261.8 56.0,263.4 60.0,264.6 64.0,265.9 68.0,267.2 72.0,268.4 76.0,269.7 80.0,270.9 84.0,272.0 88.0,273.0 92.0,274.1 96.0,275.1 100.0,276.0 104.0,277.0 108.0,277.8 112.0,278.7 116.0,279.4 120.0,280.2 124.0,280.9 128.0,281.5 132.0,282.2 136.0,282.9 140.0,283.6 144.0,284.3 148.0,285.0 152.0,285.4 156.0,285.7 160.0,285.9 164.0,286.0 168.0,286.1 172.0,286.1 176.2,285.7 179.2,284.8 181.7,283.5 183.7,281.8 185.2,280.0 186.3,278.3 187.1,276.4 187.7,273.8 188.1,269.5 188.3,262.9 188.5,253.1 188.6,235.5 188.6,202.6 188.7,124.7"/>
<polyline stroke="#ff753c" points="34.6,180.3 35.0,183.3 35.4,186.7 35.8,190.3 36.2,194.2 36.6,197.9 37.0,202.2 37.4,208.3 37.8,217.5 38.2,227.1 38.6,236.3 39.0,241.2 39.4,243.7 39.8,245.3 40.2,246.6 40.6,247.8 41.0,248.8 41.4,249.7 41.8,250.5 42.2,251.3 42.6,252.0 43.0,252.7 43.4,253.4 43.8,254.0 44.0,254.3 48.0,259.2 52.0,261.6 56.0,263.2 60.0,264.4 64.0,265.8 68.0,267.0 72.0,268.3 76.0,269.6 80.0,270.8 84.0,271.9 88.0,272.9 92.0,274.0 96.0,275.0 100.0,275.9 104.0,276.9 108.0,277.8 112.0,278.6 116.0,279.4 120.0,280.1 124.0,280.8 128.0,281.5 132.0,282.2 136.0,282.8 140.0,283.5 144.0,284.3 148.0,285.0 152.0,285.4 156.0,285.7 160.0,285.9 164.0,286.0 168.0,286.2 172.0,286.2 176.0,286.0 177.1,285.8 180.1,284.9 182.6,283.6 184.6,281.9 186.1,280.1 187.2,278.4 188.0,276.5 188.6,273.9 189.0,269.6 189.2,262.8 189.4,252.8 189.5,234.5 189.6,199.1 189.6,110.4"/>
<polyline stroke="#ff723b" points="34.6,180.2 35.0,183.2 35.4,186.6 35.8,190.2 36.2,194.1 36.6,197.8 37.0,202.1 37.4,208.2 37.8,217.4 38.2,227.0 38.6,236.2 39.0,241.1 39.4,243.6 39.8,245.2 40.2,246.5 40.6,247.7 41.0,248.7 41.4,249.6 41.8,250.4 42.2,251.1 42.6,251.9 43.0,252.6 43.4,253.2 43.8,253.8 44.0,254.1 48.0,259.0 52.0,261.4 56.0,262.9 60.0,264.2 64.0,265.6 68.0,266.8 72.0,268.1 76.0,269.4 80.0,270.6 84.0,271.7 88.0,272.8 92.0,273.9 96.0,274.9 100.0,275.8 104.0,276.8 108.0,277.7 112.0,278.5 116.0,279.3 120.0,280.0 124.0,280.7 128.0,281.4 132.0,282.1 136.0,282.8 140.0,283.5 144.0,284.3 148.0,285.0 152.0,285.4 156.0,285.7 160.0,285.9 164.0,286.1 168.0,286.2 172.0,286.3 176.0,286.2 178.0,285.9 181.0,285.0 183.5,283.8 185.5,282.0 187.0,280.2 188.1,278.5 188.9,276.6 189.5,274.0 189.9,269.6 190.2,262.7 190.3,252.4 190.4,233.2 190.5,194.3"/>
<polyline stroke="#ff6f39" points="34.6,180.1 35.0,183.1 35.4,186.4 35.8,190.1 36.2,193.9 36.6,197.7 37.0,202.0 37.4,208.0 37.8,217.3 38.2,226.9 38.6,236.1 39.0,241.1 39.4,243.5 39.8,245.2 40.2,246.5 40.6,247.6 41.0,248.6 41.4,249.5 41.8,250.3 42.2,251.0 42.6,251.7 43.0,252.4 43.4,253.1 43.8,253.7 44.0,254.0 48.0,258.8 52.0,261.1 56.0,262.7 60.0,264.0 64.0,265.4 68.0,266.7 72.0,267.9 76.0,269.2 80.0,270.5 84.0,271.6 88.0,272.7 92.0,273.7 96.0,274.8 100.0,275.7 104.0,276.7 108.0,277.6 112.0,278.4 116.0,279.2 120.0,279.9 124.0,280.7 128.0,281.4 132.0,282.0 136.0,282.7 140.0,283.5 144.0,284.3 148.0,285.0 152.0,285.4 156.0,285.6 160.0,285.9 164.0,286.1 168.0,286.2 172.0,286.4 176.0,286.3 178.9,286.0 181.9,285.2 184.4,283.9 186.4,282.2 187.9,280.4 189.0,278.6 189.8,276.7 190.4,274.1 190.8,269.8 191.1,263.0 191.2,253.0 191.3,234.9 191.4,199.9 191.4,113.2"/>
<polyline stroke="#ff6d38" points="34.6,180.0 35.0,183.0 35.4,186.3 35.8,190.0 36.2,193.8 36.6,197.6 37.0,201.9 37.4,207.9 37.8,217.2 38.2,226.8 38.6,236.0 39.0,241.0 39.4,243.4 39.8,245.1 40.2,246.4 40.6,247.5 41.0,248.5 41.4,249.4 41.8,250.2 42.2,250.9 42.6,251.6 43.0,252.3 43.4,252.9 43.8,253.5 44.0,253.8 48.0,258.6 52.0,260.9 56.0,262.5 60.0,263.8 64.0,265.2 68.0,266.5 72.0,267.8 76.0,269.1 80.0,270.3 84.0,271.5 88.0,272.5 92.0,273.6 96.0,274.7 100.0,275.6 104.0,276.6 108.0,277.5 112.0,278.3 116.0,279.1 120.0,279.9 124.0,280.6 128.0,281.3 132.0,282.0 136.0,282.7 140.0,283.4 144.0,284.2 148.0,285.0 152.0,285.4 156.0,285.6 160.0,285.9 164.0,286.1 168.0,286.3 172.0,286.4 176.0,286.5 179.8,286.1 182.8,285.3 185.3,284.0 187.3,282.3 188.8,280.5 189.9,278.7 190.8,276.8 191.3,274.2 191.8,269.8 192.0,262.9 192.2,252.5 192.2,233.0 192.3,193.2"/>
<polyline stroke="#ff6a36" points="34.6,179.9 35.0,182.8 35.4,186.2 35.8,189.9 36.2,193.7 36.6,197.5 37.0,201.8 37.4,207.8 37.8,217.1 38.2,226.7 38.6,236.0 39.0,240.9 39.4,243.3 39.8,245.0 40.2,246.3 40.6,247.4 41.0,248.4 41.4,249.2 41.8,250.1 42.2,250.8 42.6,251.5 43.0,252.2 43.4,252.8 43.8,253.4 44.0,253.7 48.0,258.4 52.0,260.7 56.0,262.3 60.0,263.6 64.0,265.0 68.0,266.3 72.0,267.6 76.0,268.9 80.0,270.2 84.0,271.3 88.0,272.4 92.0,273.5 96.0,274.5 100.0,275.5 104.0,276.5 108.0,277.4 112.0,278.3 116.0,279.1 120.0,279.8 124.0,280.5 128.0,281.2 132.0,281.9 136.0,282.7 140.0,283.4 144.0,284.2 148.0,285.0 152.0,285.4 156.0,285.6 160.0,285.9 164.0,286.1 168.0,286.3 172.0,286.5 176.0,286.6 180.8,286.2 183.8,285.4 186.3,284.1 188.3,282.4 189.8,280.6 190.9,278.8 191.7,276.9 192.3,274.3 192.7,269.9 192.9,263.1 193.1,253.0 193.2,234.2 193.2,197.3"/>
<polyline stroke="#ff6734" points="34.6,179.8 35.0,182.7 35.4,186.1 35.8,189.8 36.2,193.6 36.6,197.4 37.0,201.7 37.4,207.7 37.8,217.0 38.2,226.6 38.6,235.9 39.0,240.8 39.4,243.2 39.8,244.9 40.2,246.2 40.6,247.3 41.0,248.3 41.4,249.1 41.8,249.9 42.2,250.7 42.6,251.4 43.0,252.0 43.4,252.6 43.8,253.2 44.0,253.5 48.0,258.1 52.0,260.4 56.0,262.0 60.0,263.4 64.0,264.8 68.0,266.1 72.0,267.4 76.0,268.8 80.0,270.0 84.0,271.2 88.0,272.3 92.0,273.4 96.0,274.4 100.0,275.4 104.0,276.4 108.0,277.3 112.0,278.2 116.0,279.0 120.0,279.7 124.0,280.5 128.0,281.2 132.0,281.9 136.0,282.6 140.0,283.3 144.0,284.2 148.0,284.9 152.0,285.4 156.0,285.6 160.0,285.9 164.0,286.1 168.0,286.3 172.0,286.5 176.0,286.6 180.0,286.6 181.7,286.4 184.7,285.5 187.2,284.2 189.2,282.5 190.7,280.7 191.8,278.9 192.6,277.0 193.2,274.4 193.6,270.1 193.8,263.3 194.0,253.3 194.1,235.1 194.1,200.1 194.2,113.3"/>
<polyline stroke="#ff6433" points="34.6,179.6 35.0,182.6 35.4,186.0 35.8,189.6 36.2,193.5 36.6,197.3 37.0,201.6 37.4,207.6 37.8,216.9 38.2,226.5 38.6,235.8 39.0,240.7 39.4,243.1 39.8,244.8 40.2,246.1 40.6,247.2 41.0,248.2 41.4,249.0 41.8,249.8 42.2,250.6 42.6,251.2 43.0,251.9 43.4,252.5 43.8,253.1 44.0,253.4 48.0,257.9 52.0,260.2 56.0,261.8 60.0,263.2 64.0,264.6 68.0,266.0 72.0,267.3 76.0,268.6 80.0,269.9 84.0,271.1 88.0,272.2 92.0,273.3 96.0,274.3 100.0,275.3 104.0,276.3 108.0,277.2 112.0,278.1 116.0,278.9 120.0,279.7 124.0,280.4 128.0,281.1 132.0,281.8 136.0,282.6 140.0,283.3 144.0,284.1 148.0,284.9 152.0,285.3 156.0,285.6 160.0,285.9 164.0,286.1 168.0,286.3 172.0,286.5 176.0,286.7 180.0,286.8 182.6,286.5 185.6,285.6 188.1,284.4 190.1,282.6 191.6,280.8 192.7,279.0 193.5,277.1 194.1,274.5 194.5,270.2 194.7,263.5 194.9,253.6 195.0,235.7 195.0,201.9 195.1,120.5"/>
<polyline stroke="#ff6131" points="34.6,179.5 35.0,182.5 35.4,185.9 35.8,189.5 36.2,193.4 36.6,197.2 37.0,201.5 37.4,207.5 37.8,216.8 38.2,226.4 38.6,235.7 39.0,240.6 39.4,243.1 39.8,244.7 40.2,246.0 40.6,247.1 41.0,248.0 41.4,248.9 41.8,249.7 42.2,250.4 42.6,251.1 43.0,251.8 43.4,252.4 43.8,253.0 44.0,253.2 48.0,257.7 52.0,260.0 56.0,261.6 60.0,263.0 64.0,264.4 68.0,265.8 72.0,267.1 76.0,268.5 80.0,269.7 84.0,270.9 88.0,272.0 92.0,273.2 96.0,274.2 100.0,275.2 104.0,276.2 108.0,277.1 112.0,278.0 116.0,278.8 120.0,279.6 124.0,280.3 128.0,281.1 132.0,281.8 136.0,282.5 140.0,283.3 144.0,284.1 148.0,284.9 152.0,285.3 156.0,285.6 160.0,285.9 164.0,286.1 168.0,286.3 172.0,286.5 176.0,286.8 180.0,286.9 183.5,286.6 186.5,285.8 189.0,284.5 191.0,282.7 192.5,280.9 193.6,279.1 194.4,277.2 195.0,274.6 195.4,270.3 195.6,263.6 195.8,253.7 195.9,236.1 195.9,202.9 196.0,124.1"/>
<polyline stroke="#ff5e30" points="34.6,179.4 35.0,182.4 35.4,185.8 35.8,189.4 36.2,193.3 36.6,197.1 37.0,201.4 37.4,207.4 37.8,216.7 38.2,226.3 38.6,235.6 39.0,240.6 39.4,243.0 39.8,244.6 40.2,245.9 40.6,247.0 41.0,248.0 41.4,248.8 41.8,249.6 42.2,250.3 42.6,251.0 43.0,251.6 43.4,252.2 43.8,252.8 44.0,253.1 48.0,257.5 52.0,259.7 56.0,261.4 60.0,262.8 64.0,264.2 68.0,265.6 72.0,266.9 76.0,268.3 80.0,269.6 84.0,270.8 88.0,271.9 92.0,273.0 96.0,274.1 100.0,275.1 104.0,276.1 108.0,277.1 112.0,277.9 116.0,278.7 120.0,279.5 124.0,280.3 128.0,281.0 132.0,281.7 136.0,282.5 140.0,283.2 144.0,284.1 148.0,284.9 152.0,285.3 156.0,285.6 160.0,285.8 164.0,286.1 168.0,286.3 172.0,286.6 176.0,286.8 180.0,287.0 184.4,286.7 187.4,285.9 189.9,284.6 191.9,282.8 193.4,281.0 194.5,279.2 195.3,277.3 195.9,274.7 196.3,270.4 196.6,263.7 196.7,253.8 196.8,236.2 196.9,203.1 196.9,124.5"/>
<polyline stroke="#ff5b2e" points="34.6,179.3 35.0,182.3 35.4,185.6 35.8,189.3 36.2,193.2 36.6,196.9 37.0,201.3 37.4,207.3 37.8,216.6 38.2,226.2 38.6,235.5 39.0,240.5 39.4,242.9 39.8,244.6 40.2,245.8 40.6,246.9 41.0,247.9 41.4,248.7 41.8,249.5 42.2,250.2 42.6,250.9 43.0,251.5 43.4,252.1 43.8,252.7 44.0,252.9 48.0,257.3 52.0,259.5 56.0,261.2 60.0,262.6 64.0,264.0 68.0,265.4 72.0,266.8 76.0,268.2 80.0,269.4 84.0,270.7 88.0,271.8 92.0,272.9 96.0,274.0 100.0,275.0 104.0,276.0 108.0,277.0 112.0,277.9 116.0,278.7 120.0,279.5 124.0,280.2 128.0,281.0 132.0,281.7 136.0,282.4 140.0,283.2 144.0,284.1 148.0,284.9 152.0,285.3 156.0,285.6 160.0,285.8 164.0,286.1 168.0,286.3 172.0,286.6 176.0,286.8 180.0,287.0 184.0,287.1 185.3,286.8 188.3,286.0 190.8,284.7 192.8,282.9 194.3,281.1 195.4,279.3 196.2,277.4 196.8,274.8 197.2,270.4 197.5,263.7 197.6,253.8 197.7,236.0 197.8,202.4 197.8,121.7"/>
<polyline stroke="#ff582d" points="34.6,179.2 35.0,182.1 35.4,185.5 35.8,189.2 36.2,193.0 36.6,196.8 37.0,201.2 37.4,207.2 37.8,216.5 38.2,226.1 38.6,235.4 39.0,240.4 39.4,242.8 39.8,244.5 40.2,245.7 40.6,246.8 41.0,247.8 41.4,248.6 41.8,249.4 42.2,250.1 42.6,250.7 43.0,251.4 43.4,252.0 43.8,252.5 44.0,252.8 48.0,257.0 52.0,259.3 56.0,261.0 60.0,262.4 64.0,263.9 68.0,265.2 72.0,266.6 76.0,268.0 80.0,269.3 84.0,270.5 88.0,271.7 92.0,272.8 96.0,273.9 100.0,274.9 104.0,275.9 108.0,276.9 112.0,277.8 116.0,278.6 120.0,279.4 124.0,280.2 128.0,280.9 132.0,281.6 136.0,282.4 140.0,283.1 144.0,284.0 148.0,284.9 152.0,285.3 156.0,285.6 160.0,285.8 164.0,286.1 168.0,286.3 172.0,286.6 176.0,286.9 180.0,287.1 184.0,287.2 186.2,287.0 189.2,286.1 191.7,284.8 193.7,283.0 195.2,281.2 196.3,279.4 197.1,277.5 197.7,274.8 198.1,270.5 198.4,263.7 198.5,253.7 198.6,235.6 198.7,200.8 198.7,115.3"/>
<polyline stroke="#ff552b" points="34.6,179.1 35.0,182.0 35.4,185.4 35.8,189.1 36.2,192.9 36.6,196.7 37.0,201.1 37.4,207.1 37.8,216.4 38.2,226.0 38.6,235.4 39.0,240.3 39.4,242.7 39.8,244.4 40.2,245.7 40.6,246.7 41.0,247.7 41.4,248.5 41.8,249.3 42.2,250.0 42.6,250.6 43.0,251.2 43.4,251.8 43.8,252.4 44.0,252.6 48.0,256.8 52.0,259.1 56.0,260.7 60.0,262.2 64.0,263.7 68.0,265.1 72.0,266.5 76.0,267.8 80.0,269.2 84.0,270.4 88.0,271.6 92.0,272.7 96.0,273.8 100.0,274.8 104.0,275.8 108.0,276.8 112.0,277.7 116.0,278.5 120.0,279.3 124.0,280.1 128.0,280.8 132.0,281.6 136.0,282.3 140.0,283.1 144.0,284.0 148.0,284.8 152.0,285.3 156.0,285.6 160.0,285.8 164.0,286.1 168.0,286.3 172.0,286.6 176.0,286.9 180.0,287.2 184.0,287.3 187.1,287.1 190.1,286.2 192.6,284.9 194.6,283.1 196.1,281.3 197.2,279.5 198.0,277.5 198.6,274.9 199.0,270.5 199.3,263.7 199.4,253.5 199.5,234.9 199.6,198.3"/>
<polyline stroke="#ff5229" points="34.6,178.9 35.0,181.9 35.4,185.3 35.8,189.0 36.2,192.8 36.6,196.6 37.0,200.9 37.4,207.0 37.8,216.3 38.2,226.0 38.6,235.3 39.0,240.2 39.4,242.6 39.8,244.3 40.2,245.6 40.6,246.6 41.0,247.6 41.4,248.4 41.8,249.2 42.2,249.9 42.6,250.5 43.0,251.1 43.4,251.7 43.8,252.2 44.0,252.5 48.0,256.6 52.0,258.8 56.0,260.5 60.0,262.0 64.0,263.5 68.0,264.9 72.0,266.3 76.0,267.7 80.0,269.0 84.0,270.3 88.0,271.4 92.0,272.6 96.0,273.7 100.0,274.7 104.0,275.8 108.0,276.7 112.0,277.6 116.0,278.5 120.0,279.2 124.0,280.0 128.0,280.8 132.0,281.5 136.0,282.3 140.0,283.1 144.0,284.0 148.0,284.8 152.0,285.3 156.0,285.6 160.0,285.8 164.0,286.1 168.0,286.3 172.0,286.6 176.0,286.9 180.0,287.2 184.0,287.4 188.0,287.2 191.0,286.3 193.5,285.0 195.5,283.2 197.0,281.4 198.1,279.5 198.9,277.6 199.5,274.9 199.9,270.5 200.2,263.6 200.3,253.2 200.4,233.9 200.5,194.5"/>
<polyline stroke="#ff4f28" points="34.6,178.8 35.0,181.8 35.4,185.2 35.8,188.9 36.2,192.7 36.6,196.5 37.0,200.8 37.4,206.9 37.8,216.2 38.2,225.9 38.6,235.2 39.0,240.1 39.4,242.6 39.8,244.2 40.2,245.5 40.6,246.5 41.0,247.5 41.4,248.3 41.8,249.1 42.2,249.7 42.6,250.4 43.0,251.0 43.4,251.5 43.8,252.1 44.0,252.3 48.0,256.4 52.0,258.6 56.0,260.3 60.0,261.8 64.0,263.3 68.0,264.7 72.0,266.1 76.0,267.5 80.0,268.9 84.0,270.1 88.0,271.3 92.0,272.5 96.0,273.6 100.0,274.6 104.0,275.7 108.0,276.6 112.0,277.5 116.0,278.4 120.0,279.2 124.0,280.0 128.0,280.7 132.0,281.5 136.0,282.2 140.0,283.0 144.0,284.0 148.0,284.8 152.0,285.3 156.0,285.6 160.0,285.8 164.0,286.0 168.0,286.3 172.0,286.6 176.0,286.9 180.0,287.2 184.0,287.5 188.9,287.3 191.9,286.4 194.4,285.1 196.4,283.3 197.9,281.4 199.0,279.6 199.8,277.7 200.4,275.0 200.8,270.7 201.1,263.9 201.2,253.9 201.3,235.8 201.4,201.3 201.4,116.6"/>
<polyline stroke="#ff4c26" points="34.6,178.7 35.0,181.7 35.4,185.1 35.8,188.8 36.2,192.6 36.6,196.4 37.0,200.7 37.4,206.8 37.8,216.1 38.2,225.8 38.6,235.1 39.0,240.1 39.4,242.5 39.8,244.1 40.2,245.4 40.6,246.4 41.0,247.4 41.4,248.2 41.8,248.9 42.2,249.6 42.6,250.3 43.0,250.8 43.4,251.4 43.8,251.9 44.0,252.2 48.0,256.2 52.0,258.4 56.0,260.1 60.0,261.6 64.0,263.1 68.0,264.5 72.0,266.0 76.0,267.4 80.0,268.7 84.0,270.0 88.0,271.2 92.0,272.4 96.0,273.5 100.0,274.5 104.0,275.6 108.0,276.5 112.0,277.5 116.0,278.3 120.0,279.1 124.0,279.9 128.0,280.7 132.0,281.4 136.0,282.2 140.0,283.0 144.0,283.9 148.0,284.8 152.0,285.3 156.0,285.6 160.0,285.8 164.0,286.0 168.0,286.3 172.0,286.6 176.0,286.9 180.0,287.2 184.0,287.5 188.0,287.6 189.8,287.4 192.8,286.5 195.3,285.2 197.3,283.4 198.8,281.5 199.9,279.7 200.8,277.7 201.3,275.1 201.8,270.6 202.0,263.8 202.2,253.4 202.2,234.3 202.3,195.8"/>
<polyline stroke="#ff4925" points="34.6,178.6 35.0,181.6 35.4,185.0 35.8,188.6 36.2,192.5 36.6,196.3 37.0,200.6 37.4,206.7 37.8,216.0 38.2,225.7 38.6,235.0 39.0,240.0 39.4,242.4 39.8,244.1 40.2,245.3 40.6,246.3 41.0,247.3 41.4,248.1 41.8,248.8 42.2,249.5 42.6,250.1 43.0,250.7 43.4,251.3 43.8,251.8 44.0,252.0 48.0,256.0 52.0,258.2 56.0,259.9 60.0,261.4 64.0,262.9 68.0,264.4 72.0,265.8 76.0,267.2 80.0,268.6 84.0,269.9 88.0,271.1 92.0,272.2 96.0,273.4 100.0,274.4 104.0,275.5 108.0,276.5 112.0,277.4 116.0,278.2 120.0,279.0 124.0,279.8 128.0,280.6 132.0,281.4 136.0,282.2 140.0,283.0 144.0,283.9 148.0,284.8 152.0,285.2 156.0,285.5 160.0,285.8 164.0,286.0 168.0,286.3 172.0,286.6 176.0,286.9 180.0,287.3 184.0,287.6 188.0,287.8 190.8,287.5 193.8,286.6 196.2,285.3 198.2,283.5 199.8,281.6 200.8,279.7 201.7,277.8 202.2,275.1 202.7,270.8 202.9,264.0 203.1,254.0 203.2,235.7 203.2,200.6 203.2,113.5"/>
<polyline stroke="#ff4623" points="34.6,178.5 35.0,181.5 35.4,184.9 35.8,188.5 36.2,192.4 36.6,196.2 37.0,200.5 37.4,206.6 37.8,215.9 38.2,225.6 38.6,235.0 39.0,239.9 39.4,242.3 39.8,244.0 40.2,245.2 40.6,246.2 41.0,247.2 41.4,248.0 41.8,248.7 42.2,249.4 42.6,250.0 43.0,250.6 43.4,251.1 43.8,251.6 44.0,251.9 48.0,255.7 52.0,257.9 56.0,259.7 60.0,261.2 64.0,262.7 68.0,264.2 72.0,265.6 76.0,267.1 80.0,268.4 84.0,269.7 88.0,270.9 92.0,272.1 96.0,273.3 100.0,274.3 104.0,275.4 108.0,276.4 112.0,277.3 116.0,278.2 120.0,279.0 124.0,279.8 128.0,280.6 132.0,281.3 136.0,282.1 140.0,282.9 144.0,283.9 148.0,284.8 152.0,285.2 156.0,285.5 160.0,285.8 164.0,286.0 168.0,286.3 172.0,286.6 176.0,286.9 180.0,287.3 184.0,287.6 188.0,287.8 191.7,287.6 194.7,286.7 197.2,285.4 199.2,283.5 200.7,281.6 201.8,279.8 202.6,277.8 203.2,275.2 203.6,270.7 203.8,263.8 204.0,253.3 204.1,233.5 204.1,192.9"/>
<polyline stroke="#ff4322" points="34.6,178.4 35.0,181.4 35.4,184.8 35.8,188.4 36.2,192.3 36.6,196.1 37.0,200.4 37.4,206.5 37.8,215.8 38.2,225.5 38.6,234.9 39.0,239.8 39.4,242.2 39.8,243.9 40.2,245.1 40.6,246.2 41.0,247.1 41.4,247.9 41.8,248.6 42.2,249.3 42.6,249.9 43.0,250.5 43.4,251.0 43.8,251.5 44.0,251.7 48.0,255.5 52.0,257.7 56.0,259.4 60.0,261.0 64.0,262.5 68.0,264.0 72.0,265.5 76.0,266.9 80.0,268.3 84.0,269.6 88.0,270.8 92.0,272.0 96.0,273.2 100.0,274.3 104.0,275.3 108.0,276.3 112.0,277.2 116.0,278.1 120.0,278.9 124.0,279.7 128.0,280.5 132.0,281.3 136.0,282.1 140.0,282.9 144.0,283.8 148.0,284.7 152.0,285.2 156.0,285.5 160.0,285.8 164.0,286.0 168.0,286.3 172.0,286.6 176.0,286.9 180.0,287.3 184.0,287.6 188.0,287.9 192.6,287.8 195.6,286.8 198.1,285.4 200.1,283.6 201.6,281.7 202.7,279.9 203.5,277.9 204.1,275.2 204.5,270.8 204.7,263.9 204.9,253.6 205.0,234.5 205.0,196.0"/>
<polyline stroke="#ff3f20" points="34.6,178.3 35.0,181.3 35.4,184.6 35.8,188.3 36.2,192.2 36.6,196.0 37.0,200.3 37.4,206.4 37.8,215.7 38.2,225.4 38.6,234.8 39.0,239.7 39.4,242.2 39.8,243.8 40.2,245.0 40.6,246.1 41.0,247.0 41.4,247.8 41.8,248.5 42.2,249.2 42.6,249.8 43.0,250.3 43.4,250.9 43.8,251.4 44.0,251.6 48.0,255.3 52.0,257.5 56.0,259.2 60.0,260.8 64.0,262.4 68.0,263.9 72.0,265.3 76.0,266.8 80.0,268.2 84.0,269.5 88.0,270.7 92.0,271.9 96.0,273.1 100.0,274.2 104.0,275.2 108.0,276.2 112.0,277.2 116.0,278.0 120.0,278.8 124.0,279.7 128.0,280.4 132.0,281.2 136.0,282.0 140.0,282.8 144.0,283.8 148.0,284.7 152.0,285.2 156.0,285.5 160.0,285.8 164.0,286.0 168.0,286.2 172.0,286.5 176.0,286.9 180.0,287.3 184.0,287.7 188.0,288.0 192.0,288.1 193.5,287.9 196.5,286.9 199.0,285.5 201.0,283.6 202.5,281.8 203.6,279.9 204.4,278.0 205.0,275.3 205.4,270.9 205.6,264.1 205.8,253.9 205.9,235.0 205.9,197.9"/>
<polyline stroke="#ff3c1e" points="34.6,178.2 35.0,181.1 35.4,184.5 35.8,188.2 36.2,192.1 36.6,195.9 37.0,200.2 37.4,206.3 37.8,215.6 38.2,225.3 38.6,234.7 39.0,239.7 39.4,242.1 39.8,243.7 40.2,245.0 40.6,246.0 41.0,246.9 41.4,247.7 41.8,248.4 42.2,249.1 42.6,249.7 43.0,250.2 43.4,250.7 43.8,251.2 44.0,251.5 48.0,255.1 52.0,257.3 56.0,259.0 60.0,260.6 64.0,262.2 68.0,263.7 72.0,265.1 76.0,266.6 80.0,268.0 84.0,269.3 88.0,270.6 92.0,271.8 96.0,272.9 100.0,274.1 104.0,275.1 108.0,276.1 112.0,277.1 116.0,277.9 120.0,278.8 124.0,279.6 128.0,280.4 132.0,281.2 136.0,282.0 140.0,282.8 144.0,283.8 148.0,284.7 152.0,285.2 156.0,285.5 160.0,285.7 164.0,286.0 168.0,286.2 172.0,286.5 176.0,286.9 180.0,287.3 184.0,287.7 188.0,288.0 192.0,288.2 194.4,287.9 197.4,287.0 199.9,285.6 201.9,283.7 203.4,281.8 204.5,280.0 205.3,278.0 205.9,275.4 206.3,271.0 206.5,264.2 206.7,254.0 206.8,235.3 206.8,198.8"/>
<polyline stroke="#ff391d" points="34.6,178.1 35.0,181.0 35.4,184.4 35.8,188.1 36.2,192.0 36.6,195.8 37.0,200.1 37.4,206.2 37.8,215.5 38.2,225.2 38.6,234.6 39.0,239.6 39.4,242.0 39.8,243.6 40.2,244.9 40.6,245.9 41.0,246.8 41.4,247.6 41.8,248.3 42.2,248.9 42.6,249.5 43.0,250.1 43.4,250.6 43.8,251.1 44.0,251.3 48.0,254.9 52.0,257.0 56.0,258.8 60.0,260.4 64.0,262.0 68.0,263.5 72.0,265.0 76.0,266.5 80.0,267.9 84.0,269.2 88.0,270.5 92.0,271.7 96.0,272.8 100.0,274.0 104.0,275.0 108.0,276.0 112.0,277.0 116.0,277.9 120.0,278.7 124.0,279.5 128.0,280.3 132.0,281.1 136.0,281.9 140.0,282.8 144.0,283.8 148.0,284.7 152.0,285.2 156.0,285.5 160.0,285.7 164.0,286.0 168.0,286.2 172.0,286.5 176.0,286.9 180.0,287.3 184.0,287.7 188.0,288.0 192.0,288.2 195.3,288.0 198.3,287.1 200.8,285.6 202.8,283.8 204.3,281.9 205.4,280.0 206.2,278.1 206.8,275.4 207.2,271.0 207.4,264.2 207.6,254.0 207.7,235.4 207.7,198.6"/>
<polyline stroke="#ff361b" points="34.6,177.9 35.0,180.9 35.4,184.3 35.8,188.0 36.2,191.9 36.6,195.7 37.0,200.0 37.4,206.1 37.8,215.5 38.2,225.2 38.6,234.5 39.0,239.5 39.4,241.9 39.8,243.6 40.2,244.8 40.6,245.8 41.0,246.7 41.4,247.5 41.8,248.2 42.2,248.8 42.6,249.4 43.0,250.0 43.4,250.5 43.8,250.9 44.0,251.2 48.0,254.7 52.0,256.8 56.0,258.6 60.0,260.2 64.0,261.8 68.0,263.3 72.0,264.8 76.0,266.3 80.0,267.7 84.0,269.1 88.0,270.3 92.0,271.6 96.0,272.7 100.0,273.9 104.0,274.9 108.0,276.0 112.0,276.9 116.0,277.8 120.0,278.6 124.0,279.5 128.0,280.3 132.0,281.1 136.0,281.9 140.0,282.7 144.0,283.7 148.0,284.7 152.0,285.2 156.0,285.5 160.0,285.7 164.0,286.0 168.0,286.2 172.0,286.5 176.0,286.9 180.0,287.3 184.0,287.7 188.0,288.0 192.0,288.3 196.2,288.1 199.2,287.1 201.7,285.7 203.7,283.8 205.2,281.9 206.3,280.1 207.1,278.2 207.7,275.5 208.1,271.1 208.3,264.3 208.5,254.0 208.6,235.1 208.6,197.5"/>
<polyline stroke="#ff331a" points="34.6,177.8 35.0,180.8 35.4,184.2 35.8,187.9 36.2,191.8 36.6,195.6 37.0,199.9 37.4,206.0 37.8,215.4 38.2,225.1 38.6,234.5 39.0,239.4 39.4,241.8 39.8,243.5 40.2,244.7 40.6,245.7 41.0,246.6 41.4,247.4 41.8,248.1 42.2,248.7 42.6,249.3 43.0,249.8 43.4,250.3 43.8,250.8 44.0,251.0 48.0,254.5 52.0,256.6 56.0,258.4 60.0,260.0 64.0,261.6 68.0,263.2 72.0,264.7 76.0,266.2 80.0,267.6 84.0,268.9 88.0,270.2 92.0,271.5 96.0,272.6 100.0,273.8 104.0,274.8 108.0,275.9 112.0,276.8 116.0,277.7 120.0,278.6 124.0,279.4 128.0,280.2 132.0,281.0 136.0,281.8 140.0,282.7 144.0,283.7 148.0,284.6 152.0,285.1 156.0,285.5 160.0,285.7 164.0,285.9 168.0,286.2 172.0,286.5 176.0,286.9 180.0,287.2 184.0,287.7 188.0,288.0 192.0,288.3 196.0,288.5 197.1,288.2 200.1,287.2 202.6,285.8 204.6,283.9 206.1,282.0 207.2,280.2 208.0,278.2 208.6,275.6 209.0,271.2 209.2,264.3 209.4,253.9 209.5,234.5 209.5,195.3"/>
<polyline stroke="#ff3018" points="34.6,177.7 35.0,180.7 35.4,184.1 35.8,187.8 36.2,191.7 36.6,195.5 37.0,199.8 37.4,205.9 37.8,215.3 38.2,225.0 38.6,234.4 39.0,239.3 39.4,241.8 39.8,243.4 40.2,244.6 40.6,245.6 41.0,246.5 41.4,247.3 41.8,248.0 42.2,248.6 42.6,249.2 43.0,249.7 43.4,250.2 43.8,250.7 44.0,250.9 48.0,254.3 52.0,256.4 56.0,258.1 60.0,259.8 64.0,261.4 68.0,263.0 72.0,264.5 76.0,266.0 80.0,267.5 84.0,268.8 88.0,270.1 92.0,271.3 96.0,272.5 100.0,273.7 104.0,274.8 108.0,275.8 112.0,276.8 116.0,277.6 120.0,278.5 124.0,279.3 128.0,280.2 132.0,281.0 136.0,281.8 140.0,282.7 144.0,283.7 148.0,284.6 152.0,285.1 156.0,285.4 160.0,285.7 164.0,285.9 168.0,286.2 172.0,286.5 176.0,286.8 180.0,287.2 184.0,287.7 188.0,288.1 192.0,288.4 196.0,288.5 197.9,288.3 200.9,287.3 203.4,285.8 205.4,284.0 206.9,282.1 208.1,280.3 208.8,278.4 209.4,275.8 209.8,271.5 210.1,264.8 210.2,254.9 210.3,237.2 210.4,203.8 210.4,122.7"/>
<polyline stroke="#ff2d16" points="34.6,177.6 35.0,180.6 35.4,184.0 35.8,187.7 36.2,191.6 36.6,195.4 37.0,199.7 37.4,205.8 37.8,215.2 38.2,224.9 38.6,234.3 39.0,239.3 39.4,241.7 39.8,243.3 40.2,244.5 40.6,245.5 41.0,246.4 41.4,247.2 41.8,247.9 42.2,248.5 42.6,249.1 43.0,249.6 43.4,250.1 43.8,250.5 44.0,250.7 48.0,254.0 52.0,256.1 56.0,257.9 60.0,259.6 64.0,261.2 68.0,262.8 72.0,264.3 76.0,265.9 80.0,267.3 84.0,268.7 88.0,270.0 92.0,271.2 96.0,272.4 100.0,273.6 104.0,274.7 108.0,275.7 112.0,276.7 116.0,277.6 120.0,278.4 124.0,279.3 128.0,280.1 132.0,280.9 136.0,281.8 140.0,282.6 144.0,283.6 148.0,284.6 152.0,285.1 156.0,285.4 160.0,285.7 164.0,285.9 168.0,286.2 172.0,286.5 176.0,286.8 180.0,287.2 184.0,287.6 188.0,288.0 192.0,288.4 196.0,288.6 198.8,288.4 201.8,287.3 204.3,285.9 206.3,284.1 207.8,282.2 208.9,280.4 209.8,278.5 210.3,275.9 210.8,270.4 211.0,263.6 211.2,253.5 211.2,235.0 211.3,198.8 211.3,106.8"/>
<polyline stroke="#ff2915" points="34.6,177.5 35.0,180.5 35.4,183.9 35.8,187.6 36.2,191.5 36.6,195.3 37.0,199.6 37.4,205.7 37.8,215.1 38.2,224.8 38.6,234.2 39.0,239.2 39.4,241.6 39.8,243.2 40.2,244.5 40.6,245.4 41.0,246.3 41.4,247.1 41.8,247.8 42.2,248.4 42.6,249.0 43.0,249.5 43.4,249.9 43.8,250.4 44.0,250.6 48.0,253.8 52.0,255.9 56.0,257.7 60.0,259.4 64.0,261.1 68.0,262.7 72.0,264.2 76.0,265.7 80.0,267.2 84.0,268.6 88.0,269.9 92.0,271.1 96.0,272.3 100.0,273.5 104.0,274.6 108.0,275.6 112.0,276.6 116.0,277.5 120.0,278.4 124.0,279.2 128.0,280.0 132.0,280.9 136.0,281.7 140.0,282.6 144.0,283.6 148.0,284.6 152.0,285.1 156.0,285.4 160.0,285.7 164.0,285.9 168.0,286.2 172.0,286.5 176.0,286.8 180.0,287.2 184.0,287.6 188.0,288.0 192.0,288.4 196.0,288.6 199.8,288.4 202.8,287.4 205.2,286.0 207.2,284.1 208.8,282.3 209.8,280.5 210.7,277.4 211.2,274.8 211.7,270.4 211.9,263.5 212.1,253.1 212.2,233.5 212.2,193.4"/>
<polyline stroke="#ff2613" points="34.6,177.4 35.0,180.4 35.4,183.8 35.8,187.5 36.2,191.4 36.6,195.2 37.0,199.5 37.4,205.6 37.8,215.0 38.2,224.7 38.6,234.1 39.0,239.1 39.4,241.5 39.8,243.2 40.2,244.4 40.6,245.4 41.0,246.2 41.4,247.0 41.8,247.7 42.2,248.3 42.6,248.8 43.0,249.4 43.4,249.8 43.8,250.3 44.0,250.5 48.0,253.6 52.0,255.7 56.0,257.5 60.0,259.2 64.0,260.9 68.0,262.5 72.0,264.0 76.0,265.6 80.0,267.0 84.0,268.4 88.0,269.7 92.0,271.0 96.0,272.2 100.0,273.4 104.0,274.5 108.0,275.5 112.0,276.5 116.0,277.4 120.0,278.3 124.0,279.2 128.0,280.0 132.0,280.8 136.0,281.7 140.0,282.5 144.0,283.6 148.0,284.6 152.0,285.1 156.0,285.4 160.0,285.7 164.0,285.9 168.0,286.1 172.0,286.4 176.0,286.8 180.0,287.2 184.0,287.6 188.0,288.0 192.0,288.4 196.0,288.7 200.6,288.5 203.6,287.5 206.1,286.0 208.1,284.2 209.6,282.4 210.7,279.5 211.5,277.6 212.1,274.9 212.5,270.6 212.8,263.8 212.9,253.7 213.0,235.1 213.1,198.7"/>
<polyline stroke="#ff2312" points="34.6,177.3 35.0,180.3 35.4,183.7 35.8,187.4 36.2,191.3 36.6,195.1 37.0,199.4 37.4,205.5 37.8,214.9 38.2,224.6 38.6,234.1 39.0,239.0 39.4,241.4 39.8,243.1 40.2,244.3 40.6,245.3 41.0,246.1 41.4,246.9 41.8,247.6 42.2,248.2 42.6,248.7 43.0,249.2 43.4,249.7 43.8,250.1 44.0,250.3 48.0,253.4 52.0,255.5 56.0,257.3 60.0,259.0 64.0,260.7 68.0,262.3 72.0,263.9 76.0,265.4 80.0,266.9 84.0,268.3 88.0,269.6 92.0,270.9 96.0,272.1 100.0,273.3 104.0,274.4 108.0,275.5 112.0,276.5 116.0,277.4 120.0,278.2 124.0,279.1 128.0,279.9 132.0,280.8 136.0,281.6 140.0,282.5 144.0,283.6 148.0,284.6 152.0,285.1 156.0,285.4 160.0,285.7 164.0,285.9 168.0,286.1 172.0,286.4 176.0,286.8 180.0,287.2 184.0,287.6 188.0,288.0 192.0,288.4 196.0,288.7 200.0,288.8 201.5,288.6 204.5,287.5 207.0,286.1 209.0,284.3 210.5,281.3 211.6,279.6 212.4,277.7 213.0,275.1 213.4,270.8 213.7,264.1 213.8,254.2 213.9,236.3 214.0,202.5 214.0,121.2"/>
<polyline stroke="#ff2010" points="34.6,177.2 35.0,180.2 35.4,183.6 35.8,187.3 36.2,191.2 36.6,195.0 37.0,199.3 37.4,205.4 37.8,214.8 38.2,224.6 38.6,234.0 39.0,239.0 39.4,241.4 39.8,243.0 40.2,244.2 40.6,245.2 41.0,246.0 41.4,246.8 41.8,247.5 42.2,248.1 42.6,248.6 43.0,249.1 43.4,249.6 43.8,250.0 44.0,250.2 48.0,253.2 52.0,255.3 56.0,257.1 60.0,258.8 64.0,260.5 68.0,262.1 72.0,263.7 76.0,265.3 80.0,266.8 84.0,268.2 88.0,269.5 92.0,270.8 96.0,272.0 100.0,273.2 104.0,274.3 108.0,275.4 112.0,276.4 116.0,277.3 120.0,278.2 124.0,279.0 128.0,279.9 132.0,280.7 136.0,281.6 140.0,282.5 144.0,283.5 148.0,284.5 152.0,285.1 156.0,285.4 160.0,285.6 164.0,285.9 168.0,286.1 172.0,286.4 176.0,286.8 180.0,287.1 184.0,287.6 188.0,288.0 192.0,288.4 196.0,288.7 200.0,288.8 202.4,288.6 205.4,287.6 207.9,286.2 209.9,284.4 211.4,281.4 212.5,279.7 213.3,277.8 213.9,275.1 214.3,270.7 214.6,263.9 214.7,253.5 214.8,234.0 214.9,194.3"/>
<polyline stroke="#ff1d0e" points="34.6,177.1 35.0,180.1 35.4,183.5 35.8,187.2 36.2,191.1 36.6,194.9 37.0,199.2 37.4,205.3 37.8,214.7 38.2,224.5 38.6,233.9 39.0,238.9 39.4,241.3 39.8,242.9 40.2,244.1 40.6,245.1 41.0,246.0 41.4,246.7 41.8,247.4 42.2,248.0 42.6,248.5 43.0,249.0 43.4,249.4 43.8,249.8 44.0,250.0 48.0,253.0 52.0,255.0 56.0,256.9 60.0,258.6 64.0,260.3 68.0,262.0 72.0,263.5 76.0,265.1 80.0,266.6 84.0,268.0 88.0,269.4 92.0,270.7 96.0,271.9 100.0,273.1 104.0,274.2 108.0,275.3 112.0,276.3 116.0,277.2 120.0,278.1 124.0,279.0 128.0,279.8 132.0,280.7 136.0,281.5 140.0,282.4 144.0,283.5 148.0,284.5 152.0,285.0 156.0,285.4 160.0,285.6 164.0,285.8 168.0,286.1 172.0,286.4 176.0,286.7 180.0,287.1 184.0,287.5 188.0,288.0 192.0,288.3 196.0,288.7 200.0,288.9 203.3,288.7 206.3,287.7 208.8,286.3 210.8,283.3 212.3,281.6 213.4,279.8 214.2,277.9 214.8,275.3 215.2,270.9 215.5,264.0 215.6,253.8 215.7,234.7 215.8,196.4"/>
<polyline stroke="#ff1a0d" points="34.6,177.0 35.0,180.0 35.4,183.4 35.8,187.1 36.2,191.0 36.6,194.8 37.0,199.1 37.4,205.2 37.8,214.6 38.2,224.4 38.6,233.8 39.0,238.8 39.4,241.2 39.8,242.9 40.2,244.1 40.6,245.0 41.0,245.9 41.4,246.6 41.8,247.3 42.2,247.9 42.6,248.4 43.0,248.9 43.4,249.3 43.8,249.7 44.0,249.9 48.0,252.8 52.0,254.8 56.0,256.7 60.0,258.4 64.0,260.1 68.0,261.8 72.0,263.4 76.0,265.0 80.0,266.5 84.0,267.9 88.0,269.3 92.0,270.6 96.0,271.8 100.0,273.0 104.0,274.1 108.0,275.2 112.0,276.2 116.0,277.1 120.0,278.0 124.0,278.9 128.0,279.8 132.0,280.6 136.0,281.5 140.0,282.4 144.0,283.5 148.0,284.5 152.0,285.0 156.0,285.4 160.0,285.6 164.0,285.8 168.0,286.1 172.0,286.4 176.0,286.7 180.0,287.1 184.0,287.5 188.0,287.9 192.0,288.3 196.0,288.6 200.0,288.9 204.2,288.7 207.2,287.7 209.7,286.4 211.7,283.5 213.2,281.7 214.3,279.9 215.1,278.0 215.7,275.4 216.1,271.0 216.4,264.2 216.5,253.9 216.6,235.0 216.7,197.3"/>
<polyline stroke="#ff160b" points="34.6,176.9 35.0,179.9 35.4,183.3 35.8,187.0 36.2,190.9 36.6,194.7 37.0,199.0 37.4,205.1 37.8,214.6 38.2,224.3 38.6,233.8 39.0,238.7 39.4,241.1 39.8,242.8 40.2,244.0 40.6,244.9 41.0,245.8 41.4,246.5 41.8,247.2 42.2,247.8 42.6,248.3 43.0,248.7 43.4,249.2 43.8,249.6 44.0,249.8 48.0,252.6 52.0,254.6 56.0,256.4 60.0,258.2 64.0,260.0 68.0,261.6 72.0,263.2 76.0,264.8 80.0,266.3 84.0,267.8 88.0,269.2 92.0,270.5 96.0,271.7 100.0,272.9 104.0,274.0 108.0,275.1 112.0,276.1 116.0,277.1 120.0,278.0 124.0,278.9 128.0,279.7 132.0,280.6 136.0,281.5 140.0,282.4 144.0,283.5 148.0,284.5 152.0,285.0 156.0,285.3 160.0,285.6 164.0,285.8 168.0,286.1 172.0,286.4 176.0,286.7 180.0,287.1 184.0,287.5 188.0,287.9 192.0,288.3 196.0,288.6 200.0,288.9 204.0,289.0 205.1,288.8 208.1,287.8 210.6,285.3 212.6,283.6 214.1,281.8 215.2,280.0 216.0,278.1 216.6,275.5 217.0,271.1 217.2,264.3 217.4,254.0 217.5,235.0 217.6,197.2"/>
<polyline stroke="#ff130a" points="34.6,176.8 35.0,179.8 35.4,183.2 35.8,186.9 36.2,190.8 36.6,194.6 37.0,198.9 37.4,205.0 37.8,214.5 38.2,224.2 38.6,233.7 39.0,238.7 39.4,241.1 39.8,242.7 40.2,243.9 40.6,244.8 41.0,245.7 41.4,246.4 41.8,247.1 42.2,247.6 42.6,248.2 43.0,248.6 43.4,249.0 43.8,249.4 44.0,249.6 48.0,252.4 52.0,254.4 56.0,256.2 60.0,258.0 64.0,259.8 68.0,261.5 72.0,263.1 76.0,264.7 80.0,266.2 84.0,267.7 88.0,269.0 92.0,270.3 96.0,271.6 100.0,272.8 104.0,274.0 108.0,275.0 112.0,276.1 116.0,277.0 120.0,277.9 124.0,278.8 128.0,279.7 132.0,280.5 136.0,281.4 140.0,282.3 144.0,283.4 148.0,284.5 152.0,285.0 156.0,285.3 160.0,285.6 164.0,285.8 168.0,286.0 172.0,286.3 176.0,286.7 180.0,287.1 184.0,287.5 188.0,287.9 192.0,288.3 196.0,288.6 200.0,288.8 204.0,289.0 206.0,288.9 209.0,287.9 211.5,285.4 213.5,283.7 215.0,281.9 216.1,280.1 216.9,278.3 217.5,275.6 217.9,271.2 218.1,264.4 218.3,254.0 218.4,234.7 218.4,195.9"/>
<polyline stroke="#ff1008" points="34.6,176.7 35.0,179.7 35.4,183.1 35.8,186.8 36.2,190.7 36.6,194.5 37.0,198.9 37.4,205.0 37.8,214.4 38.2,224.2 38.6,233.6 39.0,238.6 39.4,241.0 39.8,242.6 40.2,243.8 40.6,244.8 41.0,245.6 41.4,246.3 41.8,247.0 42.2,247.5 42.6,248.0 43.0,248.5 43.4,248.9 43.8,249.3 44.0,249.5 48.0,252.1 52.0,254.2 56.0,256.0 60.0,257.8 64.0,259.6 68.0,261.3 72.0,262.9 76.0,264.5 80.0,266.1 84.0,267.5 88.0,268.9 92.0,270.2 96.0,271.5 100.0,272.7 104.0,273.9 108.0,275.0 112.0,276.0 116.0,276.9 120.0,277.8 124.0,278.7 128.0,279.6 132.0,280.5 136.0,281.4 140.0,282.3 144.0,283.4 148.0,284.4 152.0,285.0 156.0,285.3 160.0,285.6 164.0,285.8 168.0,286.0 172.0,286.3 176.0,286.7 180.0,287.0 184.0,287.4 188.0,287.8 192.0,288.2 196.0,288.6 200.0,288.8 204.0,289.0 206.9,288.9 209.9,288.0 212.4,285.5 214.4,283.8 215.9,282.0 217.0,280.3 217.8,278.4 218.4,275.7 218.8,271.3 219.0,264.4 219.2,253.9 219.3,234.1 219.3,193.3"/>
<polyline stroke="#ff0d06" points="34.6,176.6 35.0,179.6 35.4,183.0 35.8,186.7 36.2,190.6 36.6,194.4 37.0,198.8 37.4,204.9 37.8,214.3 38.2,224.1 38.6,233.5 39.0,238.5 39.4,240.9 39.8,242.5 40.2,243.7 40.6,244.7 41.0,245.5 41.4,246.2 41.8,246.9 42.2,247.4 42.6,247.9 43.0,248.4 43.4,248.8 43.8,249.2 44.0,249.3 48.0,251.9 52.0,253.9 56.0,255.8 60.0,257.6 64.0,259.4 68.0,261.1 72.0,262.7 76.0,264.4 80.0,265.9 84.0,267.4 88.0,268.8 92.0,270.1 96.0,271.4 100.0,272.6 104.0,273.8 108.0,274.9 112.0,275.9 116.0,276.9 120.0,277.8 124.0,278.7 128.0,279.6 132.0,280.4 136.0,281.3 140.0,282.3 144.0,283.4 148.0,284.4 152.0,285.0 156.0,285.3 160.0,285.6 164.0,285.8 168.0,286.0 172.0,286.3 176.0,286.6 180.0,287.0 184.0,287.4 188.0,287.8 192.0,288.2 196.0,288.5 200.0,288.8 204.0,289.0 207.8,289.0 210.8,286.9 213.3,285.7 215.3,283.9 216.8,282.2 217.9,280.4 218.7,278.5 219.3,275.9 219.7,271.5 219.9,264.8 220.1,254.8 220.2,236.5 220.2,201.5 220.3,114.9"/>
<polyline stroke="#ff0a05" points="34.6,176.5 35.0,179.5 35.4,182.9 35.8,186.6 36.2,190.5 36.6,194.3 37.0,198.7 37.4,204.8 37.8,214.2 38.2,224.0 38.6,233.5 39.0,238.4 39.4,240.8 39.8,242.5 40.2,243.7 40.6,244.6 41.0,245.4 41.4,246.1 41.8,246.8 42.2,247.3 42.6,247.8 43.0,248.3 43.4,248.7 43.8,249.0 44.0,249.2 48.0,251.7 52.0,253.7 56.0,255.6 60.0,257.4 64.0,259.2 68.0,261.0 72.0,262.6 76.0,264.2 80.0,265.8 84.0,267.3 88.0,268.7 92.0,270.0 96.0,271.3 100.0,272.5 104.0,273.7 108.0,274.8 112.0,275.8 116.0,276.8 120.0,277.7 124.0,278.6 128.0,279.5 132.0,280.4 136.0,281.3 140.0,282.2 144.0,283.3 148.0,284.4 152.0,285.0 156.0,285.3 160.0,285.5 164.0,285.8 168.0,286.0 172.0,286.3 176.0,286.6 180.0,287.0 184.0,287.4 188.0,287.8 192.0,288.1 196.0,288.5 200.0,288.8 204.0,288.9 208.7,289.1 211.7,287.1 214.2,285.8 216.2,284.0 217.7,282.3 218.8,280.5 219.6,278.6 220.2,276.0 220.6,271.6 220.8,264.7 220.9,254.4 221.1,235.3 221.1,197.1"/>
<polyline stroke="#ff0603" points="34.6,176.4 35.0,179.4 35.4,182.8 35.8,186.5 36.2,190.4 36.6,194.2 37.0,198.6 37.4,204.7 37.8,214.1 38.2,223.9 38.6,233.4 39.0,238.4 39.4,240.8 39.8,242.4 40.2,243.6 40.6,244.5 41.0,245.3 41.4,246.0 41.8,246.7 42.2,247.2 42.6,247.7 43.0,248.2 43.4,248.5 43.8,248.9 44.0,249.1 48.0,251.5 52.0,253.5 56.0,255.4 60.0,257.2 64.0,259.1 68.0,260.8 72.0,262.4 76.0,264.1 80.0,265.6 84.0,267.2 88.0,268.6 92.0,269.9 96.0,271.2 100.0,272.4 104.0,273.6 108.0,274.7 112.0,275.8 116.0,276.7 120.0,277.6 124.0,278.6 128.0,279.4 132.0,280.3 136.0,281.2 140.0,282.2 144.0,283.3 148.0,284.4 152.0,284.9 156.0,285.3 160.0,285.5 164.0,285.7 168.0,286.0 172.0,286.3 176.0,286.6 180.0,287.0 184.0,287.3 188.0,287.7 192.0,288.1 196.0,288.4 200.0,288.7 204.0,288.9 208.0,289.1 209.5,289.2 212.5,287.2 215.0,285.9 217.0,284.2 218.5,282.4 219.6,280.6 220.4,278.8 221.0,276.1 221.4,271.8 221.7,265.1 221.8,255.1 221.9,237.0 222.0,202.7 222.0,119.1"/>
<polyline stroke="#ff0302" points="34.6,176.3 35.0,179.3 35.4,182.7 35.8,186.4 36.2,190.3 36.6,194.1 37.0,198.5 37.4,204.6 37.8,214.0 38.2,223.8 38.6,233.3 39.0,238.3 39.4,240.7 39.8,242.3 40.2,243.5 40.6,244.4 41.0,245.2 41.4,246.0 41.8,246.6 42.2,247.1 42.6,247.6 43.0,248.0 43.4,248.4 43.8,248.8 44.0,248.9 48.0,251.3 52.0,253.3 56.0,255.2 60.0,257.0 64.0,258.9 68.0,260.6 72.0,262.3 76.0,263.9 80.0,265.5 84.0,267.0 88.0,268.4 92.0,269.8 96.0,271.1 100.0,272.3 104.0,273.5 108.0,274.6 112.0,275.7 116.0,276.6 120.0,277.6 124.0,278.5 128.0,279.4 132.0,280.3 136.0,281.2 140.0,282.1 144.0,283.3 148.0,284.4 152.0,284.9 156.0,285.3 160.0,285.5 164.0,285.7 168.0,286.0 172.0,286.3 176.0,286.6 180.0,286.9 184.0,287.3 188.0,287.7 192.0,288.1 196.0,288.4 200.0,288.7 204.0,288.8 208.0,288.9 210.4,289.3 213.4,287.3 215.9,286.0 217.9,284.3 219.4,282.5 220.5,280.8 221.3,278.9 221.9,276.2 222.3,271.8 222.6,264.9 222.7,254.6 222.8,235.2 222.9,196.1"/>
<polyline stroke="#ff0000" points="34.6,176.2 35.0,179.2 35.4,182.6 35.8,186.3 36.2,190.2 36.6,194.0 37.0,198.4 37.4,204.5 37.8,213.9 38.2,223.7 38.6,233.2 39.0,238.2 39.4,240.6 39.8,242.2 40.2,243.4 40.6,244.3 41.0,245.2 41.4,245.9 41.8,246.5 42.2,247.0 42.6,247.5 43.0,247.9 43.4,248.3 43.8,248.6 44.0,248.8 48.0,251.1 52.0,253.1 56.0,255.0 60.0,256.9 64.0,258.7 68.0,260.4 72.0,262.1 76.0,263.8 80.0,265.4 84.0,266.9 88.0,268.3 92.0,269.7 96.0,271.0 100.0,272.2 104.0,273.4 108.0,274.6 112.0,275.6 116.0,276.6 120.0,277.5 124.0,278.4 128.0,279.3 132.0,280.2 136.0,281.2 140.0,282.1 144.0,283.3 148.0,284.4 152.0,284.9 156.0,285.3 160.0,285.5 164.0,285.7 168.0,285.9 172.0,286.2 176.0,286.6 180.0,286.9 184.0,287.3 188.0,287.7 192.0,288.0 196.0,288.3 200.0,288.6 204.0,288.8 208.0,288.7 211.3,288.3 214.3,287.4 216.8,286.1 218.8,284.4 220.3,282.6 221.4,280.9 222.2,279.0 222.8,276.4 223.2,272.0 223.4,265.2 223.6,255.0 223.7,236.3 223.8,199.7 223.8,106.3"/>
</g></g>
<g clip-path="url(#cm)" fill="none" stroke-width="1.2">
<polyline stroke="#0000ff" points="305.7,387.0 306.7,387.1 307.7,387.1 308.8,387.2 309.8,387.2 310.8,387.3 311.8,387.3 312.9,387.3 313.9,387.2 314.9,387.2 315.9,387.1 317.0,387.0 318.0,386.9 319.0,386.8 320.0,386.7 321.1,386.5 322.1,386.4 323.1,386.2 324.1,386.0 325.1,385.8 326.2,385.5 327.2,385.3 328.2,385.0 329.2,384.7 330.3,384.4 331.3,384.1 332.3,383.7 333.3,383.3 334.4,382.9 335.4,382.5 336.4,382.1 337.4,381.6 338.5,381.2 339.5,380.7 340.5,380.2 341.5,379.6 342.5,379.1 343.6,378.5 344.6,377.9 345.6,377.3 346.6,376.7 347.7,376.0 348.7,375.3 349.7,374.6 350.7,373.9 351.8,373.1 352.8,372.4 353.8,371.6 354.8,370.8 355.9,369.9 356.9,369.1 357.9,368.2 358.9,367.3 359.9,366.4 361.0,365.4 362.0,364.5 363.0,363.5 364.0,362.4 365.1,361.4 366.1,360.3 367.1,359.2 368.1,358.1 369.2,357.0 370.2,355.8 371.2,354.6 372.2,353.4 373.3,352.2 374.3,350.9 375.3,349.6 376.3,348.3 377.3,347.0 378.4,345.7 379.4,344.3 380.4,342.9 381.4,341.5 382.5,340.1 383.5,338.6 384.5,337.2 385.5,335.7 386.6,334.2 387.6,332.6 388.6,331.1 389.6,329.6 390.7,328.0 391.7,326.4 392.7,324.8 393.7,323.2 394.7,321.6 395.8,319.9 396.8,318.3 397.8,316.6 398.8,314.9 399.9,313.2 400.9,311.5 401.9,309.8 402.9,308.1 404.0,306.3 405.0,304.6 406.0,302.8 407.0,301.1 408.0,299.3 409.1,297.5 410.1,295.7 411.1,293.9 412.1,292.1 413.2,290.3 414.2,288.5 415.2,286.7 416.2,284.9 417.3,283.1 418.3,281.3 419.3,279.4 420.3,277.6 421.4,275.8 422.4,273.9 423.4,272.1 424.4,270.3 425.4,268.4 426.5,266.6 427.5,264.8 428.5,262.9 429.5,261.1 430.6,259.3 431.6,257.5 432.6,255.6 433.6,253.8 434.7,252.0 435.7,250.2 436.7,248.4 437.7,246.6 438.8,244.8 439.8,243.0 440.8,241.2 441.8,239.4 442.8,237.6 443.9,235.8 444.9,234.0 445.9,232.2 446.9,230.4 448.0,228.6 449.0,226.9 450.0,225.1 451.0,223.3 452.1,221.5 453.1,219.8 454.1,218.0 455.1,216.2 456.2,214.5 457.2,212.7 458.2,210.9 459.2,209.2 460.2,207.4 461.3,205.7 462.3,203.9 463.3,202.2 464.3,200.4 465.4,198.7 466.4,196.9 467.4,195.2 468.4,193.4 469.5,191.7 470.5,189.9 471.5,188.2 472.5,186.5 473.6,184.7 474.6,183.0 475.6,181.3 476.6,179.5 477.6,177.8 478.7,176.1 479.7,174.4 480.7,172.6 481.7,170.9 482.8,169.2 483.8,167.5 484.8,165.7 485.8,164.0 486.9,162.3 487.9,160.6 488.9,158.9 489.9,157.1 491.0,155.4 492.0,153.7 493.0,152.0 494.0,150.3 495.0,148.6 496.1,146.9 497.1,145.1 498.1,143.4 499.1,141.7 500.2,140.0 501.2,138.3 502.2,136.6 503.2,134.9 504.3,133.2 505.3,131.5 506.3,129.8 507.3,128.1 508.4,126.4 509.4,124.7 510.4,122.9"/>
<polyline stroke="#008000" stroke-dasharray="6.95 6.95" points="305.7,387.3 306.7,387.3 307.7,387.3 308.8,387.3 309.8,387.2 310.8,387.0 311.8,386.8 312.9,386.5 313.9,386.1 314.9,385.7 315.9,385.2 317.0,384.6 318.0,384.0 319.0,383.4 320.0,382.6 321.1,381.9 322.1,381.0 323.1,380.1 324.1,379.1 325.1,378.1 326.2,377.0 327.2,375.8 328.2,374.6 329.2,373.3 330.3,372.0 331.3,370.6 332.3,369.1 333.3,367.6 334.4,366.0 335.4,364.3 336.4,362.6 337.4,360.8 338.5,359.0 339.5,357.1 340.5,355.1 341.5,353.0 342.5,350.9 343.6,348.7 344.6,346.5 345.6,344.2 346.6,341.8 347.7,339.3 348.7,336.8 349.7,334.3 350.7,331.7 351.8,329.0 352.8,326.3 353.8,323.6 354.8,320.8 355.9,318.0 356.9,315.2 357.9,312.4 358.9,309.5 359.9,306.6 361.0,303.7 362.0,300.8 363.0,297.9 364.0,295.0 365.1,292.1 366.1,289.1 367.1,286.2 368.1,283.3 369.2,280.3 370.2,277.4 371.2,274.5 372.2,271.5 373.3,268.6 374.3,265.7 375.3,262.8 376.3,259.8 377.3,256.9 378.4,254.0 379.4,251.1 380.4,248.2 381.4,245.3 382.5,242.4 383.5,239.5 384.5,236.6 385.5,233.7 386.6,230.8 387.6,227.9 388.6,225.0 389.6,222.1 390.7,219.2 391.7,216.3 392.7,213.5 393.7,210.6 394.7,207.7 395.8,204.9 396.8,202.1 397.8,199.2 398.8,196.4 399.9,193.6 400.9,190.8 401.9,188.0 402.9,185.3 404.0,182.5 405.0,179.8 406.0,177.0 407.0,174.3 408.0,171.6 409.1,168.9 410.1,166.3 411.1,163.6 412.1,161.0 413.2,158.4 414.2,155.8 415.2,153.2 416.2,150.6 417.3,148.1 418.3,145.6 419.3,143.0 420.3,140.5 421.4,138.1 422.4,135.6 423.4,133.1 424.4,130.7 425.4,128.2 426.5,125.8 427.5,123.4 428.5,121.0 429.5,118.6 430.6,116.3 431.6,113.9 432.6,111.6 433.6,109.2 434.7,106.9 435.7,104.6 436.7,102.3 437.7,100.0 438.8,97.7 439.8,95.5 440.8,93.2 441.8,91.0 442.8,88.8 443.9,86.5 444.9,84.3 445.9,82.2 446.9,80.0 448.0,77.8 449.0,75.7 450.0,73.5 451.0,71.4 452.1,69.3 453.1,67.2 454.1,65.1 455.1,63.0 456.2,61.0 457.2,59.0 458.2,56.9 459.2,54.9 460.2,52.9 461.3,51.0 462.3,49.0 463.3,47.1 464.3,45.2 465.4,43.3 466.4,41.4 467.4,39.5 468.4,37.7 469.5,35.9 470.5,34.2 471.5,32.4 472.5,30.8 473.6,29.2 474.6,27.6 475.6,26.2 476.6,24.8"/>
</g>
<rect x="581.3" y="18.6" width="34.5" height="414.9" fill="url(#gc)" stroke="#000" stroke-width="1.1"/>
<g stroke="#000" fill="none">
<rect x="30.1" y="18.8" width="204.5" height="414.5" stroke-width="1.3"/>
<rect x="305.7" y="18.8" width="204.7" height="414.5" stroke-width="1.3"/>
<path stroke-width="0.8" d="M30.10,433.3v-4.4M30.10,18.8v4.4M55.66,433.3v-4.4M55.66,18.8v4.4M81.22,433.3v-4.4M81.22,18.8v4.4M106.79,433.3v-4.4M106.79,18.8v4.4M132.35,433.3v-4.4M132.35,18.8v4.4M157.91,433.3v-4.4M157.91,18.8v4.4M183.47,433.3v-4.4M183.47,18.8v4.4M209.04,433.3v-4.4M209.04,18.8v4.4M234.60,433.3v-4.4M234.60,18.8v4.4M30.1,433.30h4.4M234.6,433.30h-4.4M30.1,402.11h2.2M234.6,402.11h-2.2M30.1,383.86h2.2M234.6,383.86h-2.2M30.1,370.91h2.2M234.6,370.91h-2.2M30.1,360.87h2.2M234.6,360.87h-2.2M30.1,352.66h2.2M234.6,352.66h-2.2M30.1,345.73h2.2M234.6,345.73h-2.2M30.1,339.72h2.2M234.6,339.72h-2.2M30.1,334.42h2.2M234.6,334.42h-2.2M30.1,329.68h4.4M234.6,329.68h-4.4M30.1,298.48h2.2M234.6,298.48h-2.2M30.1,280.23h2.2M234.6,280.23h-2.2M30.1,267.29h2.2M234.6,267.29h-2.2M30.1,257.24h2.2M234.6,257.24h-2.2M30.1,249.04h2.2M234.6,249.04h-2.2M30.1,242.10h2.2M234.6,242.10h-2.2M30.1,236.09h2.2M234.6,236.09h-2.2M30.1,230.79h2.2M234.6,230.79h-2.2M30.1,226.05h4.4M234.6,226.05h-4.4M30.1,194.86h2.2M234.6,194.86h-2.2M30.1,176.61h2.2M234.6,176.61h-2.2M30.1,163.66h2.2M234.6,163.66h-2.2M30.1,153.62h2.2M234.6,153.62h-2.2M30.1,145.41h2.2M234.6,145.41h-2.2M30.1,138.48h2.2M234.6,138.48h-2.2M30.1,132.47h2.2M234.6,132.47h-2.2M30.1,127.17h2.2M234.6,127.17h-2.2M30.1,122.43h4.4M234.6,122.43h-4.4M30.1,91.23h2.2M234.6,91.23h-2.2M30.1,72.98h2.2M234.6,72.98h-2.2M30.1,60.04h2.2M234.6,60.04h-2.2M30.1,49.99h2.2M234.6,49.99h-2.2M30.1,41.79h2.2M234.6,41.79h-2.2M30.1,34.85h2.2M234.6,34.85h-2.2M30.1,28.84h2.2M234.6,28.84h-2.2M30.1,23.54h2.2M234.6,23.54h-2.2M30.1,18.80h4.4M234.6,18.80h-4.4M305.70,433.3v-4.4M305.70,18.8v4.4M346.64,433.3v-4.4M346.64,18.8v4.4M387.58,433.3v-4.4M387.58,18.8v4.4M428.52,433.3v-4.4M428.52,18.8v4.4M469.46,433.3v-4.4M469.46,18.8v4.4M510.40,433.3v-4.4M510.40,18.8v4.4M305.7,433.30h4.4M510.4,433.30h-4.4M305.7,387.24h4.4M510.4,387.24h-4.4M305.7,341.19h4.4M510.4,341.19h-4.4M305.7,295.13h4.4M510.4,295.13h-4.4M305.7,249.08h4.4M510.4,249.08h-4.4M305.7,203.02h4.4M510.4,203.02h-4.4M305.7,156.97h4.4M510.4,156.97h-4.4M305.7,110.91h4.4M510.4,110.91h-4.4M305.7,64.86h4.4M510.4,64.86h-4.4M305.7,18.80h4.4M510.4,18.80h-4.4M615.8,433.50h-4.4M615.8,392.01h-4.4M615.8,350.52h-4.4M615.8,309.03h-4.4M615.8,267.54h-4.4M615.8,226.05h-4.4M615.8,184.56h-4.4M615.8,143.07h-4.4M615.8,101.58h-4.4M615.8,60.09h-4.4"/>
</g>
<g fill="#000">
<text x="131.95" y="12.60" font-size="17.51" text-anchor="middle" textLength="154.70" lengthAdjust="spacingAndGlyphs">Electric field (V/m)</text>
<text x="407.85" y="12.60" font-size="17.51" text-anchor="middle" textLength="160.37" lengthAdjust="spacingAndGlyphs">Potential drop (MV)</text>
<text x="-1.30" y="437.60" font-size="14.60" text-anchor="start" textLength="17.69" lengthAdjust="spacingAndGlyphs">10</text>
<text x="17.20" y="431.60" font-size="10.22" text-anchor="start" textLength="6.19" lengthAdjust="spacingAndGlyphs">4</text>
<text x="-1.30" y="333.98" font-size="14.60" text-anchor="start" textLength="17.69" lengthAdjust="spacingAndGlyphs">10</text>
<text x="17.20" y="327.98" font-size="10.22" text-anchor="start" textLength="6.19" lengthAdjust="spacingAndGlyphs">5</text>
<text x="-1.30" y="230.35" font-size="14.60" text-anchor="start" textLength="17.69" lengthAdjust="spacingAndGlyphs">10</text>
<text x="17.20" y="224.35" font-size="10.22" text-anchor="start" textLength="6.19" lengthAdjust="spacingAndGlyphs">6</text>
<text x="-1.30" y="126.73" font-size="14.60" text-anchor="start" textLength="17.69" lengthAdjust="spacingAndGlyphs">10</text>
<text x="17.20" y="120.73" font-size="10.22" text-anchor="start" textLength="6.19" lengthAdjust="spacingAndGlyphs">7</text>
<text x="-1.30" y="23.10" font-size="14.60" text-anchor="start" textLength="17.69" lengthAdjust="spacingAndGlyphs">10</text>
<text x="17.20" y="17.10" font-size="10.22" text-anchor="start" textLength="6.19" lengthAdjust="spacingAndGlyphs">8</text>
<text x="30.10" y="448.80" font-size="14.60" text-anchor="middle" textLength="8.84" lengthAdjust="spacingAndGlyphs">0</text>
<text x="55.66" y="448.80" font-size="14.60" text-anchor="middle" textLength="17.69" lengthAdjust="spacingAndGlyphs">10</text>
<text x="81.22" y="448.80" font-size="14.60" text-anchor="middle" textLength="17.69" lengthAdjust="spacingAndGlyphs">20</text>
<text x="106.79" y="448.80" font-size="14.60" text-anchor="middle" textLength="17.69" lengthAdjust="spacingAndGlyphs">30</text>
<text x="132.35" y="448.80" font-size="14.60" text-anchor="middle" textLength="17.69" lengthAdjust="spacingAndGlyphs">40</text>
<text x="157.91" y="448.80" font-size="14.60" text-anchor="middle" textLength="17.69" lengthAdjust="spacingAndGlyphs">50</text>
<text x="183.47" y="448.80" font-size="14.60" text-anchor="middle" textLength="17.69" lengthAdjust="spacingAndGlyphs">60</text>
<text x="209.04" y="448.80" font-size="14.60" text-anchor="middle" textLength="17.69" lengthAdjust="spacingAndGlyphs">70</text>
<text x="234.60" y="448.80" font-size="14.60" text-anchor="middle" textLength="17.69" lengthAdjust="spacingAndGlyphs">80</text>
<text x="132.35" y="467.60" font-size="14.60" text-anchor="middle" textLength="43.74" lengthAdjust="spacingAndGlyphs">z (cm)</text>
<text x="40.80" y="36.40" font-size="12.16" text-anchor="start" textLength="97.72" lengthAdjust="spacingAndGlyphs">rise time: 100 ns</text>
<text x="301.00" y="437.40" font-size="14.60" text-anchor="end" textLength="42.60" lengthAdjust="spacingAndGlyphs">−0.05</text>
<text x="301.00" y="391.34" font-size="14.60" text-anchor="end" textLength="30.95" lengthAdjust="spacingAndGlyphs">0.00</text>
<text x="301.00" y="345.29" font-size="14.60" text-anchor="end" textLength="30.95" lengthAdjust="spacingAndGlyphs">0.05</text>
<text x="301.00" y="299.23" font-size="14.60" text-anchor="end" textLength="30.95" lengthAdjust="spacingAndGlyphs">0.10</text>
<text x="301.00" y="253.18" font-size="14.60" text-anchor="end" textLength="30.95" lengthAdjust="spacingAndGlyphs">0.15</text>
<text x="301.00" y="207.12" font-size="14.60" text-anchor="end" textLength="30.95" lengthAdjust="spacingAndGlyphs">0.20</text>
<text x="301.00" y="161.07" font-size="14.60" text-anchor="end" textLength="30.95" lengthAdjust="spacingAndGlyphs">0.25</text>
<text x="301.00" y="115.01" font-size="14.60" text-anchor="end" textLength="30.95" lengthAdjust="spacingAndGlyphs">0.30</text>
<text x="301.00" y="68.96" font-size="14.60" text-anchor="end" textLength="30.95" lengthAdjust="spacingAndGlyphs">0.35</text>
<text x="301.00" y="22.90" font-size="14.60" text-anchor="end" textLength="30.95" lengthAdjust="spacingAndGlyphs">0.40</text>
<text x="305.70" y="448.80" font-size="14.60" text-anchor="middle" textLength="8.84" lengthAdjust="spacingAndGlyphs">0</text>
<text x="346.64" y="448.80" font-size="14.60" text-anchor="middle" textLength="17.69" lengthAdjust="spacingAndGlyphs">20</text>
<text x="387.58" y="448.80" font-size="14.60" text-anchor="middle" textLength="17.69" lengthAdjust="spacingAndGlyphs">40</text>
<text x="428.52" y="448.80" font-size="14.60" text-anchor="middle" textLength="17.69" lengthAdjust="spacingAndGlyphs">60</text>
<text x="469.46" y="448.80" font-size="14.60" text-anchor="middle" textLength="17.69" lengthAdjust="spacingAndGlyphs">80</text>
<text x="510.40" y="448.80" font-size="14.60" text-anchor="middle" textLength="26.53" lengthAdjust="spacingAndGlyphs">100</text>
<text x="408.05" y="467.60" font-size="14.60" text-anchor="middle" textLength="62.72" lengthAdjust="spacingAndGlyphs">time (ns)</text>
<text x="620.40" y="437.50" font-size="14.60" text-anchor="start" textLength="8.84" lengthAdjust="spacingAndGlyphs">0</text>
<text x="620.40" y="396.01" font-size="14.60" text-anchor="start" textLength="17.69" lengthAdjust="spacingAndGlyphs">10</text>
<text x="620.40" y="354.52" font-size="14.60" text-anchor="start" textLength="17.69" lengthAdjust="spacingAndGlyphs">20</text>
<text x="620.40" y="313.03" font-size="14.60" text-anchor="start" textLength="17.69" lengthAdjust="spacingAndGlyphs">30</text>
<text x="620.40" y="271.54" font-size="14.60" text-anchor="start" textLength="17.69" lengthAdjust="spacingAndGlyphs">40</text>
<text x="620.40" y="230.05" font-size="14.60" text-anchor="start" textLength="17.69" lengthAdjust="spacingAndGlyphs">50</text>
<text x="620.40" y="188.56" font-size="14.60" text-anchor="start" textLength="17.69" lengthAdjust="spacingAndGlyphs">60</text>
<text x="620.40" y="147.07" font-size="14.60" text-anchor="start" textLength="17.69" lengthAdjust="spacingAndGlyphs">70</text>
<text x="620.40" y="105.58" font-size="14.60" text-anchor="start" textLength="17.69" lengthAdjust="spacingAndGlyphs">80</text>
<text x="620.40" y="64.09" font-size="14.60" text-anchor="start" textLength="17.69" lengthAdjust="spacingAndGlyphs">90</text>
<text x="565.50" y="466.40" font-size="14.60" text-anchor="start" textLength="65.33" lengthAdjust="spacingAndGlyphs">Time (ns)</text>
</g>
<rect x="311.2" y="23.8" width="126.3" height="33.7" fill="#fff" stroke="#000" stroke-width="1.1"/>
<path d="M317.7,32.1H333.6" stroke="#0000ff" stroke-width="1.2" fill="none"/>
<path d="M318.2,47.8H333.0" stroke="#008000" stroke-width="1.2" stroke-dasharray="6.67 6.67" fill="none"/>
<g fill="#000">
<text x="343.90" y="35.90" font-size="10.95" text-anchor="start" textLength="88.02" lengthAdjust="spacingAndGlyphs">rise time: 100 ns</text>
<text x="343.90" y="51.50" font-size="10.95" text-anchor="start" textLength="81.38" lengthAdjust="spacingAndGlyphs">rise time: 50 ns</text>
</g>
</svg>
</body></html>
